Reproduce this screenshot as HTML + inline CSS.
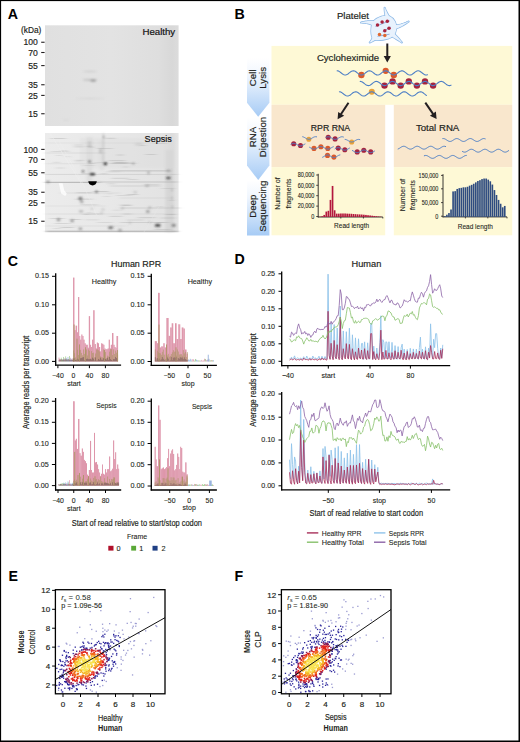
<!DOCTYPE html>
<html><head><meta charset="utf-8"><style>
html,body{margin:0;padding:0;background:#fff;}
body{width:520px;height:742px;overflow:hidden;}
svg{display:block;font-family:"Liberation Sans", sans-serif;}
</style></head><body>
<svg width="520" height="742" viewBox="0 0 520 742">
<rect x="0" y="0" width="520" height="742" fill="#fff"/>
<text x="7.70" y="19.00" font-size="14.2" text-anchor="start" font-weight="bold" fill="#000" >A</text>
<text x="41.30" y="33.00" font-size="8.6" text-anchor="end" font-weight="normal" fill="#231f20" stroke="#231f20" stroke-width="0.18" textLength="20.3" lengthAdjust="spacingAndGlyphs" >(kDa)</text>
<text x="37.80" y="45.35" font-size="8.6" text-anchor="end" font-weight="normal" fill="#231f20" stroke="#231f20" stroke-width="0.18" >100</text>
<line x1="41.20" y1="42.25" x2="44.60" y2="42.25" stroke="#231f20" stroke-width="1.1" />
<text x="37.80" y="55.60" font-size="8.6" text-anchor="end" font-weight="normal" fill="#231f20" stroke="#231f20" stroke-width="0.18" >70</text>
<line x1="41.20" y1="52.50" x2="44.60" y2="52.50" stroke="#231f20" stroke-width="1.1" />
<text x="37.80" y="68.70" font-size="8.6" text-anchor="end" font-weight="normal" fill="#231f20" stroke="#231f20" stroke-width="0.18" >55</text>
<line x1="41.20" y1="65.60" x2="44.60" y2="65.60" stroke="#231f20" stroke-width="1.1" />
<text x="37.80" y="87.85" font-size="8.6" text-anchor="end" font-weight="normal" fill="#231f20" stroke="#231f20" stroke-width="0.18" >35</text>
<line x1="41.20" y1="84.75" x2="44.60" y2="84.75" stroke="#231f20" stroke-width="1.1" />
<text x="37.80" y="98.50" font-size="8.6" text-anchor="end" font-weight="normal" fill="#231f20" stroke="#231f20" stroke-width="0.18" >25</text>
<line x1="41.20" y1="95.40" x2="44.60" y2="95.40" stroke="#231f20" stroke-width="1.1" />
<text x="37.80" y="116.85" font-size="8.6" text-anchor="end" font-weight="normal" fill="#231f20" stroke="#231f20" stroke-width="0.18" >15</text>
<line x1="41.20" y1="113.75" x2="44.60" y2="113.75" stroke="#231f20" stroke-width="1.1" />
<text x="37.80" y="152.50" font-size="8.6" text-anchor="end" font-weight="normal" fill="#231f20" stroke="#231f20" stroke-width="0.18" >100</text>
<line x1="41.20" y1="149.40" x2="44.60" y2="149.40" stroke="#231f20" stroke-width="1.1" />
<text x="37.80" y="162.50" font-size="8.6" text-anchor="end" font-weight="normal" fill="#231f20" stroke="#231f20" stroke-width="0.18" >70</text>
<line x1="41.20" y1="159.40" x2="44.60" y2="159.40" stroke="#231f20" stroke-width="1.1" />
<text x="37.80" y="175.85" font-size="8.6" text-anchor="end" font-weight="normal" fill="#231f20" stroke="#231f20" stroke-width="0.18" >55</text>
<line x1="41.20" y1="172.75" x2="44.60" y2="172.75" stroke="#231f20" stroke-width="1.1" />
<text x="37.80" y="195.35" font-size="8.6" text-anchor="end" font-weight="normal" fill="#231f20" stroke="#231f20" stroke-width="0.18" >35</text>
<line x1="41.20" y1="192.25" x2="44.60" y2="192.25" stroke="#231f20" stroke-width="1.1" />
<text x="37.80" y="205.85" font-size="8.6" text-anchor="end" font-weight="normal" fill="#231f20" stroke="#231f20" stroke-width="0.18" >25</text>
<line x1="41.20" y1="202.75" x2="44.60" y2="202.75" stroke="#231f20" stroke-width="1.1" />
<text x="37.80" y="224.35" font-size="8.6" text-anchor="end" font-weight="normal" fill="#231f20" stroke="#231f20" stroke-width="0.18" >15</text>
<line x1="41.20" y1="221.25" x2="44.60" y2="221.25" stroke="#231f20" stroke-width="1.1" />
<defs><filter id="blur1" x="-50%" y="-50%" width="200%" height="200%"><feGaussianBlur stdDeviation="0.8"/></filter><filter id="blur2" x="-50%" y="-50%" width="200%" height="200%"><feGaussianBlur stdDeviation="1.3"/></filter><filter id="blur05" x="-50%" y="-50%" width="200%" height="200%"><feGaussianBlur stdDeviation="0.5"/></filter><filter id="blurh" x="-20%" y="-50%" width="140%" height="200%"><feGaussianBlur stdDeviation="2.2 0.45"/></filter><linearGradient id="gel1g" x1="0" y1="0" x2="1" y2="0"><stop offset="0" stop-color="#e0e0e0"/><stop offset="0.5" stop-color="#e3e3e3"/><stop offset="0.85" stop-color="#dedede"/><stop offset="0.95" stop-color="#d8d8d8"/><stop offset="1" stop-color="#dcdcdc"/></linearGradient><linearGradient id="gel2g" x1="0" y1="0" x2="1" y2="0"><stop offset="0" stop-color="#ececec"/><stop offset="0.5" stop-color="#e8e8e8"/><stop offset="0.88" stop-color="#e3e3e3"/><stop offset="0.95" stop-color="#dcdcdc"/><stop offset="1" stop-color="#e6e6e6"/></linearGradient></defs>
<rect x="45.00" y="25.30" width="133.60" height="100.70" fill="url(#gel1g)" />
<g filter="url(#blur1)"><ellipse cx="90" cy="79.9" rx="7.5" ry="0.9" fill="#aaa" opacity="0.6"/><ellipse cx="93.2" cy="80.6" rx="3" ry="1.2" fill="#888" opacity="0.75"/><ellipse cx="90" cy="71.4" rx="7" ry="0.5" fill="#b0b0b0" opacity="0.6"/><ellipse cx="90" cy="98.5" rx="16" ry="0.45" fill="#c4c4c4" opacity="0.6"/><ellipse cx="66" cy="120" rx="3" ry="0.6" fill="#ccc" opacity="0.6"/></g>
<text x="142.40" y="34.80" font-size="9.6" text-anchor="start" font-weight="normal" fill="#111" stroke="#111" stroke-width="0.18" textLength="32.8" lengthAdjust="spacingAndGlyphs" >Healthy</text>
<rect x="45.00" y="133.00" width="133.60" height="99.30" fill="url(#gel2g)" />
<g filter="url(#blur2)">
<rect x="165.5" y="150" width="8" height="82" fill="#cfcfcf" opacity="0.55"/>
<rect x="86.5" y="137" width="6" height="45" fill="#d4d4d4" opacity="0.5"/>
<rect x="99.5" y="140" width="5" height="30" fill="#d4d4d4" opacity="0.4"/>
<rect x="80" y="138" width="95" height="30" fill="#dadada" opacity="0.35"/>
</g>
<g filter="url(#blurh)">
<rect x="45" y="181.85" width="55" height="0.9" fill="#777" opacity="0.55"/>
<rect x="100" y="181.60" width="78" height="0.8" fill="#888" opacity="0.4"/>
<rect x="45" y="173.95" width="133" height="0.7" fill="#999" opacity="0.35"/>
<rect x="45" y="152.70" width="60" height="0.6" fill="#aaa" opacity="0.4"/>
<rect x="110" y="163.15" width="16" height="0.7" fill="#999" opacity="0.5"/>
<rect x="110" y="170.00" width="60" height="1.6" fill="#bbb" opacity="0.55"/>
<rect x="46" y="163.50" width="40" height="0.6" fill="#bbb" opacity="0.4"/>
<rect x="120" y="207.60" width="60" height="0.8" fill="#aaa" opacity="0.5"/>
<rect x="46" y="205.70" width="60" height="0.6" fill="#c0c0c0" opacity="0.4"/>
<rect x="46" y="230.65" width="132" height="1.5" fill="#aaa" opacity="0.7"/>
<rect x="110" y="185.65" width="50" height="0.7" fill="#aaa" opacity="0.5"/>
<rect x="60" y="192.70" width="60" height="0.6" fill="#bbb" opacity="0.4"/>
<rect x="46" y="213.70" width="130" height="0.6" fill="#c4c4c4" opacity="0.5"/>
<rect x="120" y="222.15" width="45" height="0.7" fill="#aaa" opacity="0.5"/>
<rect x="46" y="225.70" width="80" height="0.6" fill="#c0c0c0" opacity="0.45"/>
<rect x="120" y="197.70" width="50" height="0.6" fill="#bbb" opacity="0.4"/>
<rect x="46" y="142.70" width="120" height="0.6" fill="#ccc" opacity="0.4"/>
<rect x="116.7" y="195.4" width="15.4" height="0.6" fill="#999" opacity="0.38"/>
<rect x="126.8" y="219.7" width="16.7" height="0.6" fill="#999" opacity="0.36"/>
<rect x="126.8" y="194.0" width="11.0" height="0.6" fill="#999" opacity="0.59"/>
<rect x="111.5" y="177.9" width="17.2" height="0.6" fill="#999" opacity="0.49"/>
<rect x="83.4" y="165.1" width="10.9" height="0.6" fill="#999" opacity="0.32"/>
<rect x="121.3" y="205.2" width="10.0" height="0.6" fill="#999" opacity="0.55"/>
<rect x="161.1" y="188.2" width="13.5" height="0.6" fill="#999" opacity="0.34"/>
<rect x="52.9" y="228.1" width="8.0" height="0.6" fill="#999" opacity="0.36"/>
<rect x="157.2" y="206.5" width="5.7" height="0.6" fill="#999" opacity="0.40"/>
<rect x="76.1" y="161.6" width="4.1" height="0.6" fill="#999" opacity="0.46"/>
<rect x="83.7" y="173.1" width="6.6" height="0.6" fill="#999" opacity="0.33"/>
<rect x="50.1" y="218.0" width="14.5" height="0.6" fill="#999" opacity="0.47"/>
<rect x="61.4" y="150.0" width="5.7" height="0.6" fill="#999" opacity="0.39"/>
<rect x="53.1" y="161.9" width="6.8" height="0.6" fill="#999" opacity="0.36"/>
<rect x="127.1" y="179.0" width="10.6" height="0.6" fill="#999" opacity="0.41"/>
<rect x="112.8" y="209.8" width="8.3" height="0.6" fill="#999" opacity="0.32"/>
<rect x="105.7" y="171.6" width="14.9" height="0.6" fill="#999" opacity="0.33"/>
<rect x="154.2" y="137.4" width="11.6" height="0.6" fill="#999" opacity="0.43"/>
<rect x="85.1" y="219.6" width="13.8" height="0.6" fill="#999" opacity="0.35"/>
<rect x="107.4" y="193.6" width="4.5" height="0.6" fill="#999" opacity="0.33"/>
<rect x="120.6" y="204.6" width="10.5" height="0.6" fill="#999" opacity="0.43"/>
<rect x="108.9" y="160.5" width="16.3" height="0.6" fill="#999" opacity="0.59"/>
<rect x="105.8" y="137.9" width="9.6" height="0.6" fill="#999" opacity="0.54"/>
<rect x="86.3" y="145.9" width="6.6" height="0.6" fill="#999" opacity="0.51"/>
<rect x="123.1" y="162.9" width="12.7" height="0.6" fill="#999" opacity="0.53"/>
<rect x="165.8" y="214.1" width="10.1" height="0.6" fill="#999" opacity="0.54"/>
<rect x="160.8" y="217.7" width="14.5" height="0.6" fill="#999" opacity="0.48"/>
<rect x="109.4" y="215.9" width="12.8" height="0.6" fill="#999" opacity="0.52"/>
<rect x="74.3" y="144.7" width="7.8" height="0.6" fill="#999" opacity="0.48"/>
<rect x="117.1" y="154.7" width="6.6" height="0.6" fill="#999" opacity="0.59"/>
<rect x="54.9" y="223.1" width="14.8" height="0.6" fill="#999" opacity="0.47"/>
<rect x="169.5" y="199.9" width="4.1" height="0.6" fill="#999" opacity="0.58"/>
<rect x="97.3" y="222.2" width="15.4" height="0.6" fill="#999" opacity="0.34"/>
<rect x="50.9" y="138.0" width="14.9" height="0.6" fill="#999" opacity="0.54"/>
<rect x="74.3" y="146.6" width="9.1" height="0.6" fill="#999" opacity="0.54"/>
<rect x="137.9" y="217.5" width="17.6" height="0.6" fill="#999" opacity="0.53"/>
<rect x="149.6" y="137.5" width="4.1" height="0.6" fill="#999" opacity="0.56"/>
<rect x="122.7" y="166.7" width="5.8" height="0.6" fill="#999" opacity="0.40"/>
<rect x="88.1" y="182.6" width="10.3" height="0.6" fill="#999" opacity="0.36"/>
<rect x="56.2" y="155.1" width="5.8" height="0.6" fill="#999" opacity="0.33"/>
<rect x="97.4" y="148.2" width="15.2" height="0.6" fill="#999" opacity="0.46"/>
<rect x="103.1" y="196.1" width="7.3" height="0.6" fill="#999" opacity="0.31"/>
<rect x="55.8" y="167.7" width="9.1" height="0.6" fill="#999" opacity="0.38"/>
<rect x="84.0" y="214.4" width="4.1" height="0.6" fill="#999" opacity="0.43"/>
<rect x="93.5" y="162.5" width="14.1" height="0.6" fill="#999" opacity="0.37"/>
<rect x="51.2" y="151.0" width="17.7" height="0.6" fill="#999" opacity="0.40"/>
<rect x="60.5" y="227.3" width="13.0" height="0.6" fill="#999" opacity="0.59"/>
<rect x="87.1" y="212.1" width="4.6" height="0.6" fill="#999" opacity="0.37"/>
<rect x="144.5" y="184.5" width="15.1" height="0.6" fill="#999" opacity="0.42"/>
<rect x="154.7" y="143.3" width="12.7" height="0.6" fill="#999" opacity="0.36"/>
<rect x="70.7" y="219.0" width="10.0" height="0.6" fill="#999" opacity="0.54"/>
<rect x="81.2" y="204.6" width="16.7" height="0.6" fill="#999" opacity="0.49"/>
<rect x="75.1" y="198.8" width="17.3" height="0.6" fill="#999" opacity="0.54"/>
<rect x="101.0" y="173.5" width="5.4" height="0.6" fill="#999" opacity="0.53"/>
<rect x="65.6" y="156.5" width="4.5" height="0.6" fill="#999" opacity="0.35"/>
<rect x="93.6" y="180.8" width="6.5" height="0.6" fill="#999" opacity="0.43"/>
<rect x="140.0" y="145.1" width="5.9" height="0.6" fill="#999" opacity="0.46"/>
<rect x="158.1" y="222.3" width="12.0" height="0.6" fill="#999" opacity="0.33"/>
<rect x="154.3" y="229.3" width="16.6" height="0.6" fill="#999" opacity="0.46"/>
<rect x="93.4" y="191.2" width="15.1" height="0.6" fill="#999" opacity="0.60"/>
<rect x="107.2" y="183.6" width="8.3" height="0.6" fill="#999" opacity="0.46"/>
<rect x="113.4" y="162.6" width="10.4" height="0.6" fill="#999" opacity="0.57"/>
<rect x="75.3" y="159.9" width="8.3" height="0.6" fill="#999" opacity="0.56"/>
<rect x="83.6" y="213.7" width="17.0" height="0.6" fill="#999" opacity="0.56"/>
<rect x="145.7" y="154.3" width="10.3" height="0.6" fill="#999" opacity="0.55"/>
<rect x="76.5" y="192.6" width="16.2" height="0.6" fill="#999" opacity="0.58"/>
<rect x="89.5" y="147.2" width="4.4" height="0.6" fill="#999" opacity="0.39"/>
<rect x="113.8" y="162.4" width="15.5" height="0.6" fill="#999" opacity="0.50"/>
<rect x="123.0" y="213.7" width="8.6" height="0.6" fill="#999" opacity="0.49"/>
<rect x="89.5" y="163.2" width="5.6" height="0.6" fill="#999" opacity="0.54"/>
</g><g filter="url(#blur1)">
<ellipse cx="92.5" cy="174.3" rx="3.0" ry="0.95" fill="#000" opacity="0.95"/>
<ellipse cx="105.3" cy="163.7" rx="1.8" ry="1.3" fill="#111" opacity="1"/>
<ellipse cx="83" cy="171.4" rx="1.3" ry="0.8" fill="#222" opacity="0.9"/>
<ellipse cx="89.5" cy="161.6" rx="1.7" ry="1.1" fill="#555" opacity="0.8"/>
<ellipse cx="96.5" cy="191.8" rx="1.6" ry="1.1" fill="#555" opacity="0.8"/>
<ellipse cx="80.4" cy="198.5" rx="2.2" ry="1.4" fill="#555" opacity="0.8"/>
<ellipse cx="81.7" cy="201.7" rx="1.8" ry="0.9" fill="#555" opacity="0.7"/>
<ellipse cx="58.5" cy="219.7" rx="2.0" ry="1.3" fill="#666" opacity="0.7"/>
<ellipse cx="72.1" cy="220.8" rx="2.0" ry="1.0" fill="#555" opacity="0.75"/>
<ellipse cx="110.1" cy="227.8" rx="2.2" ry="1.0" fill="#444" opacity="0.75"/>
<ellipse cx="80.4" cy="228.7" rx="2.0" ry="0.9" fill="#555" opacity="0.7"/>
<ellipse cx="81.1" cy="211.4" rx="2.4" ry="0.8" fill="#777" opacity="0.6"/>
<ellipse cx="157.7" cy="225.4" rx="3.0" ry="1.3" fill="#222" opacity="0.85"/>
<ellipse cx="173.7" cy="225.4" rx="2.2" ry="1.1" fill="#444" opacity="0.75"/>
<ellipse cx="147.8" cy="211.5" rx="2.0" ry="0.9" fill="#555" opacity="0.7"/>
<ellipse cx="149.8" cy="207.5" rx="1.8" ry="0.7" fill="#777" opacity="0.6"/>
<ellipse cx="120" cy="230.1" rx="2.0" ry="0.9" fill="#555" opacity="0.7"/>
<ellipse cx="111.3" cy="227.4" rx="2.4" ry="1.0" fill="#444" opacity="0.7"/>
<ellipse cx="168.4" cy="178.0" rx="2.6" ry="1.0" fill="#222" opacity="0.9"/>
<ellipse cx="148.5" cy="172.8" rx="1.5" ry="0.8" fill="#555" opacity="0.7"/>
<ellipse cx="133.2" cy="163.5" rx="1.4" ry="0.7" fill="#666" opacity="0.7"/>
<ellipse cx="89.5" cy="142.7" rx="2.2" ry="0.8" fill="#999" opacity="0.6"/>
<ellipse cx="89.5" cy="145.9" rx="2.2" ry="0.8" fill="#999" opacity="0.6"/>
<ellipse cx="103.6" cy="136.9" rx="0.9" ry="0.9" fill="#555" opacity="0.8"/>
<ellipse cx="100.4" cy="149.8" rx="1.5" ry="0.7" fill="#888" opacity="0.6"/>
<ellipse cx="100.4" cy="152.3" rx="1.5" ry="0.7" fill="#888" opacity="0.6"/>
<ellipse cx="147.1" cy="185.7" rx="2.5" ry="0.8" fill="#777" opacity="0.6"/>
<ellipse cx="135.2" cy="192.3" rx="2" ry="0.7" fill="#888" opacity="0.5"/>
<ellipse cx="122.6" cy="208.2" rx="1.8" ry="0.7" fill="#888" opacity="0.5"/>
<ellipse cx="92" cy="208.8" rx="1.6" ry="0.7" fill="#888" opacity="0.5"/>
<ellipse cx="103" cy="209.4" rx="1.8" ry="0.7" fill="#888" opacity="0.5"/>
<ellipse cx="101.7" cy="212.9" rx="1.8" ry="0.7" fill="#888" opacity="0.5"/>
<ellipse cx="129.9" cy="222.8" rx="1.8" ry="0.6" fill="#888" opacity="0.5"/>
<ellipse cx="149.8" cy="222.1" rx="1.8" ry="0.6" fill="#888" opacity="0.5"/>
<ellipse cx="172.3" cy="206.9" rx="1.6" ry="0.7" fill="#888" opacity="0.5"/>
<ellipse cx="168.5" cy="170.8" rx="2.5" ry="0.8" fill="#666" opacity="0.6"/>
<ellipse cx="48" cy="181.8" rx="2" ry="0.7" fill="#444" opacity="0.7"/>
<ellipse cx="139" cy="144.3" rx="5" ry="0.8" fill="#aaa" opacity="0.5"/>
<ellipse cx="172" cy="190" rx="1.5" ry="0.8" fill="#888" opacity="0.5"/>
<ellipse cx="172" cy="198" rx="1.5" ry="0.8" fill="#888" opacity="0.5"/>
<rect x="102.8" y="133" width="0.9" height="32" fill="#999" opacity="0.45"/>
</g>
<g filter="url(#blur05)"><path d="M88.3,181.3 L96.8,181.3 C96.8,183.6 94.9,185.4 92.55,185.4 C90.2,185.4 88.3,183.6 88.3,181.3 Z" fill="#000"/></g>
<g filter="url(#blur05)" opacity="0.8"><line x1="50.2" y1="133.5" x2="81.1" y2="183" stroke="#efefef" stroke-width="0.7"/><line x1="59" y1="141" x2="82.5" y2="183" stroke="#eeeeee" stroke-width="0.5"/><line x1="82.5" y1="183" x2="96.5" y2="215" stroke="#eeeeee" stroke-width="0.5"/><path d="M58.8,183.3 L62.6,183.3 L64.2,190.3 L66.8,193.8 L65.2,196.0 L61.2,193.4 Z" fill="#ffffff"/><line x1="144" y1="232" x2="160" y2="205" stroke="#ebebeb" stroke-width="0.4"/></g>
<text x="144.60" y="141.80" font-size="9.6" text-anchor="start" font-weight="normal" fill="#111" stroke="#111" stroke-width="0.18" textLength="27.2" lengthAdjust="spacingAndGlyphs" >Sepsis</text>
<text x="234.40" y="18.80" font-size="14.2" text-anchor="start" font-weight="bold" fill="#000" >B</text>
<rect x="271.50" y="45.90" width="240.70" height="58.90" fill="#fef9d6" />
<rect x="271.50" y="104.80" width="113.70" height="62.30" fill="#f9e7cd" />
<rect x="393.80" y="104.80" width="118.40" height="62.30" fill="#f9e7cd" />
<rect x="271.50" y="167.10" width="113.70" height="68.20" fill="#fef9d6" />
<rect x="393.80" y="167.10" width="118.40" height="68.20" fill="#fef9d6" />
<defs><linearGradient id="chev" x1="0" y1="0" x2="0" y2="1"><stop offset="0" stop-color="#ffffff"/><stop offset="0.3" stop-color="#f0f6fe"/><stop offset="1" stop-color="#a6cbf5"/></linearGradient></defs>
<path d="M247,58 L269.4,58 L269.4,102.8 L258.2,116.8 L247,102.8 Z" fill="url(#chev)"/>
<path d="M247,117.2 L269.4,117.2 L269.4,165.6 L258.2,180 L247,165.6 Z" fill="url(#chev)"/>
<path d="M247,180.3 L269.4,180.3 L269.4,235.5 L247,235.5 Z" fill="url(#chev)"/>
<text transform="translate(256.40,77.80) rotate(-90)" x="0" y="0" font-size="9.7" text-anchor="middle" font-weight="normal" fill="#231f20" stroke="#231f20" stroke-width="0.18">Cell</text>
<text transform="translate(266.20,77.80) rotate(-90)" x="0" y="0" font-size="9.7" text-anchor="middle" font-weight="normal" fill="#231f20" stroke="#231f20" stroke-width="0.18">Lysis</text>
<text transform="translate(256.40,137.00) rotate(-90)" x="0" y="0" font-size="9.7" text-anchor="middle" font-weight="normal" fill="#231f20" stroke="#231f20" stroke-width="0.18">RNA</text>
<text transform="translate(266.20,137.00) rotate(-90)" x="0" y="0" font-size="9.7" text-anchor="middle" font-weight="normal" fill="#231f20" stroke="#231f20" stroke-width="0.18">Digestion</text>
<text transform="translate(256.40,206.20) rotate(-90)" x="0" y="0" font-size="9.7" text-anchor="middle" font-weight="normal" fill="#231f20" stroke="#231f20" stroke-width="0.18">Deep</text>
<text transform="translate(266.20,206.20) rotate(-90)" x="0" y="0" font-size="9.7" text-anchor="middle" font-weight="normal" fill="#231f20" stroke="#231f20" stroke-width="0.18">Sequencing</text>
<text x="336.90" y="19.40" font-size="9.6" text-anchor="start" font-weight="normal" fill="#231f20" stroke="#231f20" stroke-width="0.18" textLength="32" lengthAdjust="spacingAndGlyphs" >Platelet</text>
<text x="316.90" y="60.80" font-size="9.6" text-anchor="start" font-weight="normal" fill="#231f20" stroke="#231f20" stroke-width="0.18" textLength="62.3" lengthAdjust="spacingAndGlyphs" >Cycloheximide</text>
<text x="310.80" y="130.80" font-size="9.4" text-anchor="start" font-weight="normal" fill="#231f20" stroke="#231f20" stroke-width="0.18" textLength="39.4" lengthAdjust="spacingAndGlyphs" >RPR RNA</text>
<text x="415.90" y="131.00" font-size="9.4" text-anchor="start" font-weight="normal" fill="#231f20" stroke="#231f20" stroke-width="0.18" textLength="43.4" lengthAdjust="spacingAndGlyphs" >Total RNA</text>
<path d="M390.55,18.58 L390.03,17.74 L389.52,16.91 L389.04,16.09 L388.57,15.28 L388.11,14.47 L387.68,13.68 L387.26,12.89 L386.86,12.10 L386.48,11.33 L386.12,10.56 L385.77,9.80 L385.45,9.05 L385.14,8.30 L384.85,7.55 L384.35,7.65 L384.37,8.46 L384.40,9.28 L384.46,10.13 L384.53,10.99 L384.63,11.87 L384.75,12.76 L384.89,13.66 L385.05,14.59 L385.23,15.52 L385.43,16.47 L385.65,17.44 L385.90,18.42 L386.16,19.41 L386.45,20.42 Z" fill="#e8f2fd" stroke="#8db9e6" stroke-width="1.5" stroke-linejoin="round"/>
<path d="M392.20,29.74 L393.42,29.47 L394.63,29.14 L395.84,28.77 L397.04,28.35 L398.24,27.88 L399.44,27.36 L400.63,26.80 L401.82,26.19 L403.00,25.54 L404.19,24.84 L405.37,24.10 L406.56,23.32 L407.74,22.49 L408.93,21.61 L408.67,21.19 L407.35,21.81 L406.05,22.38 L404.76,22.89 L403.49,23.36 L402.23,23.77 L400.99,24.14 L399.77,24.45 L398.57,24.71 L397.39,24.92 L396.23,25.09 L395.09,25.20 L393.97,25.27 L392.88,25.29 L391.80,25.26 Z" fill="#e8f2fd" stroke="#8db9e6" stroke-width="1.5" stroke-linejoin="round"/>
<path d="M389.65,35.30 L390.58,35.82 L391.49,36.34 L392.40,36.87 L393.30,37.40 L394.20,37.92 L395.08,38.46 L395.95,38.99 L396.82,39.52 L397.68,40.06 L398.52,40.60 L399.36,41.14 L400.19,41.69 L401.02,42.23 L401.83,42.78 L402.17,42.42 L401.54,41.65 L400.91,40.89 L400.26,40.12 L399.60,39.36 L398.93,38.59 L398.24,37.83 L397.55,37.06 L396.84,36.30 L396.12,35.53 L395.39,34.76 L394.65,34.00 L393.89,33.23 L393.13,32.47 L392.35,31.70 Z" fill="#e8f2fd" stroke="#8db9e6" stroke-width="1.5" stroke-linejoin="round"/>
<path d="M373.49,36.19 L373.23,36.68 L372.96,37.16 L372.69,37.63 L372.42,38.10 L372.14,38.56 L371.86,39.01 L371.58,39.46 L371.29,39.90 L370.99,40.33 L370.69,40.76 L370.39,41.18 L370.08,41.59 L369.77,42.00 L369.45,42.40 L369.75,42.80 L370.23,42.59 L370.71,42.37 L371.19,42.14 L371.67,41.90 L372.16,41.64 L372.64,41.37 L373.12,41.09 L373.61,40.80 L374.09,40.50 L374.58,40.18 L375.06,39.86 L375.54,39.52 L376.03,39.17 L376.51,38.81 Z" fill="#e8f2fd" stroke="#8db9e6" stroke-width="1.5" stroke-linejoin="round"/>
<path d="M374.68,21.35 L373.70,21.21 L372.72,21.11 L371.74,21.03 L370.75,21.00 L369.77,20.99 L368.78,21.02 L367.79,21.08 L366.79,21.17 L365.79,21.29 L364.80,21.44 L363.79,21.63 L362.79,21.84 L361.78,22.08 L360.77,22.35 L360.83,22.85 L361.87,22.86 L362.88,22.91 L363.87,22.98 L364.84,23.09 L365.78,23.22 L366.71,23.38 L367.61,23.57 L368.50,23.79 L369.36,24.03 L370.19,24.31 L371.01,24.60 L371.80,24.93 L372.57,25.27 L373.32,25.65 Z" fill="#e8f2fd" stroke="#8db9e6" stroke-width="1.5" stroke-linejoin="round"/>
<path d="M373,21.5 C378,16.5 385,14.8 389.5,16.3 C394.5,18.5 397,24 396.3,29 C395.7,34 393,37.3 388,38.8 C383,40.3 377,40.8 373.3,39.6 C370.6,36 370.3,27 373,21.5 Z" fill="#e8f2fd" stroke="#8db9e6" stroke-width="1.5" stroke-linejoin="round"/>
<path d="M390.55,18.58 L390.03,17.74 L389.52,16.91 L389.04,16.09 L388.57,15.28 L388.11,14.47 L387.68,13.68 L387.26,12.89 L386.86,12.10 L386.48,11.33 L386.12,10.56 L385.77,9.80 L385.45,9.05 L385.14,8.30 L384.85,7.55 L384.35,7.65 L384.37,8.46 L384.40,9.28 L384.46,10.13 L384.53,10.99 L384.63,11.87 L384.75,12.76 L384.89,13.66 L385.05,14.59 L385.23,15.52 L385.43,16.47 L385.65,17.44 L385.90,18.42 L386.16,19.41 L386.45,20.42 Z" fill="#e8f2fd"/>
<path d="M392.20,29.74 L393.42,29.47 L394.63,29.14 L395.84,28.77 L397.04,28.35 L398.24,27.88 L399.44,27.36 L400.63,26.80 L401.82,26.19 L403.00,25.54 L404.19,24.84 L405.37,24.10 L406.56,23.32 L407.74,22.49 L408.93,21.61 L408.67,21.19 L407.35,21.81 L406.05,22.38 L404.76,22.89 L403.49,23.36 L402.23,23.77 L400.99,24.14 L399.77,24.45 L398.57,24.71 L397.39,24.92 L396.23,25.09 L395.09,25.20 L393.97,25.27 L392.88,25.29 L391.80,25.26 Z" fill="#e8f2fd"/>
<path d="M389.65,35.30 L390.58,35.82 L391.49,36.34 L392.40,36.87 L393.30,37.40 L394.20,37.92 L395.08,38.46 L395.95,38.99 L396.82,39.52 L397.68,40.06 L398.52,40.60 L399.36,41.14 L400.19,41.69 L401.02,42.23 L401.83,42.78 L402.17,42.42 L401.54,41.65 L400.91,40.89 L400.26,40.12 L399.60,39.36 L398.93,38.59 L398.24,37.83 L397.55,37.06 L396.84,36.30 L396.12,35.53 L395.39,34.76 L394.65,34.00 L393.89,33.23 L393.13,32.47 L392.35,31.70 Z" fill="#e8f2fd"/>
<path d="M373.49,36.19 L373.23,36.68 L372.96,37.16 L372.69,37.63 L372.42,38.10 L372.14,38.56 L371.86,39.01 L371.58,39.46 L371.29,39.90 L370.99,40.33 L370.69,40.76 L370.39,41.18 L370.08,41.59 L369.77,42.00 L369.45,42.40 L369.75,42.80 L370.23,42.59 L370.71,42.37 L371.19,42.14 L371.67,41.90 L372.16,41.64 L372.64,41.37 L373.12,41.09 L373.61,40.80 L374.09,40.50 L374.58,40.18 L375.06,39.86 L375.54,39.52 L376.03,39.17 L376.51,38.81 Z" fill="#e8f2fd"/>
<path d="M374.68,21.35 L373.70,21.21 L372.72,21.11 L371.74,21.03 L370.75,21.00 L369.77,20.99 L368.78,21.02 L367.79,21.08 L366.79,21.17 L365.79,21.29 L364.80,21.44 L363.79,21.63 L362.79,21.84 L361.78,22.08 L360.77,22.35 L360.83,22.85 L361.87,22.86 L362.88,22.91 L363.87,22.98 L364.84,23.09 L365.78,23.22 L366.71,23.38 L367.61,23.57 L368.50,23.79 L369.36,24.03 L370.19,24.31 L371.01,24.60 L371.80,24.93 L372.57,25.27 L373.32,25.65 Z" fill="#e8f2fd"/>
<path d="M373,21.5 C378,16.5 385,14.8 389.5,16.3 C394.5,18.5 397,24 396.3,29 C395.7,34 393,37.3 388,38.8 C383,40.3 377,40.8 373.3,39.6 C370.6,36 370.3,27 373,21.5 Z" fill="#e8f2fd"/>
<path d="M375.5,26.5 L389.6,20.7 M382.7,31.7 L390.8,27.1 M377.5,36.3 L389.6,34.2" stroke="#5a86c8" stroke-width="0.6" fill="none"/>
<circle cx="377.5" cy="25.1" r="1.75" fill="#a8243f"/>
<circle cx="382.1" cy="22.1" r="1.75" fill="#a8243f"/>
<circle cx="387.3" cy="21.3" r="1.75" fill="#a8243f"/>
<circle cx="384.8" cy="30.8" r="1.75" fill="#a8243f"/>
<circle cx="389.0" cy="28.2" r="1.75" fill="#a8243f"/>
<circle cx="379.5" cy="34.6" r="1.75" fill="#e0682f"/>
<circle cx="384.8" cy="35.4" r="1.75" fill="#e0682f"/>
<line x1="387.30" y1="43.50" x2="387.30" y2="56.60" stroke="#231f20" stroke-width="2.0" />
<path d="M387.30,62.60 L383.70,56.10 L390.90,56.10 Z" fill="#231f20"/>
<line x1="348.50" y1="102.80" x2="340.91" y2="114.29" stroke="#231f20" stroke-width="2.0" />
<path d="M337.60,119.30 L338.18,111.89 L344.19,115.86 Z" fill="#231f20"/>
<line x1="425.30" y1="102.60" x2="433.20" y2="114.06" stroke="#231f20" stroke-width="2.0" />
<path d="M436.60,119.00 L429.95,115.69 L435.88,111.60 Z" fill="#231f20"/>
<circle cx="361.40" cy="75.00" r="3.2" fill="#da5a2c"/>
<circle cx="385.70" cy="70.80" r="3.1" fill="#da5a2c"/>
<circle cx="393.80" cy="75.00" r="3.2" fill="#da5a2c"/>
<circle cx="384.50" cy="85.60" r="3.2" fill="#a5243f"/>
<circle cx="392.60" cy="81.40" r="3.2" fill="#a5243f"/>
<circle cx="400.70" cy="85.60" r="3.2" fill="#a5243f"/>
<circle cx="408.80" cy="81.40" r="3.2" fill="#a5243f"/>
<circle cx="416.90" cy="85.60" r="3.2" fill="#a5243f"/>
<circle cx="425.00" cy="81.40" r="3.2" fill="#a5243f"/>
<circle cx="433.10" cy="85.60" r="3.2" fill="#a5243f"/>
<circle cx="371.80" cy="91.80" r="3.0" fill="#e9a23a"/>
<polyline points="337.10,70.80 337.80,70.88 338.49,71.10 339.19,71.45 339.88,71.91 340.58,72.44 341.27,73.00 341.97,73.55 342.66,74.06 343.36,74.49 344.05,74.80 344.75,74.97 345.44,74.99 346.14,74.86 346.84,74.59 347.53,74.20 348.23,73.71 348.92,73.17 349.62,72.60 350.31,72.06 351.01,71.58 351.70,71.19 352.40,70.93 353.09,70.81 353.79,70.84 354.48,71.02 355.18,71.33 355.88,71.76 356.57,72.27 357.27,72.83 357.96,73.39 358.66,73.92 359.35,74.37 360.05,74.72 360.74,74.93 361.44,75.00 362.13,74.92 362.83,74.69 363.52,74.33 364.22,73.86 364.92,73.33 365.61,72.77 366.31,72.22 367.00,71.71 367.70,71.29 368.39,70.99 369.09,70.83 369.78,70.81 370.48,70.95 371.17,71.23 371.87,71.63 372.56,72.12 373.26,72.66 373.96,73.23 374.65,73.77 375.35,74.25 376.04,74.63 376.74,74.88 377.43,75.00 378.13,74.96 378.82,74.77 379.52,74.44 380.21,74.01 380.91,73.50 381.60,72.94 382.30,72.38 383.00,71.85 383.69,71.41 384.39,71.07 385.08,70.86 385.78,70.80 386.47,70.89 387.17,71.13 387.86,71.50 388.56,71.96 389.25,72.50 389.95,73.06 390.64,73.61 391.34,74.11 392.04,74.53 392.73,74.82 393.43,74.98 394.12,74.98 394.82,74.84 395.51,74.55 396.21,74.15 396.90,73.65 397.60,73.10 398.29,72.54 398.99,72.00 399.68,71.53 400.38,71.15 401.08,70.91 401.77,70.80 402.47,70.85 403.16,71.05 403.86,71.38 404.55,71.82 405.25,72.34 405.94,72.89 406.64,73.45 407.33,73.97 408.03,74.42 408.72,74.75 409.42,74.95 410.12,75.00 410.81,74.90 411.51,74.65 412.20,74.28 412.90,73.81 413.59,73.27 414.29,72.71 414.98,72.16 415.68,71.66 416.37,71.25 417.07,70.97 417.76,70.82 418.46,70.82 419.16,70.97 419.85,71.27 420.55,71.68 421.24,72.18 421.94,72.73 422.63,73.29 423.33,73.83 424.02,74.29 424.72,74.66 425.41,74.90 426.11,75.00 426.80,74.94 427.50,74.74" fill="none" stroke="#4f80c6" stroke-width="1.1" stroke-linecap="round" stroke-linejoin="round"/>
<polyline points="360.20,81.40 360.90,81.48 361.60,81.70 362.30,82.06 362.99,82.52 363.69,83.05 364.39,83.61 365.09,84.17 365.79,84.68 366.49,85.10 367.18,85.41 367.88,85.57 368.58,85.59 369.28,85.45 369.98,85.17 370.68,84.77 371.38,84.28 372.07,83.72 372.77,83.16 373.47,82.62 374.17,82.14 374.87,81.76 375.57,81.51 376.26,81.40 376.96,81.45 377.66,81.65 378.36,81.98 379.06,82.42 379.76,82.94 380.46,83.50 381.15,84.07 381.85,84.59 382.55,85.03 383.25,85.36 383.95,85.55 384.65,85.60 385.34,85.49 386.04,85.24 386.74,84.86 387.44,84.38 388.14,83.83 388.84,83.27 389.54,82.72 390.23,82.22 390.93,81.82 391.63,81.55 392.33,81.41 393.03,81.43 393.73,81.60 394.42,81.90 395.12,82.33 395.82,82.84 396.52,83.39 397.22,83.96 397.92,84.49 398.62,84.95 399.31,85.30 400.01,85.53 400.71,85.60 401.41,85.52 402.11,85.29 402.81,84.94 403.50,84.48 404.20,83.94 404.90,83.38 405.60,82.82 406.30,82.31 407.00,81.89 407.70,81.59 408.39,81.43 409.09,81.41 409.79,81.55 410.49,81.83 411.19,82.24 411.89,82.73 412.58,83.28 413.28,83.85 413.98,84.39 414.68,84.87 415.38,85.24 416.08,85.49 416.78,85.60 417.47,85.55 418.17,85.35 418.87,85.02 419.57,84.57 420.27,84.05 420.97,83.49 421.66,82.93 422.36,82.41 423.06,81.97 423.76,81.64 424.46,81.45 425.16,81.40 425.86,81.51 426.55,81.77 427.25,82.15 427.95,82.63 428.65,83.17 429.35,83.74 430.05,84.29 430.74,84.78 431.44,85.18 432.14,85.46 432.84,85.59 433.54,85.57 434.24,85.40 434.94,85.09 435.63,84.66 436.33,84.15 437.03,83.60 437.73,83.03 438.43,82.50 439.13,82.04 439.82,81.69 440.52,81.47 441.22,81.40 441.92,81.48 442.62,81.71 443.32,82.07 444.02,82.53 444.71,83.07 445.41,83.63 446.11,84.19 446.81,84.69 447.51,85.11 448.21,85.41 448.90,85.58 449.60,85.59 450.30,85.44 451.00,85.16" fill="none" stroke="#4f80c6" stroke-width="1.1" stroke-linecap="round" stroke-linejoin="round"/>
<polyline points="339.40,91.80 340.10,91.88 340.79,92.10 341.49,92.45 342.19,92.91 342.88,93.44 343.58,94.01 344.28,94.56 344.97,95.07 345.67,95.49 346.37,95.80 347.06,95.97 347.76,95.99 348.46,95.86 349.16,95.58 349.85,95.19 350.55,94.70 351.25,94.15 351.94,93.58 352.64,93.04 353.34,92.56 354.03,92.18 354.73,91.92 355.43,91.80 356.12,91.84 356.82,92.03 357.52,92.35 358.21,92.79 358.91,93.31 359.61,93.87 360.30,94.43 361.00,94.95 361.70,95.40 362.39,95.74 363.09,95.94 363.79,96.00 364.48,95.90 365.18,95.66 365.88,95.29 366.58,94.82 367.27,94.29 367.97,93.72 368.67,93.17 369.36,92.67 370.06,92.26 370.76,91.97 371.45,91.82 372.15,91.82 372.85,91.97 373.54,92.26 374.24,92.67 374.94,93.17 375.63,93.72 376.33,94.29 377.03,94.83 377.72,95.30 378.42,95.66 379.12,95.90 379.81,96.00 380.51,95.94 381.21,95.74 381.90,95.40 382.60,94.95 383.30,94.43 384.00,93.86 384.69,93.30 385.39,92.79 386.09,92.35 386.78,92.03 387.48,91.84 388.18,91.80 388.87,91.92 389.57,92.18 390.27,92.56 390.96,93.04 391.66,93.58 392.36,94.15 393.05,94.70 393.75,95.19 394.45,95.58 395.14,95.86 395.84,95.99 396.54,95.97 397.23,95.80 397.93,95.49 398.63,95.07 399.32,94.56 400.02,94.00 400.72,93.44 401.42,92.91 402.11,92.45 402.81,92.10 403.51,91.88 404.20,91.80 404.90,91.88 405.60,92.10 406.29,92.45 406.99,92.91 407.69,93.44 408.38,94.01 409.08,94.56 409.78,95.07 410.47,95.49 411.17,95.80 411.87,95.97 412.56,95.99 413.26,95.86 413.96,95.58 414.65,95.18 415.35,94.69 416.05,94.15 416.74,93.58 417.44,93.04 418.14,92.56 418.84,92.18 419.53,91.92 420.23,91.80 420.93,91.84 421.62,92.03 422.32,92.36 423.02,92.79 423.71,93.31 424.41,93.87 425.11,94.43 425.80,94.95 426.50,95.40" fill="none" stroke="#4f80c6" stroke-width="1.1" stroke-linecap="round" stroke-linejoin="round"/>
<circle cx="293.70" cy="143.80" r="2.55" fill="#a5243f"/>
<circle cx="300.50" cy="145.50" r="2.55" fill="#a5243f"/>
<polyline points="291.00,144.24 291.67,143.88 292.33,143.60 293.00,143.42 293.67,143.35 294.33,143.41 295.00,143.58 295.67,143.85 296.33,144.20 297.00,144.59 297.67,144.99 298.33,145.35 299.00,145.65 299.67,145.85 300.33,145.95 301.00,145.92 301.67,145.77 302.33,145.51 303.00,145.18 303.67,144.79 304.33,144.39 305.00,144.02" fill="none" stroke="#4f80c6" stroke-width="0.95" stroke-linecap="round" stroke-linejoin="round"/>
<circle cx="308.80" cy="139.30" r="2.55" fill="#e9a23a"/>
<polyline points="302.70,136.77 303.39,136.96 304.09,137.26 304.78,137.64 305.48,138.05 306.18,138.46 306.87,138.82 307.56,139.09 308.26,139.26 308.95,139.30 309.65,139.20 310.35,138.98 311.04,138.66 311.74,138.28 312.43,137.86 313.12,137.46 313.82,137.12 314.52,136.86 315.21,136.72 315.91,136.71 316.60,136.84" fill="none" stroke="#4f80c6" stroke-width="0.95" stroke-linecap="round" stroke-linejoin="round"/>
<circle cx="328.20" cy="137.20" r="2.55" fill="#a5243f"/>
<circle cx="335.10" cy="138.90" r="2.55" fill="#a5243f"/>
<polyline points="326.00,137.35 326.70,137.04 327.39,136.84 328.09,136.75 328.78,136.80 329.48,136.96 330.18,137.24 330.87,137.60 331.57,138.00 332.26,138.41 332.96,138.78 333.66,139.08 334.35,139.28 335.05,139.35 335.74,139.29 336.44,139.12 337.14,138.83 337.83,138.47 338.53,138.06 339.22,137.66 339.92,137.29 340.62,137.00 341.31,136.81 342.01,136.75 342.70,136.82 343.40,137.01" fill="none" stroke="#4f80c6" stroke-width="0.95" stroke-linecap="round" stroke-linejoin="round"/>
<circle cx="351.70" cy="142.00" r="2.55" fill="#e9a23a"/>
<polyline points="345.10,139.41 345.80,139.51 346.50,139.74 347.20,140.07 347.90,140.46 348.60,140.88 349.30,141.28 350.00,141.62 350.70,141.86 351.40,141.99 352.10,141.98 352.80,141.84 353.50,141.58 354.20,141.23 354.90,140.82 355.60,140.40 356.30,140.02 357.00,139.70 357.70,139.49 358.40,139.40 359.10,139.45 359.80,139.63" fill="none" stroke="#4f80c6" stroke-width="0.95" stroke-linecap="round" stroke-linejoin="round"/>
<circle cx="314.00" cy="148.40" r="2.55" fill="#da5a2c"/>
<circle cx="320.90" cy="146.70" r="2.55" fill="#da5a2c"/>
<circle cx="327.80" cy="148.40" r="2.55" fill="#da5a2c"/>
<polyline points="309.60,147.29 310.30,147.68 310.99,148.09 311.69,148.48 312.39,148.80 313.09,149.02 313.78,149.13 314.48,149.10 315.18,148.95 315.87,148.69 316.57,148.34 317.27,147.94 317.96,147.53 318.66,147.15 319.36,146.84 320.06,146.63 320.75,146.54 321.45,146.57 322.15,146.74 322.84,147.01 323.54,147.37 324.24,147.77 324.94,148.18 325.63,148.55 326.33,148.85 327.03,149.05 327.72,149.13 328.42,149.08 329.12,148.91 329.81,148.62 330.51,148.26 331.21,147.86 331.91,147.45 332.60,147.08 333.30,146.79" fill="none" stroke="#4f80c6" stroke-width="0.95" stroke-linecap="round" stroke-linejoin="round"/>
<circle cx="338.20" cy="148.10" r="2.55" fill="#a5243f"/>
<circle cx="344.80" cy="149.70" r="2.55" fill="#a5243f"/>
<polyline points="335.10,148.78 335.78,148.37 336.46,148.02 337.14,147.76 337.82,147.62 338.50,147.61 339.19,147.74 339.87,147.99 340.55,148.33 341.23,148.73 341.91,149.15 342.59,149.54 343.27,149.87 343.95,150.10 344.63,150.20 345.31,150.16 346.00,150.00 346.68,149.72 347.36,149.35 348.04,148.94 348.72,148.52 349.40,148.15" fill="none" stroke="#4f80c6" stroke-width="0.95" stroke-linecap="round" stroke-linejoin="round"/>
<circle cx="357.20" cy="151.90" r="2.55" fill="#a5243f"/>
<circle cx="363.80" cy="150.20" r="2.55" fill="#a5243f"/>
<circle cx="370.70" cy="151.90" r="2.55" fill="#a5243f"/>
<polyline points="352.40,150.53 353.09,150.90 353.78,151.31 354.47,151.72 355.16,152.09 355.85,152.39 356.54,152.57 357.23,152.63 357.92,152.56 358.62,152.36 359.31,152.06 360.00,151.68 360.69,151.27 361.38,150.86 362.07,150.50 362.76,150.23 363.45,150.07 364.14,150.04 364.83,150.14 365.52,150.37 366.21,150.69 366.90,151.08 367.59,151.50 368.28,151.89 368.98,152.24 369.67,152.49 370.36,152.62 371.05,152.62 371.74,152.48 372.43,152.24 373.12,151.89 373.81,151.49 374.50,151.08" fill="none" stroke="#4f80c6" stroke-width="0.95" stroke-linecap="round" stroke-linejoin="round"/>
<circle cx="327.50" cy="155.40" r="2.55" fill="#da5a2c"/>
<circle cx="333.90" cy="157.10" r="2.55" fill="#da5a2c"/>
<polyline points="322.60,157.21 323.29,156.87 323.98,156.45 324.68,156.01 325.37,155.60 326.06,155.26 326.75,155.04 327.44,154.95 328.14,155.01 328.83,155.22 329.52,155.54 330.21,155.94 330.90,156.38 331.60,156.80 332.29,157.16 332.98,157.42 333.67,157.54 334.36,157.52 335.06,157.35 335.75,157.05 336.44,156.66 337.13,156.23 337.82,155.80 338.52,155.42 339.21,155.13 339.90,154.97" fill="none" stroke="#4f80c6" stroke-width="0.95" stroke-linecap="round" stroke-linejoin="round"/>
<polyline points="442.80,138.59 443.50,138.56 444.19,138.67 444.89,138.93 445.58,139.29 446.28,139.73 446.97,140.20 447.67,140.65 448.36,141.02 449.06,141.30 449.75,141.44 450.45,141.43 451.14,141.27 451.84,140.98 452.53,140.59 453.23,140.13 453.92,139.67 454.62,139.24 455.31,138.88 456.01,138.65 456.70,138.55 457.40,138.61 458.09,138.80 458.79,139.13 459.48,139.54 460.18,140.00 460.87,140.46 461.57,140.88 462.26,141.20 462.96,141.40 463.65,141.45 464.35,141.35 465.04,141.11 465.74,140.76 466.43,140.33 467.13,139.86 467.82,139.41 468.52,139.02 469.21,138.73 469.91,138.57 470.60,138.56 471.30,138.70 471.99,138.98 472.69,139.36 473.38,139.80 474.08,140.27 474.77,140.71 475.47,141.07 476.16,141.33 476.86,141.44 477.55,141.41 478.25,141.23 478.94,140.92 479.64,140.52 480.33,140.06 481.03,139.60 481.72,139.18 482.42,138.84 483.11,138.62 483.81,138.55 484.50,138.63 485.20,138.85" fill="none" stroke="#4f80c6" stroke-width="1.0" stroke-linecap="round" stroke-linejoin="round"/>
<polyline points="398.10,148.95 398.80,148.65 399.50,148.25 400.20,147.79 400.89,147.32 401.59,146.89 402.29,146.55 402.99,146.33 403.69,146.25 404.39,146.32 405.09,146.54 405.78,146.88 406.48,147.31 407.18,147.77 407.88,148.23 408.58,148.63 409.28,148.94 409.98,149.11 410.67,149.14 411.37,149.02 412.07,148.76 412.77,148.38 413.47,147.94 414.17,147.47 414.86,147.03 415.56,146.65 416.26,146.39 416.96,146.26 417.66,146.28 418.36,146.46 419.06,146.76 419.75,147.16 420.45,147.62 421.15,148.08 421.85,148.51 422.55,148.85 423.25,149.07 423.95,149.15 424.64,149.07 425.34,148.86 426.04,148.52 426.74,148.09 427.44,147.62 428.14,147.17 428.84,146.76 429.53,146.46 430.23,146.28 430.93,146.26 431.63,146.38 432.33,146.65 433.03,147.02 433.73,147.46 434.42,147.93 435.12,148.38 435.82,148.75 436.52,149.02 437.22,149.14 437.92,149.12 438.61,148.94 439.31,148.64 440.01,148.24 440.71,147.78 441.41,147.31 442.11,146.89 442.81,146.54 443.50,146.33 444.20,146.25 444.90,146.33 445.60,146.55" fill="none" stroke="#4f80c6" stroke-width="1.0" stroke-linecap="round" stroke-linejoin="round"/>
<polyline points="462.50,151.48 463.20,151.83 463.90,152.06 464.60,152.15 465.29,152.09 465.99,151.88 466.69,151.54 467.39,151.12 468.09,150.66 468.79,150.20 469.48,149.79 470.18,149.48 470.88,149.29 471.58,149.26 472.28,149.37 472.98,149.62 473.68,149.99 474.37,150.43 475.07,150.90 475.77,151.35 476.47,151.73 477.17,152.00 477.87,152.14 478.57,152.12 479.26,151.96 479.96,151.66 480.66,151.27 481.36,150.81 482.06,150.34 482.76,149.91 483.45,149.57 484.15,149.34 484.85,149.25 485.55,149.32 486.25,149.53 486.95,149.86 487.65,150.28 488.34,150.75 489.04,151.21 489.74,151.61 490.44,151.93 491.14,152.11 491.84,152.14 492.53,152.03 493.23,151.77 493.93,151.41 494.63,150.96 495.33,150.50 496.03,150.05 496.73,149.67 497.42,149.40 498.12,149.26 498.82,149.28 499.52,149.44 500.22,149.74 500.92,150.14 501.62,150.59 502.31,151.06 503.01,151.49 503.71,151.84 504.41,152.06 505.11,152.15 505.81,152.08 506.50,151.87 507.20,151.54 507.90,151.11 508.60,150.65" fill="none" stroke="#4f80c6" stroke-width="1.0" stroke-linecap="round" stroke-linejoin="round"/>
<polyline points="424.30,155.79 424.99,155.55 425.68,155.45 426.37,155.50 427.05,155.69 427.74,156.00 428.43,156.41 429.12,156.86 429.81,157.32 430.50,157.74 431.19,158.07 431.87,158.28 432.56,158.35 433.25,158.27 433.94,158.06 434.63,157.72 435.32,157.31 436.00,156.85 436.69,156.39 437.38,155.99 438.07,155.68 438.76,155.50 439.45,155.45 440.14,155.56 440.82,155.80 441.51,156.15 442.20,156.58 442.89,157.04 443.58,157.49 444.27,157.88 444.96,158.17 445.64,158.32 446.33,158.34 447.02,158.20 447.71,157.94 448.40,157.57 449.09,157.13 449.78,156.66 450.46,156.23 451.15,155.86 451.84,155.59 452.53,155.46 453.22,155.48 453.91,155.64 454.60,155.93 455.28,156.32 455.97,156.76 456.66,157.22 457.35,157.65 458.04,158.01 458.73,158.24 459.41,158.35 460.10,158.30 460.79,158.11 461.48,157.80 462.17,157.40 462.86,156.95 463.55,156.49 464.23,156.07 464.92,155.74 465.61,155.52 466.30,155.45" fill="none" stroke="#4f80c6" stroke-width="1.0" stroke-linecap="round" stroke-linejoin="round"/>
<line x1="318.20" y1="173.80" x2="318.20" y2="217.40" stroke="#231f20" stroke-width="0.9" />
<line x1="317.80" y1="217.00" x2="382.80" y2="217.00" stroke="#231f20" stroke-width="0.9" />
<line x1="316.20" y1="175.00" x2="318.20" y2="175.00" stroke="#231f20" stroke-width="0.8" />
<text x="314.40" y="177.30" font-size="6.6" text-anchor="end" font-weight="normal" fill="#231f20" stroke="#231f20" stroke-width="0.1" textLength="16.75" lengthAdjust="spacingAndGlyphs" >80,000</text>
<line x1="316.20" y1="185.30" x2="318.20" y2="185.30" stroke="#231f20" stroke-width="0.8" />
<text x="314.40" y="187.60" font-size="6.6" text-anchor="end" font-weight="normal" fill="#231f20" stroke="#231f20" stroke-width="0.1" textLength="16.75" lengthAdjust="spacingAndGlyphs" >60,000</text>
<line x1="316.20" y1="195.70" x2="318.20" y2="195.70" stroke="#231f20" stroke-width="0.8" />
<text x="314.40" y="198.00" font-size="6.6" text-anchor="end" font-weight="normal" fill="#231f20" stroke="#231f20" stroke-width="0.1" textLength="16.75" lengthAdjust="spacingAndGlyphs" >40,000</text>
<line x1="316.20" y1="206.10" x2="318.20" y2="206.10" stroke="#231f20" stroke-width="0.8" />
<text x="314.40" y="208.40" font-size="6.6" text-anchor="end" font-weight="normal" fill="#231f20" stroke="#231f20" stroke-width="0.1" textLength="16.75" lengthAdjust="spacingAndGlyphs" >20,000</text>
<line x1="316.20" y1="216.50" x2="318.20" y2="216.50" stroke="#231f20" stroke-width="0.8" />
<text x="314.40" y="218.80" font-size="6.6" text-anchor="end" font-weight="normal" fill="#231f20" stroke="#231f20" stroke-width="0.1" textLength="3.05" lengthAdjust="spacingAndGlyphs" >0</text>
<rect x="319.20" y="216.69" width="1.67" height="0.31" fill="#b3183e" />
<rect x="321.29" y="216.22" width="1.67" height="0.78" fill="#b3183e" />
<rect x="323.37" y="214.93" width="1.67" height="2.07" fill="#b3183e" />
<rect x="325.46" y="211.57" width="1.67" height="5.43" fill="#b3183e" />
<rect x="327.55" y="210.79" width="1.67" height="6.21" fill="#b3183e" />
<rect x="329.63" y="199.92" width="1.67" height="17.08" fill="#b3183e" />
<rect x="331.72" y="185.95" width="1.67" height="31.05" fill="#b3183e" />
<rect x="333.81" y="210.27" width="1.67" height="6.73" fill="#b3183e" />
<rect x="335.89" y="213.64" width="1.67" height="3.36" fill="#b3183e" />
<rect x="337.98" y="213.64" width="1.67" height="3.36" fill="#b3183e" />
<rect x="340.07" y="213.48" width="1.67" height="3.52" fill="#b3183e" />
<rect x="342.15" y="213.48" width="1.67" height="3.52" fill="#b3183e" />
<rect x="344.24" y="213.48" width="1.67" height="3.52" fill="#b3183e" />
<rect x="346.33" y="213.64" width="1.67" height="3.36" fill="#b3183e" />
<rect x="348.41" y="213.74" width="1.67" height="3.26" fill="#b3183e" />
<rect x="350.50" y="213.79" width="1.67" height="3.21" fill="#b3183e" />
<rect x="352.59" y="214.00" width="1.67" height="3.00" fill="#b3183e" />
<rect x="354.67" y="214.15" width="1.67" height="2.85" fill="#b3183e" />
<rect x="356.76" y="214.31" width="1.67" height="2.69" fill="#b3183e" />
<rect x="358.85" y="214.41" width="1.67" height="2.59" fill="#b3183e" />
<rect x="360.93" y="214.52" width="1.67" height="2.48" fill="#b3183e" />
<rect x="363.02" y="214.72" width="1.67" height="2.28" fill="#b3183e" />
<rect x="365.11" y="214.93" width="1.67" height="2.07" fill="#b3183e" />
<rect x="367.19" y="215.19" width="1.67" height="1.81" fill="#b3183e" />
<rect x="369.28" y="215.45" width="1.67" height="1.55" fill="#b3183e" />
<rect x="371.37" y="215.71" width="1.67" height="1.29" fill="#b3183e" />
<rect x="373.45" y="215.97" width="1.67" height="1.03" fill="#b3183e" />
<rect x="375.54" y="216.22" width="1.67" height="0.78" fill="#b3183e" />
<rect x="377.63" y="216.48" width="1.67" height="0.52" fill="#b3183e" />
<rect x="379.71" y="216.69" width="1.67" height="0.31" fill="#b3183e" />
<line x1="340.81" y1="217.00" x2="340.81" y2="218.50" stroke="#231f20" stroke-width="0.8" />
<line x1="363.42" y1="217.00" x2="363.42" y2="218.50" stroke="#231f20" stroke-width="0.8" />
<line x1="382.80" y1="217.00" x2="382.80" y2="218.50" stroke="#231f20" stroke-width="0.8" />
<text transform="translate(280.40,193.60) rotate(-90)" x="0" y="0" font-size="7.2" text-anchor="middle" font-weight="normal" fill="#231f20" stroke="#231f20" stroke-width="0.1" textLength="32.5" lengthAdjust="spacingAndGlyphs">Number of</text>
<text transform="translate(290.60,193.60) rotate(-90)" x="0" y="0" font-size="7.2" text-anchor="middle" font-weight="normal" fill="#231f20" stroke="#231f20" stroke-width="0.1" textLength="30" lengthAdjust="spacingAndGlyphs">fragments</text>
<text x="334.10" y="228.00" font-size="7.8" text-anchor="start" font-weight="normal" fill="#231f20" stroke="#231f20" stroke-width="0.1" textLength="35" lengthAdjust="spacingAndGlyphs" >Read length</text>
<line x1="443.00" y1="174.20" x2="443.00" y2="217.30" stroke="#231f20" stroke-width="0.9" />
<line x1="442.60" y1="216.90" x2="507.00" y2="216.90" stroke="#231f20" stroke-width="0.9" />
<line x1="441.00" y1="175.40" x2="443.00" y2="175.40" stroke="#231f20" stroke-width="0.8" />
<text x="438.40" y="177.70" font-size="6.6" text-anchor="end" font-weight="normal" fill="#231f20" stroke="#231f20" stroke-width="0.1" textLength="19.80" lengthAdjust="spacingAndGlyphs" >150,000</text>
<line x1="441.00" y1="188.80" x2="443.00" y2="188.80" stroke="#231f20" stroke-width="0.8" />
<text x="438.40" y="191.10" font-size="6.6" text-anchor="end" font-weight="normal" fill="#231f20" stroke="#231f20" stroke-width="0.1" textLength="19.80" lengthAdjust="spacingAndGlyphs" >100,000</text>
<line x1="441.00" y1="202.60" x2="443.00" y2="202.60" stroke="#231f20" stroke-width="0.8" />
<text x="438.40" y="204.90" font-size="6.6" text-anchor="end" font-weight="normal" fill="#231f20" stroke="#231f20" stroke-width="0.1" textLength="16.75" lengthAdjust="spacingAndGlyphs" >50,000</text>
<line x1="441.00" y1="216.20" x2="443.00" y2="216.20" stroke="#231f20" stroke-width="0.8" />
<text x="438.40" y="218.50" font-size="6.6" text-anchor="end" font-weight="normal" fill="#231f20" stroke="#231f20" stroke-width="0.1" textLength="3.05" lengthAdjust="spacingAndGlyphs" >0</text>
<rect x="444.00" y="216.08" width="1.65" height="0.82" fill="#2f4c80" />
<rect x="446.07" y="214.71" width="1.65" height="2.19" fill="#2f4c80" />
<rect x="448.13" y="213.06" width="1.65" height="3.84" fill="#2f4c80" />
<rect x="450.20" y="209.50" width="1.65" height="7.40" fill="#2f4c80" />
<rect x="452.27" y="191.42" width="1.65" height="25.48" fill="#2f4c80" />
<rect x="454.33" y="191.14" width="1.65" height="25.76" fill="#2f4c80" />
<rect x="456.40" y="188.95" width="1.65" height="27.95" fill="#2f4c80" />
<rect x="458.47" y="188.13" width="1.65" height="28.77" fill="#2f4c80" />
<rect x="460.53" y="187.86" width="1.65" height="29.04" fill="#2f4c80" />
<rect x="462.60" y="187.31" width="1.65" height="29.59" fill="#2f4c80" />
<rect x="464.67" y="187.31" width="1.65" height="29.59" fill="#2f4c80" />
<rect x="466.73" y="186.76" width="1.65" height="30.14" fill="#2f4c80" />
<rect x="468.80" y="185.66" width="1.65" height="31.24" fill="#2f4c80" />
<rect x="470.87" y="184.84" width="1.65" height="32.06" fill="#2f4c80" />
<rect x="472.93" y="183.75" width="1.65" height="33.15" fill="#2f4c80" />
<rect x="475.00" y="182.38" width="1.65" height="34.52" fill="#2f4c80" />
<rect x="477.07" y="181.01" width="1.65" height="35.89" fill="#2f4c80" />
<rect x="479.13" y="180.18" width="1.65" height="36.72" fill="#2f4c80" />
<rect x="481.20" y="179.09" width="1.65" height="37.81" fill="#2f4c80" />
<rect x="483.27" y="178.54" width="1.65" height="38.36" fill="#2f4c80" />
<rect x="485.33" y="178.54" width="1.65" height="38.36" fill="#2f4c80" />
<rect x="487.40" y="179.64" width="1.65" height="37.26" fill="#2f4c80" />
<rect x="489.47" y="181.28" width="1.65" height="35.62" fill="#2f4c80" />
<rect x="491.53" y="184.57" width="1.65" height="32.33" fill="#2f4c80" />
<rect x="493.60" y="190.05" width="1.65" height="26.85" fill="#2f4c80" />
<rect x="495.67" y="194.98" width="1.65" height="21.92" fill="#2f4c80" />
<rect x="497.73" y="199.91" width="1.65" height="16.99" fill="#2f4c80" />
<rect x="499.80" y="203.75" width="1.65" height="13.15" fill="#2f4c80" />
<rect x="501.87" y="207.31" width="1.65" height="9.59" fill="#2f4c80" />
<rect x="503.93" y="205.94" width="1.65" height="10.96" fill="#2f4c80" />
<line x1="465.40" y1="216.90" x2="465.40" y2="218.40" stroke="#231f20" stroke-width="0.8" />
<line x1="487.80" y1="216.90" x2="487.80" y2="218.40" stroke="#231f20" stroke-width="0.8" />
<line x1="507.00" y1="216.90" x2="507.00" y2="218.40" stroke="#231f20" stroke-width="0.8" />
<text transform="translate(404.60,195.00) rotate(-90)" x="0" y="0" font-size="7.2" text-anchor="middle" font-weight="normal" fill="#231f20" stroke="#231f20" stroke-width="0.1" textLength="32.5" lengthAdjust="spacingAndGlyphs">Number of</text>
<text transform="translate(415.20,195.00) rotate(-90)" x="0" y="0" font-size="7.2" text-anchor="middle" font-weight="normal" fill="#231f20" stroke="#231f20" stroke-width="0.1" textLength="30" lengthAdjust="spacingAndGlyphs">fragments</text>
<text x="457.80" y="228.50" font-size="7.8" text-anchor="start" font-weight="normal" fill="#231f20" stroke="#231f20" stroke-width="0.1" textLength="35" lengthAdjust="spacingAndGlyphs" >Read length</text>
<text x="7.70" y="265.80" font-size="14.2" text-anchor="start" font-weight="bold" fill="#000" >C</text>
<text x="111.00" y="266.60" font-size="8.9" text-anchor="start" font-weight="normal" fill="#231f20" stroke="#231f20" stroke-width="0.18" textLength="50.2" lengthAdjust="spacingAndGlyphs" >Human RPR</text>
<rect x="73.10" y="277.60" width="1.40" height="83.80" fill="#e2a0b3"/>
<rect x="74.50" y="330.08" width="1.20" height="31.32" fill="#e2a0b3"/>
<rect x="75.70" y="325.66" width="1.40" height="35.74" fill="#e2a0b3"/>
<rect x="77.10" y="332.30" width="1.00" height="29.10" fill="#e2a0b3"/>
<rect x="78.10" y="297.01" width="1.20" height="64.39" fill="#e2a0b3"/>
<rect x="79.30" y="335.98" width="1.00" height="25.42" fill="#e2a0b3"/>
<rect x="80.30" y="339.67" width="1.10" height="21.73" fill="#e2a0b3"/>
<rect x="81.40" y="334.51" width="1.10" height="26.89" fill="#e2a0b3"/>
<rect x="82.50" y="335.98" width="1.00" height="25.42" fill="#e2a0b3"/>
<rect x="83.50" y="339.67" width="1.10" height="21.73" fill="#e2a0b3"/>
<rect x="84.60" y="343.30" width="1.20" height="18.10" fill="#e2a0b3"/>
<rect x="85.80" y="344.78" width="1.00" height="16.62" fill="#e2a0b3"/>
<rect x="86.80" y="344.78" width="1.00" height="16.62" fill="#e2a0b3"/>
<rect x="87.80" y="347.73" width="1.10" height="13.67" fill="#e2a0b3"/>
<rect x="88.90" y="316.13" width="1.20" height="45.27" fill="#e2a0b3"/>
<rect x="90.10" y="344.78" width="1.00" height="16.62" fill="#e2a0b3"/>
<rect x="91.10" y="346.99" width="1.00" height="14.41" fill="#e2a0b3"/>
<rect x="92.10" y="339.67" width="1.20" height="21.73" fill="#e2a0b3"/>
<rect x="93.30" y="310.23" width="1.40" height="51.17" fill="#e2a0b3"/>
<rect x="94.70" y="344.04" width="1.20" height="17.36" fill="#e2a0b3"/>
<rect x="95.90" y="348.46" width="1.00" height="12.94" fill="#e2a0b3"/>
<rect x="96.90" y="342.56" width="1.10" height="18.84" fill="#e2a0b3"/>
<rect x="98.00" y="343.30" width="1.00" height="18.10" fill="#e2a0b3"/>
<rect x="99.00" y="346.99" width="1.20" height="14.41" fill="#e2a0b3"/>
<rect x="100.20" y="351.41" width="1.00" height="9.99" fill="#e2a0b3"/>
<rect x="101.20" y="343.30" width="1.00" height="18.10" fill="#e2a0b3"/>
<rect x="102.20" y="343.81" width="1.20" height="17.59" fill="#e2a0b3"/>
<rect x="103.40" y="344.78" width="1.10" height="16.62" fill="#e2a0b3"/>
<rect x="104.50" y="348.46" width="1.00" height="12.94" fill="#e2a0b3"/>
<rect x="105.50" y="349.20" width="1.20" height="12.20" fill="#e2a0b3"/>
<rect x="106.70" y="349.20" width="1.00" height="12.20" fill="#e2a0b3"/>
<rect x="107.70" y="348.46" width="1.10" height="12.94" fill="#e2a0b3"/>
<rect x="108.80" y="339.67" width="1.10" height="21.73" fill="#e2a0b3"/>
<rect x="109.90" y="348.46" width="1.00" height="12.94" fill="#e2a0b3"/>
<rect x="110.90" y="344.78" width="1.10" height="16.62" fill="#e2a0b3"/>
<rect x="112.00" y="333.03" width="1.50" height="28.37" fill="#e2a0b3"/>
<rect x="113.50" y="344.78" width="1.10" height="16.62" fill="#e2a0b3"/>
<rect x="114.60" y="346.99" width="1.00" height="14.41" fill="#e2a0b3"/>
<rect x="115.60" y="347.73" width="1.00" height="13.67" fill="#e2a0b3"/>
<rect x="116.60" y="335.98" width="1.50" height="25.42" fill="#e2a0b3"/>
<line x1="73.40" y1="277.60" x2="73.40" y2="361.40" stroke="#d27893" stroke-width="0.45" opacity="0.7"/>
<line x1="74.80" y1="330.08" x2="74.80" y2="361.40" stroke="#d27893" stroke-width="0.45" opacity="0.7"/>
<line x1="76.00" y1="325.66" x2="76.00" y2="361.40" stroke="#d27893" stroke-width="0.45" opacity="0.7"/>
<line x1="77.40" y1="332.30" x2="77.40" y2="361.40" stroke="#d27893" stroke-width="0.45" opacity="0.7"/>
<line x1="78.40" y1="297.01" x2="78.40" y2="361.40" stroke="#d27893" stroke-width="0.45" opacity="0.7"/>
<line x1="79.60" y1="335.98" x2="79.60" y2="361.40" stroke="#d27893" stroke-width="0.45" opacity="0.7"/>
<line x1="80.60" y1="339.67" x2="80.60" y2="361.40" stroke="#d27893" stroke-width="0.45" opacity="0.7"/>
<line x1="81.70" y1="334.51" x2="81.70" y2="361.40" stroke="#d27893" stroke-width="0.45" opacity="0.7"/>
<line x1="82.80" y1="335.98" x2="82.80" y2="361.40" stroke="#d27893" stroke-width="0.45" opacity="0.7"/>
<line x1="83.80" y1="339.67" x2="83.80" y2="361.40" stroke="#d27893" stroke-width="0.45" opacity="0.7"/>
<line x1="84.90" y1="343.30" x2="84.90" y2="361.40" stroke="#d27893" stroke-width="0.45" opacity="0.7"/>
<line x1="86.10" y1="344.78" x2="86.10" y2="361.40" stroke="#d27893" stroke-width="0.45" opacity="0.7"/>
<line x1="87.10" y1="344.78" x2="87.10" y2="361.40" stroke="#d27893" stroke-width="0.45" opacity="0.7"/>
<line x1="88.10" y1="347.73" x2="88.10" y2="361.40" stroke="#d27893" stroke-width="0.45" opacity="0.7"/>
<line x1="89.20" y1="316.13" x2="89.20" y2="361.40" stroke="#d27893" stroke-width="0.45" opacity="0.7"/>
<line x1="90.40" y1="344.78" x2="90.40" y2="361.40" stroke="#d27893" stroke-width="0.45" opacity="0.7"/>
<line x1="91.40" y1="346.99" x2="91.40" y2="361.40" stroke="#d27893" stroke-width="0.45" opacity="0.7"/>
<line x1="92.40" y1="339.67" x2="92.40" y2="361.40" stroke="#d27893" stroke-width="0.45" opacity="0.7"/>
<line x1="93.60" y1="310.23" x2="93.60" y2="361.40" stroke="#d27893" stroke-width="0.45" opacity="0.7"/>
<line x1="95.00" y1="344.04" x2="95.00" y2="361.40" stroke="#d27893" stroke-width="0.45" opacity="0.7"/>
<line x1="96.20" y1="348.46" x2="96.20" y2="361.40" stroke="#d27893" stroke-width="0.45" opacity="0.7"/>
<line x1="97.20" y1="342.56" x2="97.20" y2="361.40" stroke="#d27893" stroke-width="0.45" opacity="0.7"/>
<line x1="98.30" y1="343.30" x2="98.30" y2="361.40" stroke="#d27893" stroke-width="0.45" opacity="0.7"/>
<line x1="99.30" y1="346.99" x2="99.30" y2="361.40" stroke="#d27893" stroke-width="0.45" opacity="0.7"/>
<line x1="100.50" y1="351.41" x2="100.50" y2="361.40" stroke="#d27893" stroke-width="0.45" opacity="0.7"/>
<line x1="101.50" y1="343.30" x2="101.50" y2="361.40" stroke="#d27893" stroke-width="0.45" opacity="0.7"/>
<line x1="102.50" y1="343.81" x2="102.50" y2="361.40" stroke="#d27893" stroke-width="0.45" opacity="0.7"/>
<line x1="103.70" y1="344.78" x2="103.70" y2="361.40" stroke="#d27893" stroke-width="0.45" opacity="0.7"/>
<line x1="104.80" y1="348.46" x2="104.80" y2="361.40" stroke="#d27893" stroke-width="0.45" opacity="0.7"/>
<line x1="105.80" y1="349.20" x2="105.80" y2="361.40" stroke="#d27893" stroke-width="0.45" opacity="0.7"/>
<line x1="107.00" y1="349.20" x2="107.00" y2="361.40" stroke="#d27893" stroke-width="0.45" opacity="0.7"/>
<line x1="108.00" y1="348.46" x2="108.00" y2="361.40" stroke="#d27893" stroke-width="0.45" opacity="0.7"/>
<line x1="109.10" y1="339.67" x2="109.10" y2="361.40" stroke="#d27893" stroke-width="0.45" opacity="0.7"/>
<line x1="110.20" y1="348.46" x2="110.20" y2="361.40" stroke="#d27893" stroke-width="0.45" opacity="0.7"/>
<line x1="111.20" y1="344.78" x2="111.20" y2="361.40" stroke="#d27893" stroke-width="0.45" opacity="0.7"/>
<line x1="112.30" y1="333.03" x2="112.30" y2="361.40" stroke="#d27893" stroke-width="0.45" opacity="0.7"/>
<line x1="113.80" y1="344.78" x2="113.80" y2="361.40" stroke="#d27893" stroke-width="0.45" opacity="0.7"/>
<line x1="114.90" y1="346.99" x2="114.90" y2="361.40" stroke="#d27893" stroke-width="0.45" opacity="0.7"/>
<line x1="115.90" y1="347.73" x2="115.90" y2="361.40" stroke="#d27893" stroke-width="0.45" opacity="0.7"/>
<line x1="116.90" y1="335.98" x2="116.90" y2="361.40" stroke="#d27893" stroke-width="0.45" opacity="0.7"/>
<rect x="58.60" y="357.53" width="0.75" height="3.87" fill="#d88aa0" opacity="0.8"/>
<rect x="58.60" y="360.46" width="0.75" height="0.94" fill="#7a5560" opacity="0.8"/>
<rect x="59.35" y="358.74" width="0.75" height="2.66" fill="#d88aa0" opacity="0.8"/>
<rect x="59.35" y="359.62" width="0.75" height="1.78" fill="#7a5560" opacity="0.8"/>
<rect x="60.10" y="360.17" width="0.75" height="1.23" fill="#d88aa0" opacity="0.8"/>
<rect x="60.10" y="359.36" width="0.75" height="2.04" fill="#7a5560" opacity="0.8"/>
<rect x="60.85" y="357.65" width="0.75" height="3.75" fill="#8cc47a" opacity="0.8"/>
<rect x="60.85" y="359.56" width="0.75" height="1.84" fill="#7a5560" opacity="0.8"/>
<rect x="61.60" y="359.49" width="0.75" height="1.91" fill="#8cc47a" opacity="0.8"/>
<rect x="61.60" y="359.21" width="0.75" height="2.19" fill="#7a5560" opacity="0.8"/>
<rect x="62.35" y="360.18" width="0.75" height="1.22" fill="#8cc47a" opacity="0.8"/>
<rect x="62.35" y="359.78" width="0.75" height="1.62" fill="#7a5560" opacity="0.8"/>
<rect x="63.10" y="356.97" width="0.75" height="4.43" fill="#8cc47a" opacity="0.8"/>
<rect x="63.10" y="359.52" width="0.75" height="1.88" fill="#7a5560" opacity="0.8"/>
<rect x="63.85" y="358.77" width="0.75" height="2.63" fill="#8aa8d8" opacity="0.8"/>
<rect x="63.85" y="359.85" width="0.75" height="1.55" fill="#7a5560" opacity="0.8"/>
<rect x="64.60" y="357.96" width="0.75" height="3.44" fill="#d88aa0" opacity="0.8"/>
<rect x="64.60" y="359.47" width="0.75" height="1.93" fill="#7a5560" opacity="0.8"/>
<rect x="65.35" y="356.34" width="0.75" height="5.06" fill="#8cc47a" opacity="0.8"/>
<rect x="65.35" y="359.25" width="0.75" height="2.15" fill="#7a5560" opacity="0.8"/>
<rect x="66.10" y="358.12" width="0.75" height="3.28" fill="#8aa8d8" opacity="0.8"/>
<rect x="66.10" y="359.52" width="0.75" height="1.88" fill="#7a5560" opacity="0.8"/>
<rect x="66.85" y="359.13" width="0.75" height="2.27" fill="#8cc47a" opacity="0.8"/>
<rect x="66.85" y="359.53" width="0.75" height="1.87" fill="#7a5560" opacity="0.8"/>
<rect x="67.60" y="356.97" width="0.75" height="4.43" fill="#8aa8d8" opacity="0.8"/>
<rect x="67.60" y="359.83" width="0.75" height="1.57" fill="#7a5560" opacity="0.8"/>
<rect x="68.35" y="359.30" width="0.75" height="2.10" fill="#8aa8d8" opacity="0.8"/>
<rect x="68.35" y="359.17" width="0.75" height="2.23" fill="#7a5560" opacity="0.8"/>
<rect x="69.10" y="355.99" width="0.75" height="5.41" fill="#8cc47a" opacity="0.8"/>
<rect x="69.10" y="359.71" width="0.75" height="1.69" fill="#7a5560" opacity="0.8"/>
<rect x="69.85" y="357.73" width="0.75" height="3.67" fill="#d88aa0" opacity="0.8"/>
<rect x="69.85" y="359.98" width="0.75" height="1.42" fill="#7a5560" opacity="0.8"/>
<rect x="70.60" y="358.40" width="0.75" height="3.00" fill="#8aa8d8" opacity="0.8"/>
<rect x="70.60" y="359.55" width="0.75" height="1.85" fill="#7a5560" opacity="0.8"/>
<rect x="71.35" y="359.97" width="0.75" height="1.43" fill="#8aa8d8" opacity="0.8"/>
<rect x="71.35" y="359.61" width="0.75" height="1.79" fill="#7a5560" opacity="0.8"/>
<rect x="72.10" y="358.49" width="0.75" height="2.91" fill="#d88aa0" opacity="0.8"/>
<rect x="72.10" y="359.99" width="0.75" height="1.41" fill="#7a5560" opacity="0.8"/>
<rect x="72.85" y="358.67" width="0.75" height="2.73" fill="#8cc47a" opacity="0.8"/>
<rect x="72.85" y="360.11" width="0.75" height="1.29" fill="#7a5560" opacity="0.8"/>
<rect x="73.30" y="350.47" width="0.75" height="10.93" fill="#ad9466" opacity="0.85"/>
<rect x="73.30" y="358.39" width="0.6" height="3.01" fill="#5a3a4c" opacity="0.7"/>
<rect x="74.30" y="353.23" width="0.75" height="8.17" fill="#ad9466" opacity="0.85"/>
<rect x="74.30" y="358.26" width="0.6" height="3.14" fill="#5a3a4c" opacity="0.7"/>
<rect x="75.30" y="357.41" width="0.75" height="3.99" fill="#ad9466" opacity="0.85"/>
<rect x="75.30" y="359.93" width="0.6" height="1.47" fill="#5a3a4c" opacity="0.7"/>
<rect x="76.30" y="359.01" width="0.75" height="2.39" fill="#ad9466" opacity="0.85"/>
<rect x="76.30" y="360.04" width="0.6" height="1.36" fill="#5a3a4c" opacity="0.7"/>
<rect x="77.30" y="349.73" width="0.75" height="11.67" fill="#ad9466" opacity="0.85"/>
<rect x="77.30" y="358.66" width="0.6" height="2.74" fill="#5a3a4c" opacity="0.7"/>
<rect x="78.30" y="355.00" width="0.75" height="6.40" fill="#ad9466" opacity="0.85"/>
<rect x="78.30" y="359.47" width="0.6" height="1.93" fill="#5a3a4c" opacity="0.7"/>
<rect x="79.30" y="350.48" width="0.75" height="10.92" fill="#ad9466" opacity="0.85"/>
<rect x="79.30" y="359.43" width="0.6" height="1.97" fill="#5a3a4c" opacity="0.7"/>
<rect x="80.30" y="349.84" width="0.75" height="11.56" fill="#ad9466" opacity="0.85"/>
<rect x="80.30" y="358.21" width="0.6" height="3.19" fill="#5a3a4c" opacity="0.7"/>
<rect x="81.30" y="352.91" width="0.75" height="8.49" fill="#ad9466" opacity="0.85"/>
<rect x="81.30" y="357.94" width="0.6" height="3.46" fill="#5a3a4c" opacity="0.7"/>
<rect x="82.30" y="355.21" width="0.75" height="6.19" fill="#ad9466" opacity="0.85"/>
<rect x="82.30" y="357.43" width="0.6" height="3.97" fill="#5a3a4c" opacity="0.7"/>
<rect x="83.30" y="349.38" width="0.75" height="12.02" fill="#ad9466" opacity="0.85"/>
<rect x="83.30" y="357.11" width="0.6" height="4.29" fill="#5a3a4c" opacity="0.7"/>
<rect x="84.30" y="353.90" width="0.75" height="7.50" fill="#ad9466" opacity="0.85"/>
<rect x="84.30" y="360.32" width="0.6" height="1.08" fill="#5a3a4c" opacity="0.7"/>
<rect x="85.30" y="351.19" width="0.75" height="10.21" fill="#ad9466" opacity="0.85"/>
<rect x="85.30" y="360.02" width="0.6" height="1.38" fill="#5a3a4c" opacity="0.7"/>
<rect x="86.30" y="349.43" width="0.75" height="11.97" fill="#ad9466" opacity="0.85"/>
<rect x="86.30" y="358.92" width="0.6" height="2.48" fill="#5a3a4c" opacity="0.7"/>
<rect x="87.30" y="355.41" width="0.75" height="5.99" fill="#ad9466" opacity="0.85"/>
<rect x="87.30" y="358.63" width="0.6" height="2.77" fill="#5a3a4c" opacity="0.7"/>
<rect x="88.30" y="349.52" width="0.75" height="11.88" fill="#ad9466" opacity="0.85"/>
<rect x="88.30" y="359.19" width="0.6" height="2.21" fill="#5a3a4c" opacity="0.7"/>
<rect x="89.30" y="350.82" width="0.75" height="10.58" fill="#ad9466" opacity="0.85"/>
<rect x="89.30" y="359.19" width="0.6" height="2.21" fill="#5a3a4c" opacity="0.7"/>
<rect x="90.30" y="359.11" width="0.75" height="2.29" fill="#ad9466" opacity="0.85"/>
<rect x="90.30" y="358.69" width="0.6" height="2.71" fill="#5a3a4c" opacity="0.7"/>
<rect x="91.30" y="351.10" width="0.75" height="10.30" fill="#ad9466" opacity="0.85"/>
<rect x="91.30" y="359.52" width="0.6" height="1.88" fill="#5a3a4c" opacity="0.7"/>
<rect x="92.30" y="353.00" width="0.75" height="8.40" fill="#ad9466" opacity="0.85"/>
<rect x="92.30" y="357.64" width="0.6" height="3.76" fill="#5a3a4c" opacity="0.7"/>
<rect x="93.30" y="352.64" width="0.75" height="8.76" fill="#ad9466" opacity="0.85"/>
<rect x="93.30" y="358.65" width="0.6" height="2.75" fill="#5a3a4c" opacity="0.7"/>
<rect x="94.30" y="357.28" width="0.75" height="4.12" fill="#ad9466" opacity="0.85"/>
<rect x="94.30" y="360.47" width="0.6" height="0.93" fill="#5a3a4c" opacity="0.7"/>
<rect x="95.30" y="353.50" width="0.75" height="7.90" fill="#ad9466" opacity="0.85"/>
<rect x="95.30" y="357.45" width="0.6" height="3.95" fill="#5a3a4c" opacity="0.7"/>
<rect x="96.30" y="349.62" width="0.75" height="11.78" fill="#ad9466" opacity="0.85"/>
<rect x="96.30" y="360.70" width="0.6" height="0.70" fill="#5a3a4c" opacity="0.7"/>
<rect x="97.30" y="349.49" width="0.75" height="11.91" fill="#ad9466" opacity="0.85"/>
<rect x="97.30" y="360.55" width="0.6" height="0.85" fill="#5a3a4c" opacity="0.7"/>
<rect x="98.30" y="350.27" width="0.75" height="11.13" fill="#ad9466" opacity="0.85"/>
<rect x="98.30" y="359.03" width="0.6" height="2.37" fill="#5a3a4c" opacity="0.7"/>
<rect x="99.30" y="351.43" width="0.75" height="9.97" fill="#ad9466" opacity="0.85"/>
<rect x="99.30" y="359.72" width="0.6" height="1.68" fill="#5a3a4c" opacity="0.7"/>
<rect x="100.30" y="356.39" width="0.75" height="5.01" fill="#ad9466" opacity="0.85"/>
<rect x="100.30" y="357.67" width="0.6" height="3.73" fill="#5a3a4c" opacity="0.7"/>
<rect x="101.30" y="357.25" width="0.75" height="4.15" fill="#ad9466" opacity="0.85"/>
<rect x="101.30" y="359.68" width="0.6" height="1.72" fill="#5a3a4c" opacity="0.7"/>
<rect x="102.30" y="357.42" width="0.75" height="3.98" fill="#ad9466" opacity="0.85"/>
<rect x="102.30" y="359.82" width="0.6" height="1.58" fill="#5a3a4c" opacity="0.7"/>
<rect x="103.30" y="349.41" width="0.75" height="11.99" fill="#ad9466" opacity="0.85"/>
<rect x="103.30" y="358.22" width="0.6" height="3.18" fill="#5a3a4c" opacity="0.7"/>
<rect x="104.30" y="352.51" width="0.75" height="8.89" fill="#ad9466" opacity="0.85"/>
<rect x="104.30" y="359.66" width="0.6" height="1.74" fill="#5a3a4c" opacity="0.7"/>
<rect x="105.30" y="351.96" width="0.75" height="9.44" fill="#ad9466" opacity="0.85"/>
<rect x="105.30" y="358.86" width="0.6" height="2.54" fill="#5a3a4c" opacity="0.7"/>
<rect x="106.30" y="357.96" width="0.75" height="3.44" fill="#ad9466" opacity="0.85"/>
<rect x="106.30" y="359.59" width="0.6" height="1.81" fill="#5a3a4c" opacity="0.7"/>
<rect x="107.30" y="355.62" width="0.75" height="5.78" fill="#ad9466" opacity="0.85"/>
<rect x="107.30" y="357.67" width="0.6" height="3.73" fill="#5a3a4c" opacity="0.7"/>
<rect x="108.30" y="356.49" width="0.75" height="4.91" fill="#ad9466" opacity="0.85"/>
<rect x="108.30" y="359.83" width="0.6" height="1.57" fill="#5a3a4c" opacity="0.7"/>
<rect x="109.30" y="351.67" width="0.75" height="9.73" fill="#ad9466" opacity="0.85"/>
<rect x="109.30" y="356.95" width="0.6" height="4.45" fill="#5a3a4c" opacity="0.7"/>
<rect x="110.30" y="349.27" width="0.75" height="12.13" fill="#ad9466" opacity="0.85"/>
<rect x="110.30" y="359.12" width="0.6" height="2.28" fill="#5a3a4c" opacity="0.7"/>
<rect x="111.30" y="349.17" width="0.75" height="12.23" fill="#ad9466" opacity="0.85"/>
<rect x="111.30" y="359.94" width="0.6" height="1.46" fill="#5a3a4c" opacity="0.7"/>
<rect x="112.30" y="355.07" width="0.75" height="6.33" fill="#ad9466" opacity="0.85"/>
<rect x="112.30" y="360.69" width="0.6" height="0.71" fill="#5a3a4c" opacity="0.7"/>
<rect x="113.30" y="349.33" width="0.75" height="12.07" fill="#ad9466" opacity="0.85"/>
<rect x="113.30" y="359.06" width="0.6" height="2.34" fill="#5a3a4c" opacity="0.7"/>
<rect x="114.30" y="353.96" width="0.75" height="7.44" fill="#ad9466" opacity="0.85"/>
<rect x="114.30" y="359.14" width="0.6" height="2.26" fill="#5a3a4c" opacity="0.7"/>
<rect x="115.30" y="350.63" width="0.75" height="10.77" fill="#ad9466" opacity="0.85"/>
<rect x="115.30" y="356.95" width="0.6" height="4.45" fill="#5a3a4c" opacity="0.7"/>
<rect x="116.30" y="352.69" width="0.75" height="8.71" fill="#ad9466" opacity="0.85"/>
<rect x="116.30" y="358.07" width="0.6" height="3.33" fill="#5a3a4c" opacity="0.7"/>
<rect x="117.30" y="354.53" width="0.75" height="6.87" fill="#ad9466" opacity="0.85"/>
<rect x="117.30" y="358.75" width="0.6" height="2.65" fill="#5a3a4c" opacity="0.7"/>
<rect x="73.60" y="324.52" width="1.0" height="36.88" fill="#ad9466" opacity="0.9"/>
<rect x="76.50" y="338.71" width="1.0" height="22.69" fill="#ad9466" opacity="0.9"/>
<rect x="79.00" y="344.38" width="1.0" height="17.02" fill="#ad9466" opacity="0.9"/>
<rect x="85.00" y="347.22" width="1.0" height="14.18" fill="#ad9466" opacity="0.9"/>
<rect x="104.00" y="350.05" width="1.0" height="11.35" fill="#ad9466" opacity="0.9"/>
<rect x="117.00" y="350.05" width="1.0" height="11.35" fill="#ad9466" opacity="0.9"/>
<line x1="55.70" y1="273.30" x2="55.70" y2="365.80" stroke="#000" stroke-width="1.3" />
<line x1="55.10" y1="365.20" x2="121.10" y2="365.20" stroke="#000" stroke-width="1.3" />
<line x1="52.00" y1="276.30" x2="55.70" y2="276.30" stroke="#000" stroke-width="1.0" />
<text x="48.90" y="278.40" font-size="7.0" text-anchor="end" font-weight="normal" fill="#231f20" stroke="#231f20" stroke-width="0.1" textLength="14.0" lengthAdjust="spacingAndGlyphs" >0.15</text>
<line x1="52.00" y1="304.80" x2="55.70" y2="304.80" stroke="#000" stroke-width="1.0" />
<text x="48.90" y="306.90" font-size="7.0" text-anchor="end" font-weight="normal" fill="#231f20" stroke="#231f20" stroke-width="0.1" textLength="14.0" lengthAdjust="spacingAndGlyphs" >0.10</text>
<line x1="52.00" y1="333.20" x2="55.70" y2="333.20" stroke="#000" stroke-width="1.0" />
<text x="48.90" y="335.30" font-size="7.0" text-anchor="end" font-weight="normal" fill="#231f20" stroke="#231f20" stroke-width="0.1" textLength="14.0" lengthAdjust="spacingAndGlyphs" >0.05</text>
<line x1="52.00" y1="361.40" x2="55.70" y2="361.40" stroke="#000" stroke-width="1.0" />
<text x="48.90" y="363.50" font-size="7.0" text-anchor="end" font-weight="normal" fill="#231f20" stroke="#231f20" stroke-width="0.1" textLength="14.0" lengthAdjust="spacingAndGlyphs" >0.00</text>
<line x1="57.90" y1="365.20" x2="57.90" y2="368.20" stroke="#000" stroke-width="1.0" />
<text x="57.90" y="378.30" font-size="6.9" text-anchor="middle" font-weight="normal" fill="#231f20" stroke="#231f20" stroke-width="0.1" >−40</text>
<line x1="73.50" y1="365.20" x2="73.50" y2="368.20" stroke="#000" stroke-width="1.0" />
<text x="73.50" y="378.30" font-size="6.9" text-anchor="middle" font-weight="normal" fill="#231f20" stroke="#231f20" stroke-width="0.1" >0</text>
<line x1="89.40" y1="365.20" x2="89.40" y2="368.20" stroke="#000" stroke-width="1.0" />
<text x="89.40" y="378.30" font-size="6.9" text-anchor="middle" font-weight="normal" fill="#231f20" stroke="#231f20" stroke-width="0.1" >40</text>
<line x1="105.40" y1="365.20" x2="105.40" y2="368.20" stroke="#000" stroke-width="1.0" />
<text x="105.40" y="378.30" font-size="6.9" text-anchor="middle" font-weight="normal" fill="#231f20" stroke="#231f20" stroke-width="0.1" >80</text>
<text x="74.00" y="386.00" font-size="7.0" text-anchor="middle" font-weight="normal" fill="#231f20" stroke="#231f20" stroke-width="0.1" >start</text>
<text x="91.80" y="283.80" font-size="7.4" text-anchor="start" font-weight="normal" fill="#231f20" stroke="#231f20" stroke-width="0.1" textLength="24.5" lengthAdjust="spacingAndGlyphs" >Healthy</text>
<rect x="154.90" y="341.13" width="2.10" height="20.37" fill="#e2a0b3"/>
<rect x="157.00" y="343.23" width="1.10" height="18.27" fill="#e2a0b3"/>
<rect x="158.10" y="292.85" width="1.70" height="68.65" fill="#e2a0b3"/>
<rect x="159.80" y="347.43" width="1.50" height="14.07" fill="#e2a0b3"/>
<rect x="161.30" y="346.35" width="2.10" height="15.15" fill="#e2a0b3"/>
<rect x="163.40" y="343.23" width="1.40" height="18.27" fill="#e2a0b3"/>
<rect x="164.80" y="347.43" width="1.70" height="14.07" fill="#e2a0b3"/>
<rect x="166.50" y="317.99" width="2.20" height="43.51" fill="#e2a0b3"/>
<rect x="168.70" y="335.86" width="1.60" height="25.64" fill="#e2a0b3"/>
<rect x="170.30" y="327.46" width="1.50" height="34.04" fill="#e2a0b3"/>
<rect x="171.80" y="323.26" width="1.50" height="38.24" fill="#e2a0b3"/>
<rect x="173.30" y="343.23" width="1.70" height="18.27" fill="#e2a0b3"/>
<rect x="175.00" y="323.26" width="1.70" height="38.24" fill="#e2a0b3"/>
<rect x="176.70" y="339.03" width="1.70" height="22.47" fill="#e2a0b3"/>
<rect x="178.40" y="324.28" width="1.90" height="37.22" fill="#e2a0b3"/>
<rect x="180.30" y="339.03" width="1.50" height="22.47" fill="#e2a0b3"/>
<rect x="181.80" y="327.46" width="1.70" height="34.04" fill="#e2a0b3"/>
<rect x="183.50" y="328.54" width="1.40" height="32.96" fill="#e2a0b3"/>
<rect x="184.90" y="349.53" width="1.70" height="11.97" fill="#e2a0b3"/>
<rect x="186.60" y="353.73" width="1.10" height="7.77" fill="#e2a0b3"/>
<line x1="155.20" y1="341.13" x2="155.20" y2="361.50" stroke="#d27893" stroke-width="0.45" opacity="0.7"/>
<line x1="157.30" y1="343.23" x2="157.30" y2="361.50" stroke="#d27893" stroke-width="0.45" opacity="0.7"/>
<line x1="158.40" y1="292.85" x2="158.40" y2="361.50" stroke="#d27893" stroke-width="0.45" opacity="0.7"/>
<line x1="160.10" y1="347.43" x2="160.10" y2="361.50" stroke="#d27893" stroke-width="0.45" opacity="0.7"/>
<line x1="161.60" y1="346.35" x2="161.60" y2="361.50" stroke="#d27893" stroke-width="0.45" opacity="0.7"/>
<line x1="163.70" y1="343.23" x2="163.70" y2="361.50" stroke="#d27893" stroke-width="0.45" opacity="0.7"/>
<line x1="165.10" y1="347.43" x2="165.10" y2="361.50" stroke="#d27893" stroke-width="0.45" opacity="0.7"/>
<line x1="166.80" y1="317.99" x2="166.80" y2="361.50" stroke="#d27893" stroke-width="0.45" opacity="0.7"/>
<line x1="169.00" y1="335.86" x2="169.00" y2="361.50" stroke="#d27893" stroke-width="0.45" opacity="0.7"/>
<line x1="170.60" y1="327.46" x2="170.60" y2="361.50" stroke="#d27893" stroke-width="0.45" opacity="0.7"/>
<line x1="172.10" y1="323.26" x2="172.10" y2="361.50" stroke="#d27893" stroke-width="0.45" opacity="0.7"/>
<line x1="173.60" y1="343.23" x2="173.60" y2="361.50" stroke="#d27893" stroke-width="0.45" opacity="0.7"/>
<line x1="175.30" y1="323.26" x2="175.30" y2="361.50" stroke="#d27893" stroke-width="0.45" opacity="0.7"/>
<line x1="177.00" y1="339.03" x2="177.00" y2="361.50" stroke="#d27893" stroke-width="0.45" opacity="0.7"/>
<line x1="178.70" y1="324.28" x2="178.70" y2="361.50" stroke="#d27893" stroke-width="0.45" opacity="0.7"/>
<line x1="180.60" y1="339.03" x2="180.60" y2="361.50" stroke="#d27893" stroke-width="0.45" opacity="0.7"/>
<line x1="182.10" y1="327.46" x2="182.10" y2="361.50" stroke="#d27893" stroke-width="0.45" opacity="0.7"/>
<line x1="183.80" y1="328.54" x2="183.80" y2="361.50" stroke="#d27893" stroke-width="0.45" opacity="0.7"/>
<line x1="185.20" y1="349.53" x2="185.20" y2="361.50" stroke="#d27893" stroke-width="0.45" opacity="0.7"/>
<line x1="186.90" y1="353.73" x2="186.90" y2="361.50" stroke="#d27893" stroke-width="0.45" opacity="0.7"/>
<rect x="154.90" y="349.47" width="0.75" height="12.03" fill="#ad9466" opacity="0.85"/>
<rect x="154.90" y="357.17" width="0.6" height="4.33" fill="#5a3a4c" opacity="0.7"/>
<rect x="155.90" y="358.65" width="0.75" height="2.85" fill="#ad9466" opacity="0.85"/>
<rect x="155.90" y="360.60" width="0.6" height="0.90" fill="#5a3a4c" opacity="0.7"/>
<rect x="156.90" y="350.70" width="0.75" height="10.80" fill="#ad9466" opacity="0.85"/>
<rect x="156.90" y="358.01" width="0.6" height="3.49" fill="#5a3a4c" opacity="0.7"/>
<rect x="157.90" y="352.39" width="0.75" height="9.11" fill="#ad9466" opacity="0.85"/>
<rect x="157.90" y="359.71" width="0.6" height="1.79" fill="#5a3a4c" opacity="0.7"/>
<rect x="158.90" y="353.04" width="0.75" height="8.46" fill="#ad9466" opacity="0.85"/>
<rect x="158.90" y="358.52" width="0.6" height="2.98" fill="#5a3a4c" opacity="0.7"/>
<rect x="159.90" y="353.30" width="0.75" height="8.20" fill="#ad9466" opacity="0.85"/>
<rect x="159.90" y="360.30" width="0.6" height="1.20" fill="#5a3a4c" opacity="0.7"/>
<rect x="160.90" y="354.83" width="0.75" height="6.67" fill="#ad9466" opacity="0.85"/>
<rect x="160.90" y="359.37" width="0.6" height="2.13" fill="#5a3a4c" opacity="0.7"/>
<rect x="161.90" y="351.85" width="0.75" height="9.65" fill="#ad9466" opacity="0.85"/>
<rect x="161.90" y="356.98" width="0.6" height="4.52" fill="#5a3a4c" opacity="0.7"/>
<rect x="162.90" y="349.54" width="0.75" height="11.96" fill="#ad9466" opacity="0.85"/>
<rect x="162.90" y="358.77" width="0.6" height="2.73" fill="#5a3a4c" opacity="0.7"/>
<rect x="163.90" y="354.69" width="0.75" height="6.81" fill="#ad9466" opacity="0.85"/>
<rect x="163.90" y="359.87" width="0.6" height="1.63" fill="#5a3a4c" opacity="0.7"/>
<rect x="164.90" y="358.86" width="0.75" height="2.64" fill="#ad9466" opacity="0.85"/>
<rect x="164.90" y="360.82" width="0.6" height="0.68" fill="#5a3a4c" opacity="0.7"/>
<rect x="165.90" y="354.48" width="0.75" height="7.02" fill="#ad9466" opacity="0.85"/>
<rect x="165.90" y="359.67" width="0.6" height="1.83" fill="#5a3a4c" opacity="0.7"/>
<rect x="166.90" y="355.35" width="0.75" height="6.15" fill="#ad9466" opacity="0.85"/>
<rect x="166.90" y="357.39" width="0.6" height="4.11" fill="#5a3a4c" opacity="0.7"/>
<rect x="167.90" y="353.86" width="0.75" height="7.64" fill="#ad9466" opacity="0.85"/>
<rect x="167.90" y="358.71" width="0.6" height="2.79" fill="#5a3a4c" opacity="0.7"/>
<rect x="168.90" y="356.82" width="0.75" height="4.68" fill="#ad9466" opacity="0.85"/>
<rect x="168.90" y="360.84" width="0.6" height="0.66" fill="#5a3a4c" opacity="0.7"/>
<rect x="169.90" y="355.91" width="0.75" height="5.59" fill="#ad9466" opacity="0.85"/>
<rect x="169.90" y="360.39" width="0.6" height="1.11" fill="#5a3a4c" opacity="0.7"/>
<rect x="170.90" y="354.02" width="0.75" height="7.48" fill="#ad9466" opacity="0.85"/>
<rect x="170.90" y="356.97" width="0.6" height="4.53" fill="#5a3a4c" opacity="0.7"/>
<rect x="171.90" y="352.34" width="0.75" height="9.16" fill="#ad9466" opacity="0.85"/>
<rect x="171.90" y="360.21" width="0.6" height="1.29" fill="#5a3a4c" opacity="0.7"/>
<rect x="172.90" y="350.11" width="0.75" height="11.39" fill="#ad9466" opacity="0.85"/>
<rect x="172.90" y="357.77" width="0.6" height="3.73" fill="#5a3a4c" opacity="0.7"/>
<rect x="173.90" y="351.73" width="0.75" height="9.77" fill="#ad9466" opacity="0.85"/>
<rect x="173.90" y="357.33" width="0.6" height="4.17" fill="#5a3a4c" opacity="0.7"/>
<rect x="174.90" y="351.44" width="0.75" height="10.06" fill="#ad9466" opacity="0.85"/>
<rect x="174.90" y="357.80" width="0.6" height="3.70" fill="#5a3a4c" opacity="0.7"/>
<rect x="175.90" y="355.62" width="0.75" height="5.88" fill="#ad9466" opacity="0.85"/>
<rect x="175.90" y="357.04" width="0.6" height="4.46" fill="#5a3a4c" opacity="0.7"/>
<rect x="176.90" y="349.41" width="0.75" height="12.09" fill="#ad9466" opacity="0.85"/>
<rect x="176.90" y="360.29" width="0.6" height="1.21" fill="#5a3a4c" opacity="0.7"/>
<rect x="177.90" y="351.53" width="0.75" height="9.97" fill="#ad9466" opacity="0.85"/>
<rect x="177.90" y="358.09" width="0.6" height="3.41" fill="#5a3a4c" opacity="0.7"/>
<rect x="178.90" y="354.52" width="0.75" height="6.98" fill="#ad9466" opacity="0.85"/>
<rect x="178.90" y="358.83" width="0.6" height="2.67" fill="#5a3a4c" opacity="0.7"/>
<rect x="179.90" y="354.23" width="0.75" height="7.27" fill="#ad9466" opacity="0.85"/>
<rect x="179.90" y="357.26" width="0.6" height="4.24" fill="#5a3a4c" opacity="0.7"/>
<rect x="180.90" y="354.12" width="0.75" height="7.38" fill="#ad9466" opacity="0.85"/>
<rect x="180.90" y="357.63" width="0.6" height="3.87" fill="#5a3a4c" opacity="0.7"/>
<rect x="181.90" y="355.62" width="0.75" height="5.88" fill="#ad9466" opacity="0.85"/>
<rect x="181.90" y="357.43" width="0.6" height="4.07" fill="#5a3a4c" opacity="0.7"/>
<rect x="182.90" y="350.04" width="0.75" height="11.46" fill="#ad9466" opacity="0.85"/>
<rect x="182.90" y="359.10" width="0.6" height="2.40" fill="#5a3a4c" opacity="0.7"/>
<rect x="183.90" y="353.43" width="0.75" height="8.07" fill="#ad9466" opacity="0.85"/>
<rect x="183.90" y="357.28" width="0.6" height="4.22" fill="#5a3a4c" opacity="0.7"/>
<rect x="184.90" y="351.84" width="0.75" height="9.66" fill="#ad9466" opacity="0.85"/>
<rect x="184.90" y="359.00" width="0.6" height="2.50" fill="#5a3a4c" opacity="0.7"/>
<rect x="185.90" y="356.97" width="0.75" height="4.53" fill="#ad9466" opacity="0.85"/>
<rect x="185.90" y="359.64" width="0.6" height="1.86" fill="#5a3a4c" opacity="0.7"/>
<rect x="186.90" y="352.09" width="0.75" height="9.41" fill="#ad9466" opacity="0.85"/>
<rect x="186.90" y="360.27" width="0.6" height="1.23" fill="#5a3a4c" opacity="0.7"/>
<rect x="158.50" y="324.62" width="1.0" height="36.88" fill="#ad9466" opacity="0.9"/>
<rect x="166.00" y="344.48" width="1.0" height="17.02" fill="#ad9466" opacity="0.9"/>
<rect x="175.50" y="347.32" width="1.0" height="14.18" fill="#ad9466" opacity="0.9"/>
<rect x="188.00" y="359.52" width="0.70" height="1.98" fill="#8aa8d8" />
<rect x="188.90" y="360.12" width="0.70" height="1.38" fill="#8aa8d8" />
<rect x="189.80" y="358.79" width="0.70" height="2.71" fill="#8aa8d8" />
<rect x="190.70" y="359.45" width="0.70" height="2.05" fill="#8aa8d8" />
<rect x="191.60" y="360.87" width="0.70" height="0.63" fill="#8cc47a" />
<rect x="192.50" y="359.17" width="0.70" height="2.33" fill="#d88aa0" />
<rect x="193.40" y="359.46" width="0.70" height="2.04" fill="#d88aa0" />
<rect x="194.30" y="360.68" width="0.70" height="0.82" fill="#8cc47a" />
<rect x="195.20" y="358.96" width="0.70" height="2.54" fill="#8cc47a" />
<rect x="196.10" y="359.70" width="0.70" height="1.80" fill="#8aa8d8" />
<rect x="197.00" y="360.37" width="0.70" height="1.13" fill="#8aa8d8" />
<rect x="197.90" y="360.44" width="0.70" height="1.06" fill="#8cc47a" />
<rect x="198.80" y="360.52" width="0.70" height="0.98" fill="#8cc47a" />
<rect x="199.70" y="360.57" width="0.70" height="0.93" fill="#d88aa0" />
<rect x="200.60" y="360.62" width="0.70" height="0.88" fill="#8aa8d8" />
<rect x="201.50" y="359.92" width="0.70" height="1.58" fill="#d88aa0" />
<rect x="202.40" y="360.93" width="0.70" height="0.57" fill="#d88aa0" />
<rect x="203.30" y="360.46" width="0.70" height="1.04" fill="#d88aa0" />
<rect x="204.20" y="358.75" width="0.70" height="2.75" fill="#d88aa0" />
<rect x="205.10" y="358.95" width="0.70" height="2.55" fill="#8cc47a" />
<rect x="206.00" y="360.22" width="0.70" height="1.28" fill="#d88aa0" />
<rect x="206.90" y="359.71" width="0.70" height="1.79" fill="#8aa8d8" />
<rect x="207.80" y="359.51" width="0.70" height="1.99" fill="#d88aa0" />
<rect x="208.70" y="358.80" width="0.70" height="2.70" fill="#8aa8d8" />
<rect x="209.60" y="360.49" width="0.70" height="1.01" fill="#8cc47a" />
<rect x="210.50" y="360.25" width="0.70" height="1.25" fill="#8cc47a" />
<rect x="211.40" y="359.99" width="0.70" height="1.51" fill="#d88aa0" />
<rect x="212.30" y="360.33" width="0.70" height="1.17" fill="#8cc47a" />
<rect x="213.20" y="360.25" width="0.70" height="1.25" fill="#8aa8d8" />
<rect x="207.80" y="354.69" width="0.80" height="6.81" fill="#8aa8d8" />
<line x1="151.30" y1="273.70" x2="151.30" y2="365.90" stroke="#000" stroke-width="1.3" />
<line x1="150.70" y1="365.30" x2="216.90" y2="365.30" stroke="#000" stroke-width="1.3" />
<line x1="147.60" y1="276.30" x2="151.30" y2="276.30" stroke="#000" stroke-width="1.0" />
<text x="144.50" y="278.40" font-size="7.0" text-anchor="end" font-weight="normal" fill="#231f20" stroke="#231f20" stroke-width="0.1" textLength="14.0" lengthAdjust="spacingAndGlyphs" >0.15</text>
<line x1="147.60" y1="304.80" x2="151.30" y2="304.80" stroke="#000" stroke-width="1.0" />
<text x="144.50" y="306.90" font-size="7.0" text-anchor="end" font-weight="normal" fill="#231f20" stroke="#231f20" stroke-width="0.1" textLength="14.0" lengthAdjust="spacingAndGlyphs" >0.10</text>
<line x1="147.60" y1="333.20" x2="151.30" y2="333.20" stroke="#000" stroke-width="1.0" />
<text x="144.50" y="335.30" font-size="7.0" text-anchor="end" font-weight="normal" fill="#231f20" stroke="#231f20" stroke-width="0.1" textLength="14.0" lengthAdjust="spacingAndGlyphs" >0.05</text>
<line x1="147.60" y1="361.50" x2="151.30" y2="361.50" stroke="#000" stroke-width="1.0" />
<text x="144.50" y="363.60" font-size="7.0" text-anchor="end" font-weight="normal" fill="#231f20" stroke="#231f20" stroke-width="0.1" textLength="14.0" lengthAdjust="spacingAndGlyphs" >0.00</text>
<line x1="169.30" y1="365.30" x2="169.30" y2="368.30" stroke="#000" stroke-width="1.0" />
<text x="169.30" y="378.30" font-size="6.9" text-anchor="middle" font-weight="normal" fill="#231f20" stroke="#231f20" stroke-width="0.1" >−50</text>
<line x1="188.00" y1="365.30" x2="188.00" y2="368.30" stroke="#000" stroke-width="1.0" />
<text x="188.00" y="378.30" font-size="6.9" text-anchor="middle" font-weight="normal" fill="#231f20" stroke="#231f20" stroke-width="0.1" >0</text>
<line x1="207.40" y1="365.30" x2="207.40" y2="368.30" stroke="#000" stroke-width="1.0" />
<text x="207.40" y="378.30" font-size="6.9" text-anchor="middle" font-weight="normal" fill="#231f20" stroke="#231f20" stroke-width="0.1" >50</text>
<text x="188.00" y="386.40" font-size="7.0" text-anchor="middle" font-weight="normal" fill="#231f20" stroke="#231f20" stroke-width="0.1" >stop</text>
<text x="187.70" y="283.80" font-size="7.4" text-anchor="start" font-weight="normal" fill="#231f20" stroke="#231f20" stroke-width="0.1" textLength="24.3" lengthAdjust="spacingAndGlyphs" >Healthy</text>
<rect x="73.20" y="401.25" width="1.60" height="84.35" fill="#e2a0b3"/>
<rect x="74.80" y="440.47" width="1.10" height="45.13" fill="#e2a0b3"/>
<rect x="75.90" y="438.79" width="1.00" height="46.81" fill="#e2a0b3"/>
<rect x="76.90" y="448.91" width="1.20" height="36.69" fill="#e2a0b3"/>
<rect x="78.10" y="418.96" width="1.40" height="66.64" fill="#e2a0b3"/>
<rect x="79.50" y="453.13" width="1.10" height="32.47" fill="#e2a0b3"/>
<rect x="80.60" y="455.66" width="1.30" height="29.94" fill="#e2a0b3"/>
<rect x="81.90" y="448.49" width="1.00" height="37.11" fill="#e2a0b3"/>
<rect x="82.90" y="451.86" width="1.00" height="33.74" fill="#e2a0b3"/>
<rect x="83.90" y="459.87" width="1.00" height="25.73" fill="#e2a0b3"/>
<rect x="84.90" y="461.14" width="1.10" height="24.46" fill="#e2a0b3"/>
<rect x="86.00" y="463.25" width="1.00" height="22.35" fill="#e2a0b3"/>
<rect x="87.00" y="474.63" width="1.00" height="10.97" fill="#e2a0b3"/>
<rect x="88.00" y="475.90" width="0.90" height="9.70" fill="#e2a0b3"/>
<rect x="88.90" y="470.00" width="1.10" height="15.60" fill="#e2a0b3"/>
<rect x="90.00" y="440.89" width="1.10" height="44.71" fill="#e2a0b3"/>
<rect x="91.10" y="470.00" width="0.90" height="15.60" fill="#e2a0b3"/>
<rect x="92.00" y="472.53" width="1.10" height="13.07" fill="#e2a0b3"/>
<rect x="93.10" y="472.53" width="0.90" height="13.07" fill="#e2a0b3"/>
<rect x="94.00" y="432.88" width="1.00" height="52.72" fill="#e2a0b3"/>
<rect x="95.00" y="462.40" width="1.00" height="23.20" fill="#e2a0b3"/>
<rect x="96.00" y="461.98" width="1.00" height="23.62" fill="#e2a0b3"/>
<rect x="97.00" y="464.51" width="1.10" height="21.09" fill="#e2a0b3"/>
<rect x="98.10" y="469.15" width="1.00" height="16.45" fill="#e2a0b3"/>
<rect x="99.10" y="472.53" width="1.00" height="13.07" fill="#e2a0b3"/>
<rect x="100.10" y="475.90" width="0.90" height="9.70" fill="#e2a0b3"/>
<rect x="101.00" y="473.79" width="1.10" height="11.81" fill="#e2a0b3"/>
<rect x="102.10" y="464.51" width="0.90" height="21.09" fill="#e2a0b3"/>
<rect x="103.00" y="473.79" width="1.10" height="11.81" fill="#e2a0b3"/>
<rect x="104.10" y="474.63" width="1.00" height="10.97" fill="#e2a0b3"/>
<rect x="105.10" y="469.15" width="1.00" height="16.45" fill="#e2a0b3"/>
<rect x="106.10" y="472.53" width="1.10" height="13.07" fill="#e2a0b3"/>
<rect x="107.20" y="469.15" width="1.00" height="16.45" fill="#e2a0b3"/>
<rect x="108.20" y="469.15" width="0.90" height="16.45" fill="#e2a0b3"/>
<rect x="109.10" y="456.50" width="1.10" height="29.10" fill="#e2a0b3"/>
<rect x="110.20" y="471.26" width="1.10" height="14.34" fill="#e2a0b3"/>
<rect x="111.30" y="470.42" width="0.90" height="15.18" fill="#e2a0b3"/>
<rect x="112.20" y="468.73" width="0.90" height="16.87" fill="#e2a0b3"/>
<rect x="113.10" y="440.47" width="1.10" height="45.13" fill="#e2a0b3"/>
<rect x="114.20" y="459.03" width="1.00" height="26.57" fill="#e2a0b3"/>
<rect x="115.20" y="452.28" width="1.00" height="33.32" fill="#e2a0b3"/>
<rect x="116.20" y="469.15" width="1.00" height="16.45" fill="#e2a0b3"/>
<rect x="117.20" y="464.51" width="1.10" height="21.09" fill="#e2a0b3"/>
<rect x="118.30" y="468.73" width="0.80" height="16.87" fill="#e2a0b3"/>
<line x1="73.50" y1="401.25" x2="73.50" y2="485.60" stroke="#d27893" stroke-width="0.45" opacity="0.7"/>
<line x1="75.10" y1="440.47" x2="75.10" y2="485.60" stroke="#d27893" stroke-width="0.45" opacity="0.7"/>
<line x1="76.20" y1="438.79" x2="76.20" y2="485.60" stroke="#d27893" stroke-width="0.45" opacity="0.7"/>
<line x1="77.20" y1="448.91" x2="77.20" y2="485.60" stroke="#d27893" stroke-width="0.45" opacity="0.7"/>
<line x1="78.40" y1="418.96" x2="78.40" y2="485.60" stroke="#d27893" stroke-width="0.45" opacity="0.7"/>
<line x1="79.80" y1="453.13" x2="79.80" y2="485.60" stroke="#d27893" stroke-width="0.45" opacity="0.7"/>
<line x1="80.90" y1="455.66" x2="80.90" y2="485.60" stroke="#d27893" stroke-width="0.45" opacity="0.7"/>
<line x1="82.20" y1="448.49" x2="82.20" y2="485.60" stroke="#d27893" stroke-width="0.45" opacity="0.7"/>
<line x1="83.20" y1="451.86" x2="83.20" y2="485.60" stroke="#d27893" stroke-width="0.45" opacity="0.7"/>
<line x1="84.20" y1="459.87" x2="84.20" y2="485.60" stroke="#d27893" stroke-width="0.45" opacity="0.7"/>
<line x1="85.20" y1="461.14" x2="85.20" y2="485.60" stroke="#d27893" stroke-width="0.45" opacity="0.7"/>
<line x1="86.30" y1="463.25" x2="86.30" y2="485.60" stroke="#d27893" stroke-width="0.45" opacity="0.7"/>
<line x1="87.30" y1="474.63" x2="87.30" y2="485.60" stroke="#d27893" stroke-width="0.45" opacity="0.7"/>
<line x1="88.30" y1="475.90" x2="88.30" y2="485.60" stroke="#d27893" stroke-width="0.45" opacity="0.7"/>
<line x1="89.20" y1="470.00" x2="89.20" y2="485.60" stroke="#d27893" stroke-width="0.45" opacity="0.7"/>
<line x1="90.30" y1="440.89" x2="90.30" y2="485.60" stroke="#d27893" stroke-width="0.45" opacity="0.7"/>
<line x1="91.40" y1="470.00" x2="91.40" y2="485.60" stroke="#d27893" stroke-width="0.45" opacity="0.7"/>
<line x1="92.30" y1="472.53" x2="92.30" y2="485.60" stroke="#d27893" stroke-width="0.45" opacity="0.7"/>
<line x1="93.40" y1="472.53" x2="93.40" y2="485.60" stroke="#d27893" stroke-width="0.45" opacity="0.7"/>
<line x1="94.30" y1="432.88" x2="94.30" y2="485.60" stroke="#d27893" stroke-width="0.45" opacity="0.7"/>
<line x1="95.30" y1="462.40" x2="95.30" y2="485.60" stroke="#d27893" stroke-width="0.45" opacity="0.7"/>
<line x1="96.30" y1="461.98" x2="96.30" y2="485.60" stroke="#d27893" stroke-width="0.45" opacity="0.7"/>
<line x1="97.30" y1="464.51" x2="97.30" y2="485.60" stroke="#d27893" stroke-width="0.45" opacity="0.7"/>
<line x1="98.40" y1="469.15" x2="98.40" y2="485.60" stroke="#d27893" stroke-width="0.45" opacity="0.7"/>
<line x1="99.40" y1="472.53" x2="99.40" y2="485.60" stroke="#d27893" stroke-width="0.45" opacity="0.7"/>
<line x1="100.40" y1="475.90" x2="100.40" y2="485.60" stroke="#d27893" stroke-width="0.45" opacity="0.7"/>
<line x1="101.30" y1="473.79" x2="101.30" y2="485.60" stroke="#d27893" stroke-width="0.45" opacity="0.7"/>
<line x1="102.40" y1="464.51" x2="102.40" y2="485.60" stroke="#d27893" stroke-width="0.45" opacity="0.7"/>
<line x1="103.30" y1="473.79" x2="103.30" y2="485.60" stroke="#d27893" stroke-width="0.45" opacity="0.7"/>
<line x1="104.40" y1="474.63" x2="104.40" y2="485.60" stroke="#d27893" stroke-width="0.45" opacity="0.7"/>
<line x1="105.40" y1="469.15" x2="105.40" y2="485.60" stroke="#d27893" stroke-width="0.45" opacity="0.7"/>
<line x1="106.40" y1="472.53" x2="106.40" y2="485.60" stroke="#d27893" stroke-width="0.45" opacity="0.7"/>
<line x1="107.50" y1="469.15" x2="107.50" y2="485.60" stroke="#d27893" stroke-width="0.45" opacity="0.7"/>
<line x1="108.50" y1="469.15" x2="108.50" y2="485.60" stroke="#d27893" stroke-width="0.45" opacity="0.7"/>
<line x1="109.40" y1="456.50" x2="109.40" y2="485.60" stroke="#d27893" stroke-width="0.45" opacity="0.7"/>
<line x1="110.50" y1="471.26" x2="110.50" y2="485.60" stroke="#d27893" stroke-width="0.45" opacity="0.7"/>
<line x1="111.60" y1="470.42" x2="111.60" y2="485.60" stroke="#d27893" stroke-width="0.45" opacity="0.7"/>
<line x1="112.50" y1="468.73" x2="112.50" y2="485.60" stroke="#d27893" stroke-width="0.45" opacity="0.7"/>
<line x1="113.40" y1="440.47" x2="113.40" y2="485.60" stroke="#d27893" stroke-width="0.45" opacity="0.7"/>
<line x1="114.50" y1="459.03" x2="114.50" y2="485.60" stroke="#d27893" stroke-width="0.45" opacity="0.7"/>
<line x1="115.50" y1="452.28" x2="115.50" y2="485.60" stroke="#d27893" stroke-width="0.45" opacity="0.7"/>
<line x1="116.50" y1="469.15" x2="116.50" y2="485.60" stroke="#d27893" stroke-width="0.45" opacity="0.7"/>
<line x1="117.50" y1="464.51" x2="117.50" y2="485.60" stroke="#d27893" stroke-width="0.45" opacity="0.7"/>
<line x1="118.60" y1="468.73" x2="118.60" y2="485.60" stroke="#d27893" stroke-width="0.45" opacity="0.7"/>
<rect x="58.60" y="484.43" width="0.75" height="1.17" fill="#d88aa0" opacity="0.8"/>
<rect x="58.60" y="484.00" width="0.75" height="1.60" fill="#7a5560" opacity="0.8"/>
<rect x="59.35" y="484.59" width="0.75" height="1.01" fill="#8cc47a" opacity="0.8"/>
<rect x="59.35" y="484.95" width="0.75" height="0.65" fill="#7a5560" opacity="0.8"/>
<rect x="60.10" y="484.16" width="0.75" height="1.44" fill="#8cc47a" opacity="0.8"/>
<rect x="60.10" y="483.92" width="0.75" height="1.68" fill="#7a5560" opacity="0.8"/>
<rect x="60.85" y="483.37" width="0.75" height="2.23" fill="#8cc47a" opacity="0.8"/>
<rect x="60.85" y="484.55" width="0.75" height="1.05" fill="#7a5560" opacity="0.8"/>
<rect x="61.60" y="484.37" width="0.75" height="1.23" fill="#d88aa0" opacity="0.8"/>
<rect x="61.60" y="483.99" width="0.75" height="1.61" fill="#7a5560" opacity="0.8"/>
<rect x="62.35" y="483.06" width="0.75" height="2.54" fill="#8cc47a" opacity="0.8"/>
<rect x="62.35" y="484.90" width="0.75" height="0.70" fill="#7a5560" opacity="0.8"/>
<rect x="63.10" y="482.78" width="0.75" height="2.82" fill="#8aa8d8" opacity="0.8"/>
<rect x="63.10" y="484.10" width="0.75" height="1.50" fill="#7a5560" opacity="0.8"/>
<rect x="63.85" y="482.94" width="0.75" height="2.66" fill="#8cc47a" opacity="0.8"/>
<rect x="63.85" y="484.04" width="0.75" height="1.56" fill="#7a5560" opacity="0.8"/>
<rect x="64.60" y="483.68" width="0.75" height="1.92" fill="#8aa8d8" opacity="0.8"/>
<rect x="64.60" y="484.20" width="0.75" height="1.40" fill="#7a5560" opacity="0.8"/>
<rect x="65.35" y="482.39" width="0.75" height="3.21" fill="#8aa8d8" opacity="0.8"/>
<rect x="65.35" y="484.04" width="0.75" height="1.56" fill="#7a5560" opacity="0.8"/>
<rect x="66.10" y="483.50" width="0.75" height="2.10" fill="#d88aa0" opacity="0.8"/>
<rect x="66.10" y="484.70" width="0.75" height="0.90" fill="#7a5560" opacity="0.8"/>
<rect x="66.85" y="483.17" width="0.75" height="2.43" fill="#8aa8d8" opacity="0.8"/>
<rect x="66.85" y="484.65" width="0.75" height="0.95" fill="#7a5560" opacity="0.8"/>
<rect x="67.60" y="481.37" width="0.75" height="4.23" fill="#8aa8d8" opacity="0.8"/>
<rect x="67.60" y="484.40" width="0.75" height="1.20" fill="#7a5560" opacity="0.8"/>
<rect x="68.35" y="482.47" width="0.75" height="3.13" fill="#8cc47a" opacity="0.8"/>
<rect x="68.35" y="484.25" width="0.75" height="1.35" fill="#7a5560" opacity="0.8"/>
<rect x="69.10" y="480.14" width="0.75" height="5.46" fill="#d88aa0" opacity="0.8"/>
<rect x="69.10" y="484.26" width="0.75" height="1.34" fill="#7a5560" opacity="0.8"/>
<rect x="69.85" y="483.93" width="0.75" height="1.67" fill="#d88aa0" opacity="0.8"/>
<rect x="69.85" y="484.40" width="0.75" height="1.20" fill="#7a5560" opacity="0.8"/>
<rect x="70.60" y="482.95" width="0.75" height="2.65" fill="#8aa8d8" opacity="0.8"/>
<rect x="70.60" y="484.74" width="0.75" height="0.86" fill="#7a5560" opacity="0.8"/>
<rect x="71.35" y="484.44" width="0.75" height="1.16" fill="#8aa8d8" opacity="0.8"/>
<rect x="71.35" y="484.46" width="0.75" height="1.14" fill="#7a5560" opacity="0.8"/>
<rect x="72.10" y="482.81" width="0.75" height="2.79" fill="#8aa8d8" opacity="0.8"/>
<rect x="72.10" y="484.12" width="0.75" height="1.48" fill="#7a5560" opacity="0.8"/>
<rect x="72.85" y="483.01" width="0.75" height="2.59" fill="#8cc47a" opacity="0.8"/>
<rect x="72.85" y="484.52" width="0.75" height="1.08" fill="#7a5560" opacity="0.8"/>
<rect x="73.30" y="480.76" width="0.75" height="4.84" fill="#ad9466" opacity="0.85"/>
<rect x="73.30" y="484.83" width="0.6" height="0.77" fill="#5a3a4c" opacity="0.7"/>
<rect x="74.30" y="479.32" width="0.75" height="6.28" fill="#ad9466" opacity="0.85"/>
<rect x="74.30" y="482.93" width="0.6" height="2.67" fill="#5a3a4c" opacity="0.7"/>
<rect x="75.30" y="481.04" width="0.75" height="4.56" fill="#ad9466" opacity="0.85"/>
<rect x="75.30" y="483.45" width="0.6" height="2.15" fill="#5a3a4c" opacity="0.7"/>
<rect x="76.30" y="479.73" width="0.75" height="5.87" fill="#ad9466" opacity="0.85"/>
<rect x="76.30" y="482.46" width="0.6" height="3.14" fill="#5a3a4c" opacity="0.7"/>
<rect x="77.30" y="481.79" width="0.75" height="3.81" fill="#ad9466" opacity="0.85"/>
<rect x="77.30" y="484.48" width="0.6" height="1.12" fill="#5a3a4c" opacity="0.7"/>
<rect x="78.30" y="483.64" width="0.75" height="1.96" fill="#ad9466" opacity="0.85"/>
<rect x="78.30" y="485.16" width="0.6" height="0.44" fill="#5a3a4c" opacity="0.7"/>
<rect x="79.30" y="483.09" width="0.75" height="2.51" fill="#ad9466" opacity="0.85"/>
<rect x="79.30" y="483.60" width="0.6" height="2.00" fill="#5a3a4c" opacity="0.7"/>
<rect x="80.30" y="476.71" width="0.75" height="8.89" fill="#ad9466" opacity="0.85"/>
<rect x="80.30" y="482.31" width="0.6" height="3.29" fill="#5a3a4c" opacity="0.7"/>
<rect x="81.30" y="481.70" width="0.75" height="3.90" fill="#ad9466" opacity="0.85"/>
<rect x="81.30" y="484.40" width="0.6" height="1.20" fill="#5a3a4c" opacity="0.7"/>
<rect x="82.30" y="478.68" width="0.75" height="6.92" fill="#ad9466" opacity="0.85"/>
<rect x="82.30" y="482.29" width="0.6" height="3.31" fill="#5a3a4c" opacity="0.7"/>
<rect x="83.30" y="481.33" width="0.75" height="4.27" fill="#ad9466" opacity="0.85"/>
<rect x="83.30" y="484.11" width="0.6" height="1.49" fill="#5a3a4c" opacity="0.7"/>
<rect x="84.30" y="482.86" width="0.75" height="2.74" fill="#ad9466" opacity="0.85"/>
<rect x="84.30" y="482.63" width="0.6" height="2.97" fill="#5a3a4c" opacity="0.7"/>
<rect x="85.30" y="481.05" width="0.75" height="4.55" fill="#ad9466" opacity="0.85"/>
<rect x="85.30" y="482.61" width="0.6" height="2.99" fill="#5a3a4c" opacity="0.7"/>
<rect x="86.30" y="480.98" width="0.75" height="4.62" fill="#ad9466" opacity="0.85"/>
<rect x="86.30" y="482.62" width="0.6" height="2.98" fill="#5a3a4c" opacity="0.7"/>
<rect x="87.30" y="478.74" width="0.75" height="6.86" fill="#ad9466" opacity="0.85"/>
<rect x="87.30" y="484.88" width="0.6" height="0.72" fill="#5a3a4c" opacity="0.7"/>
<rect x="88.30" y="476.53" width="0.75" height="9.07" fill="#ad9466" opacity="0.85"/>
<rect x="88.30" y="482.78" width="0.6" height="2.82" fill="#5a3a4c" opacity="0.7"/>
<rect x="89.30" y="481.85" width="0.75" height="3.75" fill="#ad9466" opacity="0.85"/>
<rect x="89.30" y="483.31" width="0.6" height="2.29" fill="#5a3a4c" opacity="0.7"/>
<rect x="90.30" y="478.48" width="0.75" height="7.12" fill="#ad9466" opacity="0.85"/>
<rect x="90.30" y="482.41" width="0.6" height="3.19" fill="#5a3a4c" opacity="0.7"/>
<rect x="91.30" y="480.59" width="0.75" height="5.01" fill="#ad9466" opacity="0.85"/>
<rect x="91.30" y="484.42" width="0.6" height="1.18" fill="#5a3a4c" opacity="0.7"/>
<rect x="92.30" y="481.61" width="0.75" height="3.99" fill="#ad9466" opacity="0.85"/>
<rect x="92.30" y="484.18" width="0.6" height="1.42" fill="#5a3a4c" opacity="0.7"/>
<rect x="93.30" y="477.93" width="0.75" height="7.67" fill="#ad9466" opacity="0.85"/>
<rect x="93.30" y="482.26" width="0.6" height="3.34" fill="#5a3a4c" opacity="0.7"/>
<rect x="94.30" y="481.52" width="0.75" height="4.08" fill="#ad9466" opacity="0.85"/>
<rect x="94.30" y="484.07" width="0.6" height="1.53" fill="#5a3a4c" opacity="0.7"/>
<rect x="95.30" y="479.44" width="0.75" height="6.16" fill="#ad9466" opacity="0.85"/>
<rect x="95.30" y="484.78" width="0.6" height="0.82" fill="#5a3a4c" opacity="0.7"/>
<rect x="96.30" y="479.10" width="0.75" height="6.50" fill="#ad9466" opacity="0.85"/>
<rect x="96.30" y="484.20" width="0.6" height="1.40" fill="#5a3a4c" opacity="0.7"/>
<rect x="97.30" y="481.23" width="0.75" height="4.37" fill="#ad9466" opacity="0.85"/>
<rect x="97.30" y="482.47" width="0.6" height="3.13" fill="#5a3a4c" opacity="0.7"/>
<rect x="98.30" y="479.29" width="0.75" height="6.31" fill="#ad9466" opacity="0.85"/>
<rect x="98.30" y="484.35" width="0.6" height="1.25" fill="#5a3a4c" opacity="0.7"/>
<rect x="99.30" y="480.20" width="0.75" height="5.40" fill="#ad9466" opacity="0.85"/>
<rect x="99.30" y="483.44" width="0.6" height="2.16" fill="#5a3a4c" opacity="0.7"/>
<rect x="100.30" y="476.66" width="0.75" height="8.94" fill="#ad9466" opacity="0.85"/>
<rect x="100.30" y="485.12" width="0.6" height="0.48" fill="#5a3a4c" opacity="0.7"/>
<rect x="101.30" y="481.11" width="0.75" height="4.49" fill="#ad9466" opacity="0.85"/>
<rect x="101.30" y="483.32" width="0.6" height="2.28" fill="#5a3a4c" opacity="0.7"/>
<rect x="102.30" y="481.65" width="0.75" height="3.95" fill="#ad9466" opacity="0.85"/>
<rect x="102.30" y="483.40" width="0.6" height="2.20" fill="#5a3a4c" opacity="0.7"/>
<rect x="103.30" y="482.57" width="0.75" height="3.03" fill="#ad9466" opacity="0.85"/>
<rect x="103.30" y="484.63" width="0.6" height="0.97" fill="#5a3a4c" opacity="0.7"/>
<rect x="104.30" y="478.16" width="0.75" height="7.44" fill="#ad9466" opacity="0.85"/>
<rect x="104.30" y="482.69" width="0.6" height="2.91" fill="#5a3a4c" opacity="0.7"/>
<rect x="105.30" y="481.91" width="0.75" height="3.69" fill="#ad9466" opacity="0.85"/>
<rect x="105.30" y="482.85" width="0.6" height="2.75" fill="#5a3a4c" opacity="0.7"/>
<rect x="106.30" y="483.12" width="0.75" height="2.48" fill="#ad9466" opacity="0.85"/>
<rect x="106.30" y="482.78" width="0.6" height="2.82" fill="#5a3a4c" opacity="0.7"/>
<rect x="107.30" y="476.54" width="0.75" height="9.06" fill="#ad9466" opacity="0.85"/>
<rect x="107.30" y="483.16" width="0.6" height="2.44" fill="#5a3a4c" opacity="0.7"/>
<rect x="108.30" y="482.92" width="0.75" height="2.68" fill="#ad9466" opacity="0.85"/>
<rect x="108.30" y="483.70" width="0.6" height="1.90" fill="#5a3a4c" opacity="0.7"/>
<rect x="109.30" y="478.95" width="0.75" height="6.65" fill="#ad9466" opacity="0.85"/>
<rect x="109.30" y="484.38" width="0.6" height="1.22" fill="#5a3a4c" opacity="0.7"/>
<rect x="110.30" y="481.42" width="0.75" height="4.18" fill="#ad9466" opacity="0.85"/>
<rect x="110.30" y="483.18" width="0.6" height="2.42" fill="#5a3a4c" opacity="0.7"/>
<rect x="111.30" y="478.98" width="0.75" height="6.62" fill="#ad9466" opacity="0.85"/>
<rect x="111.30" y="484.89" width="0.6" height="0.71" fill="#5a3a4c" opacity="0.7"/>
<rect x="112.30" y="479.35" width="0.75" height="6.25" fill="#ad9466" opacity="0.85"/>
<rect x="112.30" y="482.38" width="0.6" height="3.22" fill="#5a3a4c" opacity="0.7"/>
<rect x="113.30" y="478.79" width="0.75" height="6.81" fill="#ad9466" opacity="0.85"/>
<rect x="113.30" y="484.52" width="0.6" height="1.08" fill="#5a3a4c" opacity="0.7"/>
<rect x="114.30" y="477.77" width="0.75" height="7.83" fill="#ad9466" opacity="0.85"/>
<rect x="114.30" y="482.34" width="0.6" height="3.26" fill="#5a3a4c" opacity="0.7"/>
<rect x="115.30" y="483.31" width="0.75" height="2.29" fill="#ad9466" opacity="0.85"/>
<rect x="115.30" y="482.99" width="0.6" height="2.61" fill="#5a3a4c" opacity="0.7"/>
<rect x="116.30" y="482.26" width="0.75" height="3.34" fill="#ad9466" opacity="0.85"/>
<rect x="116.30" y="483.50" width="0.6" height="2.10" fill="#5a3a4c" opacity="0.7"/>
<rect x="117.30" y="481.86" width="0.75" height="3.74" fill="#ad9466" opacity="0.85"/>
<rect x="117.30" y="482.85" width="0.6" height="2.75" fill="#5a3a4c" opacity="0.7"/>
<rect x="118.30" y="483.66" width="0.75" height="1.94" fill="#ad9466" opacity="0.85"/>
<rect x="118.30" y="482.35" width="0.6" height="3.25" fill="#5a3a4c" opacity="0.7"/>
<rect x="74.20" y="451.86" width="1.0" height="33.74" fill="#ad9466" opacity="0.9"/>
<rect x="77.50" y="475.06" width="1.0" height="10.54" fill="#ad9466" opacity="0.9"/>
<rect x="79.00" y="472.95" width="1.0" height="12.65" fill="#ad9466" opacity="0.9"/>
<rect x="83.00" y="475.06" width="1.0" height="10.54" fill="#ad9466" opacity="0.9"/>
<rect x="88.00" y="476.32" width="1.0" height="9.28" fill="#ad9466" opacity="0.9"/>
<rect x="94.50" y="476.32" width="1.0" height="9.28" fill="#ad9466" opacity="0.9"/>
<rect x="113.50" y="477.17" width="1.0" height="8.44" fill="#ad9466" opacity="0.9"/>
<line x1="55.60" y1="398.00" x2="55.60" y2="490.60" stroke="#000" stroke-width="1.3" />
<line x1="55.00" y1="490.00" x2="121.20" y2="490.00" stroke="#000" stroke-width="1.3" />
<line x1="51.90" y1="401.25" x2="55.60" y2="401.25" stroke="#000" stroke-width="1.0" />
<text x="48.80" y="403.35" font-size="7.0" text-anchor="end" font-weight="normal" fill="#231f20" stroke="#231f20" stroke-width="0.1" textLength="14.0" lengthAdjust="spacingAndGlyphs" >0.20</text>
<line x1="51.90" y1="422.30" x2="55.60" y2="422.30" stroke="#000" stroke-width="1.0" />
<text x="48.80" y="424.40" font-size="7.0" text-anchor="end" font-weight="normal" fill="#231f20" stroke="#231f20" stroke-width="0.1" textLength="14.0" lengthAdjust="spacingAndGlyphs" >0.15</text>
<line x1="51.90" y1="443.40" x2="55.60" y2="443.40" stroke="#000" stroke-width="1.0" />
<text x="48.80" y="445.50" font-size="7.0" text-anchor="end" font-weight="normal" fill="#231f20" stroke="#231f20" stroke-width="0.1" textLength="14.0" lengthAdjust="spacingAndGlyphs" >0.10</text>
<line x1="51.90" y1="464.50" x2="55.60" y2="464.50" stroke="#000" stroke-width="1.0" />
<text x="48.80" y="466.60" font-size="7.0" text-anchor="end" font-weight="normal" fill="#231f20" stroke="#231f20" stroke-width="0.1" textLength="14.0" lengthAdjust="spacingAndGlyphs" >0.05</text>
<line x1="51.90" y1="485.60" x2="55.60" y2="485.60" stroke="#000" stroke-width="1.0" />
<text x="48.80" y="487.70" font-size="7.0" text-anchor="end" font-weight="normal" fill="#231f20" stroke="#231f20" stroke-width="0.1" textLength="14.0" lengthAdjust="spacingAndGlyphs" >0.00</text>
<line x1="58.00" y1="490.00" x2="58.00" y2="493.00" stroke="#000" stroke-width="1.0" />
<text x="58.00" y="503.30" font-size="6.9" text-anchor="middle" font-weight="normal" fill="#231f20" stroke="#231f20" stroke-width="0.1" >−40</text>
<line x1="73.75" y1="490.00" x2="73.75" y2="493.00" stroke="#000" stroke-width="1.0" />
<text x="73.75" y="503.30" font-size="6.9" text-anchor="middle" font-weight="normal" fill="#231f20" stroke="#231f20" stroke-width="0.1" >0</text>
<line x1="89.50" y1="490.00" x2="89.50" y2="493.00" stroke="#000" stroke-width="1.0" />
<text x="89.50" y="503.30" font-size="6.9" text-anchor="middle" font-weight="normal" fill="#231f20" stroke="#231f20" stroke-width="0.1" >40</text>
<line x1="105.50" y1="490.00" x2="105.50" y2="493.00" stroke="#000" stroke-width="1.0" />
<text x="105.50" y="503.30" font-size="6.9" text-anchor="middle" font-weight="normal" fill="#231f20" stroke="#231f20" stroke-width="0.1" >80</text>
<text x="73.80" y="511.30" font-size="7.0" text-anchor="middle" font-weight="normal" fill="#231f20" stroke="#231f20" stroke-width="0.1" >start</text>
<text x="96.30" y="408.00" font-size="7.4" text-anchor="start" font-weight="normal" fill="#231f20" stroke="#231f20" stroke-width="0.1" textLength="20.3" lengthAdjust="spacingAndGlyphs" >Sepsis</text>
<rect x="154.70" y="446.78" width="1.00" height="39.22" fill="#e2a0b3"/>
<rect x="155.70" y="459.43" width="1.00" height="26.57" fill="#e2a0b3"/>
<rect x="156.70" y="466.18" width="1.40" height="19.82" fill="#e2a0b3"/>
<rect x="158.10" y="405.45" width="1.30" height="80.55" fill="#e2a0b3"/>
<rect x="159.40" y="419.79" width="1.40" height="66.21" fill="#e2a0b3"/>
<rect x="160.80" y="469.13" width="1.00" height="16.87" fill="#e2a0b3"/>
<rect x="161.80" y="468.29" width="1.10" height="17.71" fill="#e2a0b3"/>
<rect x="162.90" y="467.44" width="1.10" height="18.56" fill="#e2a0b3"/>
<rect x="164.00" y="469.13" width="1.10" height="16.87" fill="#e2a0b3"/>
<rect x="165.10" y="468.29" width="1.10" height="17.71" fill="#e2a0b3"/>
<rect x="166.20" y="467.02" width="1.00" height="18.98" fill="#e2a0b3"/>
<rect x="167.20" y="458.16" width="1.00" height="27.84" fill="#e2a0b3"/>
<rect x="168.20" y="448.89" width="0.90" height="37.11" fill="#e2a0b3"/>
<rect x="169.10" y="466.18" width="1.10" height="19.82" fill="#e2a0b3"/>
<rect x="170.20" y="453.53" width="1.10" height="32.47" fill="#e2a0b3"/>
<rect x="171.30" y="450.57" width="0.90" height="35.43" fill="#e2a0b3"/>
<rect x="172.20" y="449.31" width="0.90" height="36.69" fill="#e2a0b3"/>
<rect x="173.10" y="453.95" width="1.10" height="32.05" fill="#e2a0b3"/>
<rect x="174.20" y="470.40" width="1.10" height="15.60" fill="#e2a0b3"/>
<rect x="175.30" y="469.13" width="0.90" height="16.87" fill="#e2a0b3"/>
<rect x="176.20" y="464.91" width="1.00" height="21.09" fill="#e2a0b3"/>
<rect x="177.20" y="453.53" width="1.10" height="32.47" fill="#e2a0b3"/>
<rect x="178.30" y="456.90" width="1.00" height="29.10" fill="#e2a0b3"/>
<rect x="179.30" y="469.13" width="1.00" height="16.87" fill="#e2a0b3"/>
<rect x="180.30" y="446.78" width="0.90" height="39.22" fill="#e2a0b3"/>
<rect x="181.20" y="448.04" width="1.10" height="37.96" fill="#e2a0b3"/>
<rect x="182.30" y="471.66" width="1.10" height="14.34" fill="#e2a0b3"/>
<rect x="183.40" y="472.50" width="0.90" height="13.50" fill="#e2a0b3"/>
<rect x="184.30" y="472.50" width="1.00" height="13.50" fill="#e2a0b3"/>
<rect x="185.30" y="462.38" width="1.30" height="23.62" fill="#e2a0b3"/>
<rect x="186.60" y="474.19" width="1.10" height="11.81" fill="#e2a0b3"/>
<line x1="155.00" y1="446.78" x2="155.00" y2="486.00" stroke="#d27893" stroke-width="0.45" opacity="0.7"/>
<line x1="156.00" y1="459.43" x2="156.00" y2="486.00" stroke="#d27893" stroke-width="0.45" opacity="0.7"/>
<line x1="157.00" y1="466.18" x2="157.00" y2="486.00" stroke="#d27893" stroke-width="0.45" opacity="0.7"/>
<line x1="158.40" y1="405.45" x2="158.40" y2="486.00" stroke="#d27893" stroke-width="0.45" opacity="0.7"/>
<line x1="159.70" y1="419.79" x2="159.70" y2="486.00" stroke="#d27893" stroke-width="0.45" opacity="0.7"/>
<line x1="161.10" y1="469.13" x2="161.10" y2="486.00" stroke="#d27893" stroke-width="0.45" opacity="0.7"/>
<line x1="162.10" y1="468.29" x2="162.10" y2="486.00" stroke="#d27893" stroke-width="0.45" opacity="0.7"/>
<line x1="163.20" y1="467.44" x2="163.20" y2="486.00" stroke="#d27893" stroke-width="0.45" opacity="0.7"/>
<line x1="164.30" y1="469.13" x2="164.30" y2="486.00" stroke="#d27893" stroke-width="0.45" opacity="0.7"/>
<line x1="165.40" y1="468.29" x2="165.40" y2="486.00" stroke="#d27893" stroke-width="0.45" opacity="0.7"/>
<line x1="166.50" y1="467.02" x2="166.50" y2="486.00" stroke="#d27893" stroke-width="0.45" opacity="0.7"/>
<line x1="167.50" y1="458.16" x2="167.50" y2="486.00" stroke="#d27893" stroke-width="0.45" opacity="0.7"/>
<line x1="168.50" y1="448.89" x2="168.50" y2="486.00" stroke="#d27893" stroke-width="0.45" opacity="0.7"/>
<line x1="169.40" y1="466.18" x2="169.40" y2="486.00" stroke="#d27893" stroke-width="0.45" opacity="0.7"/>
<line x1="170.50" y1="453.53" x2="170.50" y2="486.00" stroke="#d27893" stroke-width="0.45" opacity="0.7"/>
<line x1="171.60" y1="450.57" x2="171.60" y2="486.00" stroke="#d27893" stroke-width="0.45" opacity="0.7"/>
<line x1="172.50" y1="449.31" x2="172.50" y2="486.00" stroke="#d27893" stroke-width="0.45" opacity="0.7"/>
<line x1="173.40" y1="453.95" x2="173.40" y2="486.00" stroke="#d27893" stroke-width="0.45" opacity="0.7"/>
<line x1="174.50" y1="470.40" x2="174.50" y2="486.00" stroke="#d27893" stroke-width="0.45" opacity="0.7"/>
<line x1="175.60" y1="469.13" x2="175.60" y2="486.00" stroke="#d27893" stroke-width="0.45" opacity="0.7"/>
<line x1="176.50" y1="464.91" x2="176.50" y2="486.00" stroke="#d27893" stroke-width="0.45" opacity="0.7"/>
<line x1="177.50" y1="453.53" x2="177.50" y2="486.00" stroke="#d27893" stroke-width="0.45" opacity="0.7"/>
<line x1="178.60" y1="456.90" x2="178.60" y2="486.00" stroke="#d27893" stroke-width="0.45" opacity="0.7"/>
<line x1="179.60" y1="469.13" x2="179.60" y2="486.00" stroke="#d27893" stroke-width="0.45" opacity="0.7"/>
<line x1="180.60" y1="446.78" x2="180.60" y2="486.00" stroke="#d27893" stroke-width="0.45" opacity="0.7"/>
<line x1="181.50" y1="448.04" x2="181.50" y2="486.00" stroke="#d27893" stroke-width="0.45" opacity="0.7"/>
<line x1="182.60" y1="471.66" x2="182.60" y2="486.00" stroke="#d27893" stroke-width="0.45" opacity="0.7"/>
<line x1="183.70" y1="472.50" x2="183.70" y2="486.00" stroke="#d27893" stroke-width="0.45" opacity="0.7"/>
<line x1="184.60" y1="472.50" x2="184.60" y2="486.00" stroke="#d27893" stroke-width="0.45" opacity="0.7"/>
<line x1="185.60" y1="462.38" x2="185.60" y2="486.00" stroke="#d27893" stroke-width="0.45" opacity="0.7"/>
<line x1="186.90" y1="474.19" x2="186.90" y2="486.00" stroke="#d27893" stroke-width="0.45" opacity="0.7"/>
<rect x="154.70" y="482.52" width="0.75" height="3.48" fill="#ad9466" opacity="0.85"/>
<rect x="154.70" y="485.27" width="0.6" height="0.73" fill="#5a3a4c" opacity="0.7"/>
<rect x="155.70" y="481.31" width="0.75" height="4.69" fill="#ad9466" opacity="0.85"/>
<rect x="155.70" y="485.12" width="0.6" height="0.88" fill="#5a3a4c" opacity="0.7"/>
<rect x="156.70" y="483.81" width="0.75" height="2.19" fill="#ad9466" opacity="0.85"/>
<rect x="156.70" y="484.39" width="0.6" height="1.61" fill="#5a3a4c" opacity="0.7"/>
<rect x="157.70" y="477.34" width="0.75" height="8.66" fill="#ad9466" opacity="0.85"/>
<rect x="157.70" y="483.22" width="0.6" height="2.78" fill="#5a3a4c" opacity="0.7"/>
<rect x="158.70" y="478.50" width="0.75" height="7.50" fill="#ad9466" opacity="0.85"/>
<rect x="158.70" y="484.92" width="0.6" height="1.08" fill="#5a3a4c" opacity="0.7"/>
<rect x="159.70" y="480.24" width="0.75" height="5.76" fill="#ad9466" opacity="0.85"/>
<rect x="159.70" y="484.76" width="0.6" height="1.24" fill="#5a3a4c" opacity="0.7"/>
<rect x="160.70" y="483.00" width="0.75" height="3.00" fill="#ad9466" opacity="0.85"/>
<rect x="160.70" y="485.26" width="0.6" height="0.74" fill="#5a3a4c" opacity="0.7"/>
<rect x="161.70" y="482.69" width="0.75" height="3.31" fill="#ad9466" opacity="0.85"/>
<rect x="161.70" y="482.84" width="0.6" height="3.16" fill="#5a3a4c" opacity="0.7"/>
<rect x="162.70" y="478.02" width="0.75" height="7.98" fill="#ad9466" opacity="0.85"/>
<rect x="162.70" y="483.20" width="0.6" height="2.80" fill="#5a3a4c" opacity="0.7"/>
<rect x="163.70" y="478.24" width="0.75" height="7.76" fill="#ad9466" opacity="0.85"/>
<rect x="163.70" y="485.01" width="0.6" height="0.99" fill="#5a3a4c" opacity="0.7"/>
<rect x="164.70" y="481.96" width="0.75" height="4.04" fill="#ad9466" opacity="0.85"/>
<rect x="164.70" y="483.73" width="0.6" height="2.27" fill="#5a3a4c" opacity="0.7"/>
<rect x="165.70" y="478.76" width="0.75" height="7.24" fill="#ad9466" opacity="0.85"/>
<rect x="165.70" y="483.06" width="0.6" height="2.94" fill="#5a3a4c" opacity="0.7"/>
<rect x="166.70" y="477.63" width="0.75" height="8.37" fill="#ad9466" opacity="0.85"/>
<rect x="166.70" y="485.32" width="0.6" height="0.68" fill="#5a3a4c" opacity="0.7"/>
<rect x="167.70" y="479.71" width="0.75" height="6.29" fill="#ad9466" opacity="0.85"/>
<rect x="167.70" y="483.60" width="0.6" height="2.40" fill="#5a3a4c" opacity="0.7"/>
<rect x="168.70" y="480.47" width="0.75" height="5.53" fill="#ad9466" opacity="0.85"/>
<rect x="168.70" y="485.05" width="0.6" height="0.95" fill="#5a3a4c" opacity="0.7"/>
<rect x="169.70" y="480.72" width="0.75" height="5.28" fill="#ad9466" opacity="0.85"/>
<rect x="169.70" y="485.31" width="0.6" height="0.69" fill="#5a3a4c" opacity="0.7"/>
<rect x="170.70" y="477.22" width="0.75" height="8.78" fill="#ad9466" opacity="0.85"/>
<rect x="170.70" y="483.02" width="0.6" height="2.98" fill="#5a3a4c" opacity="0.7"/>
<rect x="171.70" y="480.16" width="0.75" height="5.84" fill="#ad9466" opacity="0.85"/>
<rect x="171.70" y="484.69" width="0.6" height="1.31" fill="#5a3a4c" opacity="0.7"/>
<rect x="172.70" y="477.41" width="0.75" height="8.59" fill="#ad9466" opacity="0.85"/>
<rect x="172.70" y="483.89" width="0.6" height="2.11" fill="#5a3a4c" opacity="0.7"/>
<rect x="173.70" y="477.61" width="0.75" height="8.39" fill="#ad9466" opacity="0.85"/>
<rect x="173.70" y="483.07" width="0.6" height="2.93" fill="#5a3a4c" opacity="0.7"/>
<rect x="174.70" y="480.45" width="0.75" height="5.55" fill="#ad9466" opacity="0.85"/>
<rect x="174.70" y="484.36" width="0.6" height="1.64" fill="#5a3a4c" opacity="0.7"/>
<rect x="175.70" y="479.77" width="0.75" height="6.23" fill="#ad9466" opacity="0.85"/>
<rect x="175.70" y="484.31" width="0.6" height="1.69" fill="#5a3a4c" opacity="0.7"/>
<rect x="176.70" y="483.09" width="0.75" height="2.91" fill="#ad9466" opacity="0.85"/>
<rect x="176.70" y="484.68" width="0.6" height="1.32" fill="#5a3a4c" opacity="0.7"/>
<rect x="177.70" y="478.14" width="0.75" height="7.86" fill="#ad9466" opacity="0.85"/>
<rect x="177.70" y="485.45" width="0.6" height="0.55" fill="#5a3a4c" opacity="0.7"/>
<rect x="178.70" y="483.96" width="0.75" height="2.04" fill="#ad9466" opacity="0.85"/>
<rect x="178.70" y="483.73" width="0.6" height="2.27" fill="#5a3a4c" opacity="0.7"/>
<rect x="179.70" y="482.18" width="0.75" height="3.82" fill="#ad9466" opacity="0.85"/>
<rect x="179.70" y="484.00" width="0.6" height="2.00" fill="#5a3a4c" opacity="0.7"/>
<rect x="180.70" y="480.74" width="0.75" height="5.26" fill="#ad9466" opacity="0.85"/>
<rect x="180.70" y="484.57" width="0.6" height="1.43" fill="#5a3a4c" opacity="0.7"/>
<rect x="181.70" y="476.74" width="0.75" height="9.26" fill="#ad9466" opacity="0.85"/>
<rect x="181.70" y="485.00" width="0.6" height="1.00" fill="#5a3a4c" opacity="0.7"/>
<rect x="182.70" y="481.18" width="0.75" height="4.82" fill="#ad9466" opacity="0.85"/>
<rect x="182.70" y="484.98" width="0.6" height="1.02" fill="#5a3a4c" opacity="0.7"/>
<rect x="183.70" y="479.51" width="0.75" height="6.49" fill="#ad9466" opacity="0.85"/>
<rect x="183.70" y="484.76" width="0.6" height="1.24" fill="#5a3a4c" opacity="0.7"/>
<rect x="184.70" y="481.61" width="0.75" height="4.39" fill="#ad9466" opacity="0.85"/>
<rect x="184.70" y="483.37" width="0.6" height="2.63" fill="#5a3a4c" opacity="0.7"/>
<rect x="185.70" y="481.88" width="0.75" height="4.12" fill="#ad9466" opacity="0.85"/>
<rect x="185.70" y="483.93" width="0.6" height="2.07" fill="#5a3a4c" opacity="0.7"/>
<rect x="186.70" y="477.45" width="0.75" height="8.55" fill="#ad9466" opacity="0.85"/>
<rect x="186.70" y="485.28" width="0.6" height="0.72" fill="#5a3a4c" opacity="0.7"/>
<rect x="159.00" y="459.43" width="1.0" height="26.57" fill="#ad9466" opacity="0.9"/>
<rect x="167.50" y="468.29" width="1.0" height="17.71" fill="#ad9466" opacity="0.9"/>
<rect x="182.00" y="476.72" width="1.0" height="9.28" fill="#ad9466" opacity="0.9"/>
<rect x="186.50" y="475.46" width="1.0" height="10.54" fill="#ad9466" opacity="0.9"/>
<rect x="188.00" y="484.59" width="0.70" height="1.41" fill="#8aa8d8" />
<rect x="188.90" y="484.43" width="0.70" height="1.57" fill="#8cc47a" />
<rect x="189.80" y="485.47" width="0.70" height="0.53" fill="#8cc47a" />
<rect x="190.70" y="484.20" width="0.70" height="1.80" fill="#8cc47a" />
<rect x="191.60" y="484.40" width="0.70" height="1.60" fill="#d88aa0" />
<rect x="192.50" y="484.77" width="0.70" height="1.23" fill="#8aa8d8" />
<rect x="193.40" y="485.28" width="0.70" height="0.72" fill="#8cc47a" />
<rect x="194.30" y="483.93" width="0.70" height="2.07" fill="#d88aa0" />
<rect x="195.20" y="483.98" width="0.70" height="2.02" fill="#8cc47a" />
<rect x="196.10" y="484.15" width="0.70" height="1.85" fill="#d88aa0" />
<rect x="197.00" y="484.65" width="0.70" height="1.35" fill="#8cc47a" />
<rect x="197.90" y="484.96" width="0.70" height="1.04" fill="#8aa8d8" />
<rect x="198.80" y="484.16" width="0.70" height="1.84" fill="#8cc47a" />
<rect x="199.70" y="485.50" width="0.70" height="0.50" fill="#d88aa0" />
<rect x="200.60" y="484.53" width="0.70" height="1.47" fill="#d88aa0" />
<rect x="201.50" y="485.38" width="0.70" height="0.62" fill="#d88aa0" />
<rect x="202.40" y="484.01" width="0.70" height="1.99" fill="#8cc47a" />
<rect x="203.30" y="485.00" width="0.70" height="1.00" fill="#8cc47a" />
<rect x="204.20" y="484.07" width="0.70" height="1.93" fill="#8cc47a" />
<rect x="205.10" y="484.27" width="0.70" height="1.73" fill="#d88aa0" />
<rect x="206.00" y="484.58" width="0.70" height="1.42" fill="#8cc47a" />
<rect x="206.90" y="484.13" width="0.70" height="1.87" fill="#d88aa0" />
<rect x="207.80" y="484.85" width="0.70" height="1.15" fill="#d88aa0" />
<rect x="208.70" y="485.23" width="0.70" height="0.77" fill="#8aa8d8" />
<rect x="209.60" y="484.55" width="0.70" height="1.45" fill="#d88aa0" />
<rect x="210.50" y="485.00" width="0.70" height="1.00" fill="#8aa8d8" />
<rect x="211.40" y="484.66" width="0.70" height="1.34" fill="#8cc47a" />
<rect x="212.30" y="484.42" width="0.70" height="1.58" fill="#8cc47a" />
<rect x="213.20" y="485.28" width="0.70" height="0.72" fill="#d88aa0" />
<rect x="209.20" y="480.52" width="2.50" height="5.48" fill="#9ab4de" />
<line x1="151.30" y1="398.60" x2="151.30" y2="490.60" stroke="#000" stroke-width="1.3" />
<line x1="150.70" y1="490.00" x2="216.90" y2="490.00" stroke="#000" stroke-width="1.3" />
<line x1="147.60" y1="401.20" x2="151.30" y2="401.20" stroke="#000" stroke-width="1.0" />
<text x="144.50" y="403.30" font-size="7.0" text-anchor="end" font-weight="normal" fill="#231f20" stroke="#231f20" stroke-width="0.1" textLength="14.0" lengthAdjust="spacingAndGlyphs" >0.20</text>
<line x1="147.60" y1="422.30" x2="151.30" y2="422.30" stroke="#000" stroke-width="1.0" />
<text x="144.50" y="424.40" font-size="7.0" text-anchor="end" font-weight="normal" fill="#231f20" stroke="#231f20" stroke-width="0.1" textLength="14.0" lengthAdjust="spacingAndGlyphs" >0.15</text>
<line x1="147.60" y1="443.50" x2="151.30" y2="443.50" stroke="#000" stroke-width="1.0" />
<text x="144.50" y="445.60" font-size="7.0" text-anchor="end" font-weight="normal" fill="#231f20" stroke="#231f20" stroke-width="0.1" textLength="14.0" lengthAdjust="spacingAndGlyphs" >0.10</text>
<line x1="147.60" y1="464.70" x2="151.30" y2="464.70" stroke="#000" stroke-width="1.0" />
<text x="144.50" y="466.80" font-size="7.0" text-anchor="end" font-weight="normal" fill="#231f20" stroke="#231f20" stroke-width="0.1" textLength="14.0" lengthAdjust="spacingAndGlyphs" >0.05</text>
<line x1="147.60" y1="486.00" x2="151.30" y2="486.00" stroke="#000" stroke-width="1.0" />
<text x="144.50" y="488.10" font-size="7.0" text-anchor="end" font-weight="normal" fill="#231f20" stroke="#231f20" stroke-width="0.1" textLength="14.0" lengthAdjust="spacingAndGlyphs" >0.00</text>
<line x1="169.70" y1="490.00" x2="169.70" y2="493.00" stroke="#000" stroke-width="1.0" />
<text x="169.70" y="502.80" font-size="6.9" text-anchor="middle" font-weight="normal" fill="#231f20" stroke="#231f20" stroke-width="0.1" >−50</text>
<line x1="189.20" y1="490.00" x2="189.20" y2="493.00" stroke="#000" stroke-width="1.0" />
<text x="189.20" y="502.80" font-size="6.9" text-anchor="middle" font-weight="normal" fill="#231f20" stroke="#231f20" stroke-width="0.1" >0</text>
<line x1="209.40" y1="490.00" x2="209.40" y2="493.00" stroke="#000" stroke-width="1.0" />
<text x="209.40" y="502.80" font-size="6.9" text-anchor="middle" font-weight="normal" fill="#231f20" stroke="#231f20" stroke-width="0.1" >50</text>
<text x="189.20" y="510.20" font-size="7.0" text-anchor="middle" font-weight="normal" fill="#231f20" stroke="#231f20" stroke-width="0.1" >stop</text>
<text x="191.90" y="408.60" font-size="7.4" text-anchor="start" font-weight="normal" fill="#231f20" stroke="#231f20" stroke-width="0.1" textLength="20.1" lengthAdjust="spacingAndGlyphs" >Sepsis</text>
<text transform="translate(29.40,382.30) rotate(-90)" x="0" y="0" font-size="9.2" text-anchor="middle" font-weight="normal" fill="#231f20" stroke="#231f20" stroke-width="0.18" textLength="93.3" lengthAdjust="spacingAndGlyphs">Average reads per transcript</text>
<text x="71.80" y="525.60" font-size="9.4" text-anchor="start" font-weight="normal" fill="#231f20" stroke="#231f20" stroke-width="0.18" textLength="130.2" lengthAdjust="spacingAndGlyphs" >Start of read relative to start/stop codon</text>
<text x="126.90" y="539.00" font-size="7.4" text-anchor="start" font-weight="normal" fill="#231f20" stroke="#231f20" stroke-width="0.1" textLength="20.2" lengthAdjust="spacingAndGlyphs" >Frame</text>
<rect x="108.30" y="545.80" width="5.20" height="4.80" fill="#b0102a" />
<text x="116.60" y="550.80" font-size="7.3" text-anchor="start" font-weight="normal" fill="#231f20" stroke="#231f20" stroke-width="0.1" >0</text>
<rect x="131.20" y="545.80" width="4.90" height="4.80" fill="#5aa837" />
<text x="139.30" y="550.80" font-size="7.3" text-anchor="start" font-weight="normal" fill="#231f20" stroke="#231f20" stroke-width="0.1" >1</text>
<rect x="152.50" y="545.80" width="5.10" height="4.80" fill="#1f3f84" />
<text x="161.50" y="550.80" font-size="7.3" text-anchor="start" font-weight="normal" fill="#231f20" stroke="#231f20" stroke-width="0.1" >2</text>
<text x="234.40" y="263.90" font-size="14.2" text-anchor="start" font-weight="bold" fill="#000" >D</text>
<text x="351.60" y="267.00" font-size="8.9" text-anchor="start" font-weight="normal" fill="#231f20" stroke="#231f20" stroke-width="0.18" textLength="29.7" lengthAdjust="spacingAndGlyphs" >Human</text>
<polyline points="289.50,358.80 290.51,358.91 291.53,357.17 292.54,359.16 293.56,358.35 294.57,355.87 295.59,359.18 296.60,358.67 297.62,357.85 298.63,358.46 299.65,358.95 300.66,357.98 301.68,359.10 302.69,358.88 303.71,356.68 304.72,358.81 305.74,359.06 306.75,356.04 307.77,358.64 308.78,359.15 309.80,357.75 310.81,358.62 311.83,358.96 312.84,356.00 313.86,358.23 314.87,358.27 315.89,357.92 316.90,359.12 317.92,358.26 318.93,356.20 319.95,359.00 320.96,359.14 321.98,356.22 322.99,358.55 324.01,358.71 325.02,356.53 326.04,358.92 327.05,358.83 328.07,274.15 329.08,352.85 330.10,358.83 331.11,323.50 332.13,354.57 333.14,358.86 334.16,324.55 335.17,354.81 336.19,358.80 337.20,327.99 338.22,352.66 339.23,358.39 340.25,306.00 341.26,354.87 342.28,359.31 343.29,330.96 344.31,354.85 345.32,358.28 346.34,331.69 347.35,353.39 348.37,358.28 349.38,328.19 350.40,352.98 351.41,359.53 352.43,334.80 353.44,353.98 354.46,359.32 355.47,337.86 356.49,355.99 357.50,358.77 358.52,338.81 359.53,355.77 360.55,358.98 361.56,343.45 362.58,343.45 363.59,359.51 364.61,341.85 365.62,357.40 366.64,359.40 367.65,342.82 368.67,356.51 369.68,359.21 370.70,323.50 371.71,323.50 372.73,359.20 373.74,346.16 374.76,357.37 375.77,358.91 376.79,348.02 377.80,356.50 378.82,358.53 379.83,342.61 380.85,315.80 381.86,358.74 382.88,339.68 383.89,342.40 384.91,358.41 385.92,341.76 386.94,342.40 387.95,358.90 388.97,341.72 389.98,355.69 391.00,358.50 392.01,342.37 393.03,355.25 394.04,359.27 395.06,345.60 396.07,358.24 397.09,359.35 398.10,346.57 399.12,357.61 400.13,359.26 401.15,347.71 402.16,344.15 403.18,358.64 404.19,349.13 405.21,358.52 406.22,358.97 407.24,349.47 408.25,358.03 409.27,358.72 410.28,348.30 411.30,357.20 412.31,358.66 413.33,348.93 414.34,357.06 415.36,358.83 416.37,349.07 417.39,357.83 418.40,359.24 419.42,347.42 420.43,337.15 421.45,358.43 422.46,349.16 423.48,358.46 424.49,359.34 425.51,346.85 426.52,358.36 427.54,359.39 428.55,348.14 429.57,357.56 430.58,323.85 431.60,349.23 432.61,358.36 433.63,339.25 434.64,347.66 435.66,333.65 436.67,333.65 437.69,348.36 438.70,358.02 439.72,358.47 440.73,348.02 441.75,357.65 442.76,344.85" fill="none" stroke="#8fc3ea" stroke-width="0.85" stroke-linejoin="round"/>
<polyline points="289.50,360.08 290.51,359.53 291.53,358.77 292.54,360.02 293.56,359.42 294.57,358.55 295.59,359.72 296.60,360.00 297.62,359.54 298.63,359.64 299.65,360.18 300.66,358.86 301.68,360.01 302.69,360.21 303.71,358.11 304.72,359.33 305.74,359.60 306.75,359.55 307.77,359.73 308.78,360.13 309.80,358.55 310.81,360.09 311.83,359.39 312.84,358.83 313.86,359.77 314.87,359.67 315.89,359.07 316.90,360.05 317.92,360.21 318.93,358.78 319.95,359.43 320.96,360.03 321.98,357.98 322.99,359.46 324.01,359.45 325.02,358.56 326.04,360.12 327.05,359.75 328.07,311.25 329.08,355.58 330.10,359.39 331.11,343.27 332.13,356.17 333.14,359.77 334.16,340.44 335.17,356.77 336.19,358.85 337.20,344.66 338.22,356.49 339.23,359.66 340.25,317.20 341.26,357.56 342.28,359.76 343.29,348.71 344.31,357.37 345.32,358.95 346.34,343.61 347.35,356.94 348.37,359.07 349.38,344.36 350.40,358.02 351.41,359.67 352.43,348.70 353.44,357.22 354.46,359.83 355.47,351.79 356.49,358.82 357.50,359.43 358.52,348.04 359.53,358.11 360.55,358.56 361.56,350.02 362.58,359.10 363.59,358.79 364.61,348.65 365.62,358.24 366.64,359.47 367.65,350.61 368.67,358.74 369.68,358.56 370.70,333.65 371.71,333.65 372.73,359.54 373.74,351.56 374.76,358.78 375.77,359.77 376.79,353.72 377.80,358.33 378.82,359.72 379.83,351.95 380.85,330.15 381.86,359.64 382.88,352.02 383.89,359.17 384.91,358.68 385.92,350.41 386.94,358.99 387.95,358.83 388.97,352.78 389.98,358.48 391.00,359.84 392.01,352.54 393.03,358.55 394.04,359.13 395.06,350.72 396.07,358.48 397.09,358.55 398.10,352.29 399.12,358.47 400.13,358.76 401.15,350.25 402.16,358.02 403.18,359.79 404.19,353.02 405.21,358.45 406.22,359.87 407.24,351.38 408.25,358.71 409.27,359.58 410.28,353.65 411.30,358.48 412.31,358.89 413.33,352.39 414.34,358.68 415.36,358.55 416.37,353.45 417.39,358.27 418.40,358.81 419.42,351.01 420.43,357.94 421.45,358.94 422.46,352.23 423.48,358.50 424.49,358.55 425.51,350.69 426.52,358.98 427.54,359.70 428.55,352.24 429.57,358.10 430.58,345.55 431.60,352.69 432.61,358.83 433.63,359.00 434.64,351.50 435.66,358.48 436.67,358.72 437.69,352.91 438.70,358.66 439.72,359.37 440.73,350.23 441.75,358.45 442.76,348.70" fill="none" stroke="#a8305a" stroke-width="0.8" stroke-linejoin="round"/>
<polyline points="289.50,338.75 290.51,340.03 291.53,341.99 292.54,341.52 293.56,340.08 294.57,339.90 295.59,340.73 296.60,336.84 297.62,337.40 298.63,335.75 299.65,337.88 300.66,338.34 301.68,338.62 302.69,340.96 303.71,344.13 304.72,341.33 305.74,339.90 306.75,337.77 307.77,339.35 308.78,340.89 309.80,340.91 310.81,339.35 311.83,341.38 312.84,340.69 313.86,341.18 314.87,341.61 315.89,341.13 316.90,341.71 317.92,342.19 318.93,339.82 319.95,339.09 320.96,337.53 321.98,337.55 322.99,335.26 324.01,337.64 325.02,338.96 326.04,337.99 327.05,335.66 328.07,331.52 329.08,332.58 330.10,330.78 331.11,331.94 332.13,329.69 333.14,329.45 334.16,327.33 335.17,327.12 336.19,326.91 337.20,326.55 338.22,324.61 339.23,321.33 340.25,317.33 341.26,321.09 342.28,328.57 343.29,323.56 344.31,320.69 345.32,320.34 346.34,313.75 347.35,307.54 348.37,307.79 349.38,308.08 350.40,312.36 351.41,317.94 352.43,317.03 353.44,321.60 354.46,323.24 355.47,320.54 356.49,323.25 357.50,321.96 358.52,321.02 359.53,322.55 360.55,322.26 361.56,319.52 362.58,319.51 363.59,318.38 364.61,318.36 365.62,318.21 366.64,318.30 367.65,318.73 368.67,319.50 369.68,322.91 370.70,323.70 371.71,324.32 372.73,320.84 373.74,320.33 374.76,319.56 375.77,318.49 376.79,319.75 377.80,320.22 378.82,319.07 379.83,318.54 380.85,317.27 381.86,316.02 382.88,316.15 383.89,316.48 384.91,320.75 385.92,316.46 386.94,315.64 387.95,311.27 388.97,310.93 389.98,312.13 391.00,312.88 392.01,315.47 393.03,316.92 394.04,316.98 395.06,320.26 396.07,319.77 397.09,318.82 398.10,318.72 399.12,319.41 400.13,323.45 401.15,323.29 402.16,323.13 403.18,318.89 404.19,315.59 405.21,316.26 406.22,315.96 407.24,314.19 408.25,316.95 409.27,315.04 410.28,313.07 411.30,313.89 412.31,311.49 413.33,315.17 414.34,314.56 415.36,317.30 416.37,318.93 417.39,319.74 418.40,315.69 419.42,307.93 420.43,305.58 421.45,303.44 422.46,303.73 423.48,302.80 424.49,302.78 425.51,303.38 426.52,304.84 427.54,299.26 428.55,298.58 429.57,293.92 430.58,294.86 431.60,300.72 432.61,306.61 433.63,307.33 434.64,306.82 435.66,307.59 436.67,308.45 437.69,308.31 438.70,309.97 439.72,309.75 440.73,312.05 441.75,313.79 442.76,314.32" fill="none" stroke="#86c06a" stroke-width="0.8" stroke-linejoin="round"/>
<polyline points="289.50,336.29 290.51,337.09 291.53,332.08 292.54,332.94 293.56,335.39 294.57,334.03 295.59,332.86 296.60,333.47 297.62,326.69 298.63,323.87 299.65,327.81 300.66,329.60 301.68,334.14 302.69,332.77 303.71,333.34 304.72,331.41 305.74,333.96 306.75,333.03 307.77,335.50 308.78,333.70 309.80,334.84 310.81,337.40 311.83,335.34 312.84,334.99 313.86,332.10 314.87,331.24 315.89,332.85 316.90,328.85 317.92,328.22 318.93,329.68 319.95,329.16 320.96,329.98 321.98,329.04 322.99,329.84 324.01,328.80 325.02,326.36 326.04,327.27 327.05,325.41 328.07,321.84 329.08,323.34 330.10,324.25 331.11,321.32 332.13,324.21 333.14,322.12 334.16,321.38 335.17,320.47 336.19,318.40 337.20,315.81 338.22,315.55 339.23,305.34 340.25,289.64 341.26,294.01 342.28,309.63 343.29,309.80 344.31,307.95 345.32,303.36 346.34,296.48 347.35,296.96 348.37,299.04 349.38,299.54 350.40,302.83 351.41,306.44 352.43,306.33 353.44,306.87 354.46,308.65 355.47,307.51 356.49,307.66 357.50,306.22 358.52,308.97 359.53,307.91 360.55,307.07 361.56,309.00 362.58,307.76 363.59,310.94 364.61,307.28 365.62,307.81 366.64,304.70 367.65,304.72 368.67,304.33 369.68,305.68 370.70,305.89 371.71,303.80 372.73,303.90 373.74,302.59 374.76,303.26 375.77,302.16 376.79,299.15 377.80,301.76 378.82,300.20 379.83,299.31 380.85,301.29 381.86,302.49 382.88,300.97 383.89,299.63 384.91,299.66 385.92,296.85 386.94,295.52 387.95,297.51 388.97,300.55 389.98,302.87 391.00,300.25 392.01,300.34 393.03,303.58 394.04,304.15 395.06,304.60 396.07,305.02 397.09,302.92 398.10,303.19 399.12,305.15 400.13,308.04 401.15,307.06 402.16,306.07 403.18,303.31 404.19,299.73 405.21,301.24 406.22,301.03 407.24,301.95 408.25,301.79 409.27,300.50 410.28,300.83 411.30,295.70 412.31,291.90 413.33,295.12 414.34,298.65 415.36,301.42 416.37,302.06 417.39,302.20 418.40,298.05 419.42,298.31 420.43,294.63 421.45,292.26 422.46,293.67 423.48,297.17 424.49,293.38 425.51,291.61 426.52,290.83 427.54,287.39 428.55,285.80 429.57,281.49 430.58,274.64 431.60,284.65 432.61,293.19 433.63,291.43 434.64,288.78 435.66,290.34 436.67,290.44 437.69,288.70 438.70,286.45 439.72,284.71 440.73,288.83 441.75,295.98 442.76,297.59" fill="none" stroke="#8c63a6" stroke-width="0.8" stroke-linejoin="round"/>
<line x1="281.70" y1="271.40" x2="281.70" y2="366.20" stroke="#000" stroke-width="1.3" />
<line x1="281.10" y1="365.60" x2="450.20" y2="365.60" stroke="#000" stroke-width="1.3" />
<line x1="278.50" y1="273.80" x2="281.70" y2="273.80" stroke="#000" stroke-width="1.0" />
<text x="275.10" y="276.20" font-size="7.0" text-anchor="end" font-weight="normal" fill="#231f20" stroke="#231f20" stroke-width="0.1" textLength="13.9" lengthAdjust="spacingAndGlyphs" >0.25</text>
<line x1="278.50" y1="291.30" x2="281.70" y2="291.30" stroke="#000" stroke-width="1.0" />
<text x="275.10" y="293.70" font-size="7.0" text-anchor="end" font-weight="normal" fill="#231f20" stroke="#231f20" stroke-width="0.1" textLength="13.9" lengthAdjust="spacingAndGlyphs" >0.20</text>
<line x1="278.50" y1="308.80" x2="281.70" y2="308.80" stroke="#000" stroke-width="1.0" />
<text x="275.10" y="311.20" font-size="7.0" text-anchor="end" font-weight="normal" fill="#231f20" stroke="#231f20" stroke-width="0.1" textLength="13.9" lengthAdjust="spacingAndGlyphs" >0.15</text>
<line x1="278.50" y1="326.30" x2="281.70" y2="326.30" stroke="#000" stroke-width="1.0" />
<text x="275.10" y="328.70" font-size="7.0" text-anchor="end" font-weight="normal" fill="#231f20" stroke="#231f20" stroke-width="0.1" textLength="13.9" lengthAdjust="spacingAndGlyphs" >0.10</text>
<line x1="278.50" y1="343.80" x2="281.70" y2="343.80" stroke="#000" stroke-width="1.0" />
<text x="275.10" y="346.20" font-size="7.0" text-anchor="end" font-weight="normal" fill="#231f20" stroke="#231f20" stroke-width="0.1" textLength="13.9" lengthAdjust="spacingAndGlyphs" >0.05</text>
<line x1="278.50" y1="361.30" x2="281.70" y2="361.30" stroke="#000" stroke-width="1.0" />
<text x="275.10" y="363.70" font-size="7.0" text-anchor="end" font-weight="normal" fill="#231f20" stroke="#231f20" stroke-width="0.1" textLength="13.9" lengthAdjust="spacingAndGlyphs" >0.00</text>
<line x1="287.90" y1="365.60" x2="287.90" y2="368.60" stroke="#000" stroke-width="1.0" />
<text x="287.90" y="378.30" font-size="7.0" text-anchor="middle" font-weight="normal" fill="#231f20" stroke="#231f20" stroke-width="0.1" >−40</text>
<line x1="328.30" y1="365.60" x2="328.30" y2="368.60" stroke="#000" stroke-width="1.0" />
<text x="328.30" y="378.30" font-size="7.0" text-anchor="middle" font-weight="normal" fill="#231f20" stroke="#231f20" stroke-width="0.1" >start</text>
<line x1="370.00" y1="365.60" x2="370.00" y2="368.60" stroke="#000" stroke-width="1.0" />
<text x="370.00" y="378.30" font-size="7.0" text-anchor="middle" font-weight="normal" fill="#231f20" stroke="#231f20" stroke-width="0.1" >40</text>
<line x1="410.40" y1="365.60" x2="410.40" y2="368.60" stroke="#000" stroke-width="1.0" />
<text x="410.40" y="378.30" font-size="7.0" text-anchor="middle" font-weight="normal" fill="#231f20" stroke="#231f20" stroke-width="0.1" >80</text>
<polyline points="289.50,459.68 290.51,478.90 291.53,443.66 292.54,464.60 293.56,479.17 294.57,456.95 295.59,461.10 296.60,480.54 297.62,483.51 298.63,466.21 299.65,479.93 300.66,400.15 301.68,466.13 302.69,479.78 303.71,419.39 304.72,462.99 305.74,482.68 306.75,482.61 307.77,470.03 308.78,480.21 309.80,482.08 310.81,466.76 311.83,480.85 312.84,482.08 313.86,471.31 314.87,480.13 315.89,483.33 316.90,472.76 317.92,480.96 318.93,482.49 319.95,470.87 320.96,481.12 321.98,483.27 322.99,448.54 324.01,478.97 325.02,446.41 326.04,456.32 327.05,478.74 328.07,482.94 329.08,454.35 330.10,476.35 331.11,450.08 332.13,459.46 333.14,477.61 334.16,482.30 335.17,447.79 336.19,478.97 337.20,483.14 338.22,446.41 339.23,476.70 340.25,483.29 341.26,451.45 342.28,478.24 343.29,482.71 344.31,457.87 345.32,478.08 346.34,482.84 347.35,453.17 348.37,478.62 349.38,482.95 350.40,450.08 351.41,478.44 352.43,483.00 353.44,454.38 354.46,477.67 355.47,481.91 356.49,444.58 357.50,478.02 358.52,482.84 359.53,444.58 360.55,477.29 361.56,483.29 362.58,462.36 363.59,479.27 364.61,481.69 365.62,459.24 366.64,479.80 367.65,482.54 368.67,459.24 369.68,480.43 370.70,482.40 371.71,460.03 372.73,479.75 373.74,481.83 374.76,464.67 375.77,480.94 376.79,476.64 377.80,467.33 378.82,481.53 379.83,484.15 380.85,483.18 381.86,483.31 382.88,484.23 383.89,483.10 384.91,483.92 385.92,483.43 386.94,483.65 387.95,483.25 388.97,483.75 389.98,484.39 391.00,483.66 392.01,483.26 393.03,483.86 394.04,483.29 395.06,483.81 396.07,483.93 397.09,483.93 398.10,484.11 399.12,483.74 400.13,483.11 401.15,483.61 402.16,483.37 403.18,484.18 404.19,483.92 405.21,483.63 406.22,483.90 407.24,484.41 408.25,483.23 409.27,484.25 410.28,483.52 411.30,483.08 412.31,484.03 413.33,484.06 414.34,483.97 415.36,483.68 416.37,483.08 417.39,484.23 418.40,484.09 419.42,483.19 420.43,484.05 421.45,483.51 422.46,483.43 423.48,484.43 424.49,484.39 425.51,483.38 426.52,483.16 427.54,483.47 428.55,483.78 429.57,484.29 430.58,483.70 431.60,484.28 432.61,478.93 433.63,484.38 434.64,483.72 435.66,483.78 436.67,484.04 437.69,484.12 438.70,484.34 439.72,484.39 440.73,484.25 441.75,483.08 442.76,484.38" fill="none" stroke="#8fc3ea" stroke-width="0.85" stroke-linejoin="round"/>
<polyline points="289.50,472.28 290.51,483.11 291.53,484.22 292.54,470.75 293.56,481.33 294.57,484.27 295.59,468.71 296.60,480.71 297.62,483.97 298.63,471.20 299.65,482.93 300.66,429.92 301.68,467.41 302.69,480.84 303.71,440.00 304.72,472.85 305.74,483.05 306.75,483.93 307.77,473.25 308.78,481.77 309.80,483.73 310.81,474.63 311.83,482.99 312.84,482.98 313.86,473.71 314.87,482.04 315.89,483.92 316.90,473.04 317.92,482.43 318.93,482.64 319.95,476.01 320.96,482.56 321.98,483.42 322.99,456.92 324.01,479.81 325.02,483.49 326.04,460.60 327.05,480.23 328.07,483.69 329.08,455.08 330.10,480.32 331.11,483.92 332.13,465.18 333.14,480.46 334.16,483.33 335.17,458.45 336.19,479.59 337.20,483.36 338.22,462.96 339.23,478.86 340.25,483.98 341.26,466.06 342.28,481.57 343.29,483.23 344.31,470.04 345.32,480.88 346.34,483.35 347.35,467.04 348.37,479.91 349.38,483.93 350.40,465.34 351.41,480.95 352.43,484.18 353.44,465.41 354.46,482.34 355.47,483.71 356.49,464.96 357.50,480.60 358.52,482.99 359.53,463.26 360.55,481.46 361.56,483.54 362.58,468.56 363.59,482.01 364.61,484.14 365.62,470.07 366.64,480.92 367.65,483.45 368.67,459.24 369.68,481.99 370.70,484.35 371.71,468.85 372.73,481.96 373.74,484.06 374.76,469.03 375.77,481.95 376.79,476.64 377.80,472.07 378.82,482.85 379.83,484.60 380.85,483.76 381.86,484.63 382.88,483.72 383.89,484.42 384.91,484.13 385.92,483.68 386.94,484.52 387.95,484.16 388.97,484.01 389.98,484.09 391.00,484.32 392.01,484.00 393.03,484.45 394.04,484.67 395.06,484.87 396.07,484.05 397.09,484.10 398.10,483.79 399.12,484.67 400.13,483.96 401.15,484.26 402.16,484.16 403.18,483.74 404.19,484.17 405.21,484.29 406.22,484.00 407.24,484.68 408.25,483.68 409.27,484.17 410.28,484.83 411.30,484.22 412.31,483.58 413.33,483.54 414.34,484.30 415.36,484.52 416.37,483.60 417.39,484.49 418.40,484.86 419.42,484.54 420.43,484.24 421.45,483.96 422.46,484.79 423.48,484.42 424.49,483.88 425.51,484.41 426.52,484.64 427.54,483.91 428.55,484.28 429.57,483.93 430.58,484.22 431.60,483.77 432.61,484.18 433.63,480.30 434.64,483.77 435.66,483.89 436.67,484.21 437.69,484.05 438.70,484.37 439.72,484.78 440.73,483.67 441.75,483.77 442.76,483.83" fill="none" stroke="#a8305a" stroke-width="0.8" stroke-linejoin="round"/>
<polyline points="289.50,439.73 290.51,434.05 291.53,429.40 292.54,433.63 293.56,432.60 294.57,426.58 295.59,423.60 296.60,425.89 297.62,424.53 298.63,427.63 299.65,425.46 300.66,430.26 301.68,433.89 302.69,436.76 303.71,439.12 304.72,442.52 305.74,440.40 306.75,438.57 307.77,437.53 308.78,436.49 309.80,431.33 310.81,431.32 311.83,427.95 312.84,433.02 313.86,432.69 314.87,431.70 315.89,425.39 316.90,425.75 317.92,426.76 318.93,433.25 319.95,428.64 320.96,426.54 321.98,422.21 322.99,420.96 324.01,421.12 325.02,422.80 326.04,430.94 327.05,424.38 328.07,422.62 329.08,423.29 330.10,422.85 331.11,425.48 332.13,428.64 333.14,440.34 334.16,439.94 335.17,438.67 336.19,441.21 337.20,437.63 338.22,439.24 339.23,439.53 340.25,438.46 341.26,440.94 342.28,438.35 343.29,438.18 344.31,440.02 345.32,438.90 346.34,446.61 347.35,441.59 348.37,442.66 349.38,437.58 350.40,437.93 351.41,437.50 352.43,439.58 353.44,438.02 354.46,439.99 355.47,441.49 356.49,443.36 357.50,435.75 358.52,430.15 359.53,431.27 360.55,434.14 361.56,432.87 362.58,431.98 363.59,427.07 364.61,426.18 365.62,422.13 366.64,420.14 367.65,419.46 368.67,421.06 369.68,424.81 370.70,430.83 371.71,430.04 372.73,427.66 373.74,423.76 374.76,418.00 375.77,419.50 376.79,416.89 377.80,418.64 378.82,421.25 379.83,420.46 380.85,416.14 381.86,428.07 382.88,435.63 383.89,435.01 384.91,441.06 385.92,440.90 386.94,436.86 387.95,441.25 388.97,435.75 389.98,437.67 391.00,431.36 392.01,434.96 393.03,435.72 394.04,436.02 395.06,437.09 396.07,439.87 397.09,440.15 398.10,438.88 399.12,442.78 400.13,443.48 401.15,441.34 402.16,442.26 403.18,441.66 404.19,442.85 405.21,441.40 406.22,441.45 407.24,436.63 408.25,440.12 409.27,438.56 410.28,440.10 411.30,438.44 412.31,435.20 413.33,438.55 414.34,435.83 415.36,434.01 416.37,433.27 417.39,436.95 418.40,439.73 419.42,438.46 420.43,438.78 421.45,444.28 422.46,446.30 423.48,445.87 424.49,444.43 425.51,450.71 426.52,445.61 427.54,436.13 428.55,438.89 429.57,443.99 430.58,447.06 431.60,442.31 432.61,442.82 433.63,445.59 434.64,448.72 435.66,445.21 436.67,448.01 437.69,444.17 438.70,443.46 439.72,448.84 440.73,449.53 441.75,448.27 442.76,450.49" fill="none" stroke="#86c06a" stroke-width="0.8" stroke-linejoin="round"/>
<polyline points="289.50,414.20 290.51,410.35 291.53,405.87 292.54,404.95 293.56,402.37 294.57,405.74 295.59,406.58 296.60,405.57 297.62,409.68 298.63,405.82 299.65,408.51 300.66,404.77 301.68,401.12 302.69,407.36 303.71,409.25 304.72,416.36 305.74,418.52 306.75,420.73 307.77,424.53 308.78,427.37 309.80,420.27 310.81,419.63 311.83,414.48 312.84,416.47 313.86,413.09 314.87,420.35 315.89,420.72 316.90,419.29 317.92,418.93 318.93,417.90 319.95,410.91 320.96,407.71 321.98,406.89 322.99,408.57 324.01,407.52 325.02,402.78 326.04,407.42 327.05,411.26 328.07,409.62 329.08,405.85 330.10,414.49 331.11,418.12 332.13,419.54 333.14,421.69 334.16,428.21 335.17,429.71 336.19,424.48 337.20,422.99 338.22,425.73 339.23,423.35 340.25,418.11 341.26,421.98 342.28,423.91 343.29,425.31 344.31,422.30 345.32,422.72 346.34,420.75 347.35,426.33 348.37,424.03 349.38,422.77 350.40,423.07 351.41,419.08 352.43,414.86 353.44,420.96 354.46,422.05 355.47,428.58 356.49,423.80 357.50,418.41 358.52,420.30 359.53,416.26 360.55,421.12 361.56,421.22 362.58,422.87 363.59,418.14 364.61,416.15 365.62,413.01 366.64,416.43 367.65,414.09 368.67,410.97 369.68,411.63 370.70,411.88 371.71,407.90 372.73,404.64 373.74,403.09 374.76,400.00 375.77,400.02 376.79,407.27 377.80,407.49 378.82,406.56 379.83,399.66 380.85,403.49 381.86,408.59 382.88,410.86 383.89,411.03 384.91,412.29 385.92,416.67 386.94,418.83 387.95,421.84 388.97,417.60 389.98,414.07 391.00,415.53 392.01,417.14 393.03,421.86 394.04,423.15 395.06,426.59 396.07,427.38 397.09,432.72 398.10,430.00 399.12,431.97 400.13,430.00 401.15,430.51 402.16,435.93 403.18,430.70 404.19,426.54 405.21,425.98 406.22,423.05 407.24,421.91 408.25,427.38 409.27,426.82 410.28,425.81 411.30,423.66 412.31,418.66 413.33,418.97 414.34,416.78 415.36,419.15 416.37,422.66 417.39,427.02 418.40,427.15 419.42,425.14 420.43,430.34 421.45,429.87 422.46,431.61 423.48,428.29 424.49,428.13 425.51,423.43 426.52,419.33 427.54,416.64 428.55,416.63 429.57,421.59 430.58,422.47 431.60,426.77 432.61,429.81 433.63,429.69 434.64,429.43 435.66,429.08 436.67,430.93 437.69,432.41 438.70,435.96 439.72,439.28 440.73,437.19 441.75,438.44 442.76,440.59" fill="none" stroke="#8c63a6" stroke-width="0.8" stroke-linejoin="round"/>
<line x1="281.70" y1="392.00" x2="281.70" y2="490.50" stroke="#000" stroke-width="1.3" />
<line x1="281.10" y1="489.90" x2="450.20" y2="489.90" stroke="#000" stroke-width="1.3" />
<line x1="278.50" y1="394.00" x2="281.70" y2="394.00" stroke="#000" stroke-width="1.0" />
<text x="275.10" y="396.40" font-size="7.0" text-anchor="end" font-weight="normal" fill="#231f20" stroke="#231f20" stroke-width="0.1" textLength="13.9" lengthAdjust="spacingAndGlyphs" >0.20</text>
<line x1="278.50" y1="417.20" x2="281.70" y2="417.20" stroke="#000" stroke-width="1.0" />
<text x="275.10" y="419.60" font-size="7.0" text-anchor="end" font-weight="normal" fill="#231f20" stroke="#231f20" stroke-width="0.1" textLength="13.9" lengthAdjust="spacingAndGlyphs" >0.15</text>
<line x1="278.50" y1="440.00" x2="281.70" y2="440.00" stroke="#000" stroke-width="1.0" />
<text x="275.10" y="442.40" font-size="7.0" text-anchor="end" font-weight="normal" fill="#231f20" stroke="#231f20" stroke-width="0.1" textLength="13.9" lengthAdjust="spacingAndGlyphs" >0.10</text>
<line x1="278.50" y1="462.90" x2="281.70" y2="462.90" stroke="#000" stroke-width="1.0" />
<text x="275.10" y="465.30" font-size="7.0" text-anchor="end" font-weight="normal" fill="#231f20" stroke="#231f20" stroke-width="0.1" textLength="13.9" lengthAdjust="spacingAndGlyphs" >0.05</text>
<line x1="278.50" y1="485.80" x2="281.70" y2="485.80" stroke="#000" stroke-width="1.0" />
<text x="275.10" y="488.20" font-size="7.0" text-anchor="end" font-weight="normal" fill="#231f20" stroke="#231f20" stroke-width="0.1" textLength="13.9" lengthAdjust="spacingAndGlyphs" >0.00</text>
<line x1="328.30" y1="489.90" x2="328.30" y2="492.90" stroke="#000" stroke-width="1.0" />
<text x="328.30" y="502.50" font-size="7.0" text-anchor="middle" font-weight="normal" fill="#231f20" stroke="#231f20" stroke-width="0.1" >−50</text>
<line x1="379.40" y1="489.90" x2="379.40" y2="492.90" stroke="#000" stroke-width="1.0" />
<text x="379.40" y="502.50" font-size="7.0" text-anchor="middle" font-weight="normal" fill="#231f20" stroke="#231f20" stroke-width="0.1" >stop</text>
<line x1="431.40" y1="489.90" x2="431.40" y2="492.90" stroke="#000" stroke-width="1.0" />
<text x="431.40" y="502.50" font-size="7.0" text-anchor="middle" font-weight="normal" fill="#231f20" stroke="#231f20" stroke-width="0.1" >50</text>
<text transform="translate(256.30,380.00) rotate(-90)" x="0" y="0" font-size="9.2" text-anchor="middle" font-weight="normal" fill="#231f20" stroke="#231f20" stroke-width="0.18" textLength="93.6" lengthAdjust="spacingAndGlyphs">Average reads per transcript</text>
<text x="309.50" y="516.00" font-size="9.4" text-anchor="start" font-weight="normal" fill="#231f20" stroke="#231f20" stroke-width="0.18" textLength="113.5" lengthAdjust="spacingAndGlyphs" >Start of read relative to start codon</text>
<line x1="306.90" y1="532.90" x2="318.30" y2="532.90" stroke="#a8305a" stroke-width="1.4" />
<text x="321.70" y="535.50" font-size="7.6" text-anchor="start" font-weight="normal" fill="#231f20" stroke="#231f20" stroke-width="0.1" textLength="39.7" lengthAdjust="spacingAndGlyphs" >Healthy RPR</text>
<line x1="306.90" y1="542.20" x2="318.30" y2="542.20" stroke="#86c06a" stroke-width="1.4" />
<text x="321.70" y="544.80" font-size="7.6" text-anchor="start" font-weight="normal" fill="#231f20" stroke="#231f20" stroke-width="0.1" textLength="42.1" lengthAdjust="spacingAndGlyphs" >Healthy Total</text>
<line x1="374.00" y1="532.90" x2="385.40" y2="532.90" stroke="#8fc3ea" stroke-width="1.4" />
<text x="388.80" y="535.50" font-size="7.6" text-anchor="start" font-weight="normal" fill="#231f20" stroke="#231f20" stroke-width="0.1" textLength="35.3" lengthAdjust="spacingAndGlyphs" >Sepsis RPR</text>
<line x1="374.00" y1="542.20" x2="385.40" y2="542.20" stroke="#8c63a6" stroke-width="1.4" />
<text x="388.80" y="544.80" font-size="7.6" text-anchor="start" font-weight="normal" fill="#231f20" stroke="#231f20" stroke-width="0.1" textLength="37.8" lengthAdjust="spacingAndGlyphs" >Sepsis Total</text>
<text x="8.40" y="580.95" font-size="14.2" text-anchor="start" font-weight="bold" fill="#000" >E</text>
<text x="234.40" y="580.95" font-size="14.2" text-anchor="start" font-weight="bold" fill="#000" >F</text>
<rect x="153.1" y="596.8" width="1.3" height="1.3" fill="#9c9cd2"/><rect x="129.8" y="598.0" width="1.3" height="1.3" fill="#9c9cd2"/><rect x="131.9" y="674.3" width="1.3" height="1.3" fill="#9c9cd2"/><rect x="147.5" y="611.9" width="1.3" height="1.3" fill="#9c9cd2"/><rect x="100.2" y="610.0" width="1.3" height="1.3" fill="#9c9cd2"/><rect x="89.5" y="610.9" width="1.3" height="1.3" fill="#9c9cd2"/><rect x="129.5" y="611.0" width="1.3" height="1.3" fill="#9c9cd2"/><rect x="79.1" y="626.6" width="1.3" height="1.3" fill="#9c9cd2"/><rect x="150.2" y="640.1" width="1.3" height="1.3" fill="#9c9cd2"/><rect x="149.0" y="654.5" width="1.3" height="1.3" fill="#9c9cd2"/><rect x="76.6" y="632.1" width="1.3" height="1.3" fill="#9c9cd2"/><rect x="156.1" y="625.9" width="1.3" height="1.3" fill="#9c9cd2"/><rect x="155.2" y="625.0" width="1.3" height="1.3" fill="#9c9cd2"/><rect x="89.7" y="624.1" width="1.3" height="1.3" fill="#9c9cd2"/><rect x="145.0" y="630.2" width="1.3" height="1.3" fill="#9c9cd2"/><rect x="133.5" y="656.5" width="1.3" height="1.3" fill="#9c9cd2"/><rect x="145.2" y="643.0" width="1.3" height="1.3" fill="#9c9cd2"/><rect x="91.1" y="628.8" width="1.3" height="1.3" fill="#9c9cd2"/><rect x="138.5" y="618.4" width="1.3" height="1.3" fill="#9c9cd2"/><rect x="141.8" y="653.2" width="1.3" height="1.3" fill="#9c9cd2"/><rect x="115.4" y="624.2" width="1.3" height="1.3" fill="#9c9cd2"/><rect x="109.0" y="623.0" width="1.3" height="1.3" fill="#9c9cd2"/><rect x="126.6" y="622.7" width="1.3" height="1.3" fill="#9c9cd2"/><rect x="142.1" y="649.6" width="1.3" height="1.3" fill="#9c9cd2"/><rect x="141.8" y="648.8" width="1.3" height="1.3" fill="#9c9cd2"/><rect x="57.7" y="645.8" width="1.3" height="1.3" fill="#9c9cd2"/><rect x="138.4" y="633.0" width="1.3" height="1.3" fill="#9c9cd2"/><rect x="101.9" y="623.6" width="1.3" height="1.3" fill="#9c9cd2"/><rect x="120.4" y="669.7" width="1.3" height="1.3" fill="#9c9cd2"/><rect x="137.7" y="632.6" width="1.3" height="1.3" fill="#9c9cd2"/><rect x="95.7" y="691.5" width="1.3" height="1.3" fill="#9c9cd2"/><rect x="58.6" y="645.8" width="1.3" height="1.3" fill="#9c9cd2"/><rect x="95.6" y="630.6" width="1.3" height="1.3" fill="#9c9cd2"/><rect x="65.6" y="642.6" width="1.3" height="1.3" fill="#9c9cd2"/><rect x="130.4" y="621.8" width="1.3" height="1.3" fill="#9c9cd2"/><rect x="133.9" y="640.0" width="1.3" height="1.3" fill="#9c9cd2"/><rect x="130.8" y="648.2" width="1.3" height="1.3" fill="#9c9cd2"/><rect x="133.3" y="644.8" width="1.3" height="1.3" fill="#9c9cd2"/><rect x="121.8" y="629.5" width="1.3" height="1.3" fill="#9c9cd2"/><rect x="66.2" y="643.4" width="1.3" height="1.3" fill="#9c9cd2"/><rect x="133.2" y="640.5" width="1.3" height="1.3" fill="#9c9cd2"/><rect x="128.1" y="636.4" width="1.3" height="1.3" fill="#9c9cd2"/><rect x="135.6" y="622.9" width="1.3" height="1.3" fill="#9c9cd2"/><rect x="131.9" y="627.3" width="1.3" height="1.3" fill="#9c9cd2"/><rect x="134.7" y="622.8" width="1.3" height="1.3" fill="#9c9cd2"/><rect x="102.1" y="684.9" width="1.3" height="1.3" fill="#9c9cd2"/><rect x="135.1" y="625.5" width="1.3" height="1.3" fill="#9c9cd2"/><rect x="127.2" y="649.8" width="1.3" height="1.3" fill="#9c9cd2"/><rect x="132.6" y="625.6" width="1.3" height="1.3" fill="#9c9cd2"/><rect x="105.6" y="680.8" width="1.3" height="1.3" fill="#9c9cd2"/><rect x="129.8" y="640.9" width="1.3" height="1.3" fill="#9c9cd2"/><rect x="125.8" y="652.5" width="1.3" height="1.3" fill="#9c9cd2"/><rect x="124.9" y="654.4" width="1.3" height="1.3" fill="#9c9cd2"/><rect x="91.5" y="690.6" width="1.3" height="1.3" fill="#9c9cd2"/><rect x="128.2" y="643.0" width="1.3" height="1.3" fill="#9c9cd2"/><rect x="122.3" y="659.8" width="1.3" height="1.3" fill="#9c9cd2"/><rect x="102.2" y="627.6" width="1.3" height="1.3" fill="#9c9cd2"/><rect x="69.3" y="644.5" width="1.3" height="1.3" fill="#9c9cd2"/><rect x="99.3" y="685.9" width="1.3" height="1.3" fill="#9c9cd2"/><rect x="120.7" y="663.5" width="1.3" height="1.3" fill="#9c9cd2"/><rect x="122.5" y="633.7" width="1.3" height="1.3" fill="#9c9cd2"/><rect x="84.1" y="638.0" width="1.3" height="1.3" fill="#9c9cd2"/><rect x="123.0" y="649.7" width="1.3" height="1.3" fill="#9c9cd2"/><rect x="123.4" y="638.2" width="1.3" height="1.3" fill="#9c9cd2"/><rect x="107.5" y="629.4" width="1.3" height="1.3" fill="#9c9cd2"/><rect x="113.7" y="630.4" width="1.3" height="1.3" fill="#9c9cd2"/><rect x="104.2" y="629.4" width="1.3" height="1.3" fill="#9c9cd2"/><rect x="120.5" y="658.6" width="1.3" height="1.3" fill="#9c9cd2"/><rect x="120.5" y="656.3" width="1.3" height="1.3" fill="#9c9cd2"/><rect x="102.3" y="631.0" width="1.3" height="1.3" fill="#9c9cd2"/><rect x="89.8" y="689.3" width="1.3" height="1.3" fill="#9c9cd2"/><rect x="118.3" y="632.3" width="1.3" height="1.3" fill="#9c9cd2"/><rect x="57.9" y="689.6" width="1.3" height="1.3" fill="#9c9cd2"/><rect x="91.3" y="638.2" width="1.3" height="1.3" fill="#9c9cd2"/><rect x="106.2" y="630.7" width="1.3" height="1.3" fill="#9c9cd2"/><rect x="103.7" y="679.5" width="1.3" height="1.3" fill="#9c9cd2"/><rect x="61.1" y="691.3" width="1.3" height="1.3" fill="#9c9cd2"/><rect x="116.6" y="667.1" width="1.3" height="1.3" fill="#9c9cd2"/><rect x="62.0" y="691.3" width="1.3" height="1.3" fill="#28239a"/><rect x="63.6" y="649.9" width="1.3" height="1.3" fill="#28239a"/><rect x="56.1" y="684.8" width="1.3" height="1.3" fill="#28239a"/><rect x="104.2" y="633.6" width="1.3" height="1.3" fill="#28239a"/><rect x="102.3" y="634.7" width="1.3" height="1.3" fill="#28239a"/><rect x="63.6" y="650.6" width="1.3" height="1.3" fill="#28239a"/><rect x="118.7" y="645.9" width="1.3" height="1.3" fill="#28239a"/><rect x="119.4" y="636.8" width="1.3" height="1.3" fill="#28239a"/><rect x="101.6" y="679.8" width="1.3" height="1.3" fill="#28239a"/><rect x="101.3" y="636.0" width="1.3" height="1.3" fill="#28239a"/><rect x="113.0" y="633.8" width="1.3" height="1.3" fill="#28239a"/><rect x="58.1" y="687.6" width="1.3" height="1.3" fill="#28239a"/><rect x="56.2" y="667.7" width="1.3" height="1.3" fill="#28239a"/><rect x="118.6" y="645.0" width="1.3" height="1.3" fill="#28239a"/><rect x="117.7" y="635.1" width="1.3" height="1.3" fill="#28239a"/><rect x="96.9" y="683.6" width="1.3" height="1.3" fill="#28239a"/><rect x="60.8" y="689.4" width="1.3" height="1.3" fill="#28239a"/><rect x="115.3" y="635.1" width="1.3" height="1.3" fill="#28239a"/><rect x="103.2" y="636.3" width="1.3" height="1.3" fill="#28239a"/><rect x="116.1" y="652.9" width="1.3" height="1.3" fill="#28239a"/><rect x="113.3" y="635.2" width="1.3" height="1.3" fill="#28239a"/><rect x="118.0" y="641.1" width="1.3" height="1.3" fill="#28239a"/><rect x="115.9" y="654.4" width="1.3" height="1.3" fill="#28239a"/><rect x="61.8" y="654.6" width="1.3" height="1.3" fill="#28239a"/><rect x="82.3" y="641.6" width="1.3" height="1.3" fill="#28239a"/><rect x="59.3" y="659.0" width="1.3" height="1.3" fill="#28239a"/><rect x="117.2" y="640.3" width="1.3" height="1.3" fill="#28239a"/><rect x="74.6" y="646.5" width="1.3" height="1.3" fill="#28239a"/><rect x="114.4" y="636.5" width="1.3" height="1.3" fill="#28239a"/><rect x="85.8" y="687.8" width="1.3" height="1.3" fill="#28239a"/><rect x="74.5" y="690.7" width="1.3" height="1.3" fill="#28239a"/><rect x="110.1" y="670.3" width="1.3" height="1.3" fill="#28239a"/><rect x="115.2" y="650.2" width="1.3" height="1.3" fill="#28239a"/><rect x="65.4" y="651.5" width="1.3" height="1.3" fill="#28239a"/><rect x="93.7" y="684.3" width="1.3" height="1.3" fill="#28239a"/><rect x="115.0" y="663.3" width="1.3" height="1.3" fill="#28239a"/><rect x="116.1" y="639.8" width="1.3" height="1.3" fill="#28239a"/><rect x="58.1" y="663.8" width="1.3" height="1.3" fill="#28239a"/><rect x="115.6" y="644.4" width="1.3" height="1.3" fill="#28239a"/><rect x="59.6" y="659.9" width="1.3" height="1.3" fill="#28239a"/><rect x="103.2" y="675.4" width="1.3" height="1.3" fill="#28239a"/><rect x="114.4" y="649.3" width="1.3" height="1.3" fill="#28239a"/><rect x="58.6" y="684.6" width="1.3" height="1.3" fill="#28239a"/><rect x="114.4" y="639.0" width="1.3" height="1.3" fill="#28239a"/><rect x="87.3" y="641.5" width="1.3" height="1.3" fill="#28239a"/><rect x="98.0" y="640.7" width="1.3" height="1.3" fill="#28239a"/><rect x="110.8" y="668.5" width="1.3" height="1.3" fill="#28239a"/><rect x="58.6" y="683.6" width="1.3" height="1.3" fill="#28239a"/><rect x="111.3" y="667.7" width="1.3" height="1.3" fill="#28239a"/><rect x="82.9" y="642.6" width="1.3" height="1.3" fill="#28239a"/><rect x="57.9" y="671.1" width="1.3" height="1.3" fill="#28239a"/><rect x="112.9" y="665.5" width="1.3" height="1.3" fill="#28239a"/><rect x="113.5" y="648.5" width="1.3" height="1.3" fill="#28239a"/><rect x="110.1" y="639.2" width="1.3" height="1.3" fill="#28239a"/><rect x="104.3" y="673.3" width="1.3" height="1.3" fill="#28239a"/><rect x="113.9" y="661.7" width="1.3" height="1.3" fill="#28239a"/><rect x="60.1" y="660.8" width="1.3" height="1.3" fill="#28239a"/><rect x="114.0" y="660.9" width="1.3" height="1.3" fill="#28239a"/><rect x="76.3" y="689.1" width="1.3" height="1.3" fill="#28239a"/><rect x="108.1" y="669.9" width="1.3" height="1.3" fill="#28239a"/><rect x="58.7" y="681.9" width="1.3" height="1.3" fill="#28239a"/><rect x="67.7" y="652.0" width="1.3" height="1.3" fill="#28239a"/><rect x="113.0" y="642.7" width="1.3" height="1.3" fill="#28239a"/><rect x="96.6" y="641.9" width="1.3" height="1.3" fill="#28239a"/><rect x="72.6" y="649.5" width="1.3" height="1.3" fill="#28239a"/><rect x="90.6" y="684.7" width="1.3" height="1.3" fill="#28239a"/><rect x="111.5" y="641.4" width="1.3" height="1.3" fill="#28239a"/><rect x="88.3" y="642.6" width="1.3" height="1.3" fill="#28239a"/><rect x="76.7" y="688.6" width="1.3" height="1.3" fill="#28239a"/><rect x="112.2" y="653.3" width="1.3" height="1.3" fill="#28239a"/><rect x="110.3" y="641.4" width="1.3" height="1.3" fill="#28239a"/><rect x="112.4" y="663.6" width="1.3" height="1.3" fill="#28239a"/><rect x="90.8" y="642.8" width="1.3" height="1.3" fill="#28239a"/><rect x="68.9" y="689.1" width="1.3" height="1.3" fill="#28239a"/><rect x="64.2" y="687.6" width="1.3" height="1.3" fill="#28239a"/><rect x="108.7" y="668.5" width="1.3" height="1.3" fill="#28239a"/><rect x="112.7" y="661.6" width="1.3" height="1.3" fill="#28239a"/><rect x="102.8" y="641.7" width="1.3" height="1.3" fill="#28239a"/><rect x="60.0" y="683.2" width="1.3" height="1.3" fill="#28239a"/><rect x="98.9" y="642.6" width="1.3" height="1.3" fill="#28239a"/><rect x="59.0" y="677.3" width="1.3" height="1.3" fill="#28239a"/><rect x="59.5" y="668.9" width="1.3" height="1.3" fill="#28239a"/><rect x="75.8" y="688.1" width="1.3" height="1.3" fill="#28239a"/><rect x="107.3" y="642.0" width="1.3" height="1.3" fill="#28239a"/><rect x="105.4" y="670.6" width="1.3" height="1.3" fill="#28239a"/><rect x="104.7" y="642.1" width="1.3" height="1.3" fill="#28239a"/><rect x="59.2" y="677.8" width="1.3" height="1.3" fill="#28239a"/><rect x="66.0" y="654.7" width="1.3" height="1.3" fill="#28239a"/><rect x="105.4" y="642.2" width="1.3" height="1.3" fill="#28239a"/><rect x="102.5" y="672.8" width="1.3" height="1.3" fill="#28239a"/><rect x="59.3" y="675.4" width="1.3" height="1.3" fill="#28239a"/><rect x="108.3" y="643.0" width="1.3" height="1.3" fill="#28239a"/><rect x="100.3" y="643.1" width="1.3" height="1.3" fill="#28239a"/><rect x="60.6" y="664.9" width="1.3" height="1.3" fill="#28239a"/><rect x="109.9" y="645.4" width="1.3" height="1.3" fill="#28239a"/><rect x="85.3" y="685.4" width="1.3" height="1.3" fill="#28239a"/><rect x="106.8" y="643.0" width="1.3" height="1.3" fill="#28239a"/><rect x="61.6" y="684.0" width="1.3" height="1.3" fill="#28239a"/><rect x="60.9" y="664.4" width="1.3" height="1.3" fill="#28239a"/><rect x="95.5" y="643.8" width="1.3" height="1.3" fill="#28239a"/><rect x="111.6" y="660.2" width="1.3" height="1.3" fill="#28239a"/><rect x="110.9" y="655.8" width="1.3" height="1.3" fill="#28239a"/><rect x="104.0" y="643.1" width="1.3" height="1.3" fill="#28239a"/><rect x="62.2" y="660.9" width="1.3" height="1.3" fill="#28239a"/><rect x="67.6" y="687.6" width="1.3" height="1.3" fill="#28239a"/><rect x="108.0" y="644.5" width="1.3" height="1.3" fill="#28239a"/><rect x="95.3" y="644.0" width="1.3" height="1.3" fill="#28239a"/><rect x="65.2" y="656.5" width="1.3" height="1.3" fill="#28239a"/><rect x="109.3" y="649.0" width="1.3" height="1.3" fill="#28239a"/><rect x="66.0" y="655.8" width="1.3" height="1.3" fill="#28239a"/><rect x="107.8" y="645.1" width="1.3" height="1.3" fill="#28239a"/><rect x="79.7" y="646.6" width="1.3" height="1.3" fill="#28239a"/><rect x="108.3" y="646.0" width="1.3" height="1.3" fill="#28239a"/><rect x="71.3" y="687.8" width="1.3" height="1.3" fill="#28239a"/><rect x="108.5" y="647.4" width="1.3" height="1.3" fill="#28239a"/><rect x="68.9" y="687.5" width="1.3" height="1.3" fill="#28239a"/><rect x="94.3" y="644.4" width="1.3" height="1.3" fill="#28239a"/><rect x="82.2" y="645.5" width="1.3" height="1.3" fill="#28239a"/><rect x="108.0" y="646.5" width="1.3" height="1.3" fill="#28239a"/><rect x="60.3" y="675.3" width="1.3" height="1.3" fill="#28239a"/><rect x="61.7" y="664.8" width="1.3" height="1.3" fill="#28239a"/><rect x="61.1" y="668.6" width="1.3" height="1.3" fill="#28239a"/><rect x="81.1" y="646.2" width="1.3" height="1.3" fill="#28239a"/><rect x="69.2" y="687.3" width="1.3" height="1.3" fill="#28239a"/><rect x="83.5" y="645.3" width="1.3" height="1.3" fill="#28239a"/><rect x="103.4" y="645.2" width="1.3" height="1.3" fill="#28239a"/><rect x="61.0" y="676.5" width="1.3" height="1.3" fill="#28239a"/><rect x="65.5" y="657.9" width="1.3" height="1.3" fill="#28239a"/><rect x="108.1" y="665.3" width="1.3" height="1.3" fill="#28239a"/><rect x="91.8" y="681.0" width="1.3" height="1.3" fill="#28239a"/><rect x="93.7" y="645.3" width="1.3" height="1.3" fill="#28239a"/><rect x="105.0" y="668.3" width="1.3" height="1.3" fill="#28239a"/><rect x="61.4" y="675.9" width="1.3" height="1.3" fill="#28239a"/><rect x="100.4" y="672.3" width="1.3" height="1.3" fill="#28239a"/><rect x="108.5" y="664.2" width="1.3" height="1.3" fill="#28239a"/><rect x="61.5" y="673.8" width="1.3" height="1.3" fill="#28239a"/><rect x="106.7" y="649.3" width="1.3" height="1.3" fill="#28239a"/><rect x="89.8" y="681.9" width="1.3" height="1.3" fill="#28239a"/><rect x="82.8" y="684.3" width="1.3" height="1.3" fill="#28239a"/><rect x="106.7" y="650.3" width="1.3" height="1.3" fill="#28239a"/><rect x="73.4" y="686.2" width="1.3" height="1.3" fill="#28239a"/><rect x="76.0" y="650.6" width="1.3" height="1.3" fill="#28239a"/><rect x="62.0" y="676.3" width="1.3" height="1.3" fill="#28239a"/><rect x="108.9" y="657.6" width="1.3" height="1.3" fill="#28239a"/><rect x="96.7" y="675.5" width="1.3" height="1.3" fill="#28239a"/><rect x="67.7" y="656.5" width="1.3" height="1.3" fill="#28239a"/><rect x="100.0" y="646.5" width="1.3" height="1.3" fill="#28239a"/><rect x="64.2" y="662.1" width="1.3" height="1.3" fill="#28239a"/><rect x="63.2" y="665.6" width="1.3" height="1.3" fill="#28239a"/><rect x="72.6" y="652.9" width="1.3" height="1.3" fill="#28239a"/><rect x="105.1" y="648.8" width="1.3" height="1.3" fill="#28239a"/><rect x="72.3" y="686.0" width="1.3" height="1.3" fill="#28239a"/><rect x="83.0" y="646.9" width="1.3" height="1.3" fill="#28239a"/><rect x="62.3" y="675.2" width="1.3" height="1.3" fill="#28239a"/><rect x="72.1" y="685.8" width="1.3" height="1.3" fill="#28239a"/><rect x="94.3" y="677.7" width="1.3" height="1.3" fill="#28239a"/><rect x="108.5" y="658.2" width="1.3" height="1.3" fill="#28239a"/><rect x="81.4" y="684.0" width="1.3" height="1.3" fill="#28239a"/><rect x="65.3" y="660.3" width="1.3" height="1.3" fill="#28239a"/><rect x="62.9" y="669.5" width="1.3" height="1.3" fill="#28239a"/><rect x="98.2" y="673.3" width="1.3" height="1.3" fill="#28239a"/><rect x="105.1" y="666.9" width="1.3" height="1.3" fill="#28239a"/><rect x="62.7" y="672.1" width="1.3" height="1.3" fill="#28239a"/><rect x="68.8" y="656.0" width="1.3" height="1.3" fill="#28239a"/><rect x="62.9" y="670.5" width="1.3" height="1.3" fill="#28239a"/><rect x="62.8" y="675.5" width="1.3" height="1.3" fill="#28239a"/><rect x="63.0" y="677.6" width="1.3" height="1.3" fill="#28239a"/><rect x="75.5" y="684.9" width="1.3" height="1.3" fill="#28239a"/><rect x="64.0" y="681.0" width="1.3" height="1.3" fill="#28239a"/><rect x="108.1" y="659.2" width="1.3" height="1.3" fill="#28239a"/><rect x="108.1" y="659.4" width="1.3" height="1.3" fill="#28239a"/><rect x="64.5" y="663.9" width="1.3" height="1.3" fill="#28239a"/><rect x="107.9" y="659.3" width="1.3" height="1.3" fill="#28239a"/><rect x="77.3" y="684.2" width="1.3" height="1.3" fill="#28239a"/><rect x="94.9" y="676.2" width="1.3" height="1.3" fill="#28239a"/><rect x="67.0" y="683.8" width="1.3" height="1.3" fill="#28239a"/><rect x="67.8" y="684.2" width="1.3" height="1.3" fill="#28239a"/><rect x="91.3" y="646.8" width="1.3" height="1.3" fill="#28239a"/><rect x="73.0" y="684.9" width="1.3" height="1.3" fill="#28239a"/><rect x="100.8" y="648.1" width="1.3" height="1.3" fill="#28239a"/><rect x="101.4" y="648.3" width="1.3" height="1.3" fill="#28239a"/><rect x="105.5" y="652.0" width="1.3" height="1.3" fill="#28239a"/><rect x="64.7" y="664.2" width="1.3" height="1.3" fill="#28239a"/><rect x="78.2" y="683.8" width="1.3" height="1.3" fill="#28239a"/><rect x="67.1" y="683.5" width="1.3" height="1.3" fill="#28239a"/><rect x="65.3" y="681.8" width="1.3" height="1.3" fill="#28239a"/><rect x="63.8" y="670.0" width="1.3" height="1.3" fill="#28239a"/><rect x="85.5" y="682.3" width="1.3" height="1.3" fill="#28239a"/><rect x="84.5" y="647.6" width="1.3" height="1.3" fill="#28239a"/><rect x="107.2" y="657.2" width="1.3" height="1.3" fill="#28239a"/><rect x="68.6" y="684.1" width="1.3" height="1.3" fill="#28239a"/><rect x="71.7" y="684.6" width="1.3" height="1.3" fill="#28239a"/><rect x="97.0" y="673.2" width="1.3" height="1.3" fill="#28239a"/><rect x="105.9" y="664.4" width="1.3" height="1.3" fill="#28239a"/><rect x="103.3" y="650.1" width="1.3" height="1.3" fill="#28239a"/><rect x="65.2" y="680.9" width="1.3" height="1.3" fill="#28239a"/><rect x="105.9" y="654.0" width="1.3" height="1.3" fill="#28239a"/><rect x="66.7" y="660.1" width="1.3" height="1.3" fill="#28239a"/><rect x="66.7" y="682.6" width="1.3" height="1.3" fill="#28239a"/><rect x="85.9" y="647.6" width="1.3" height="1.3" fill="#28239a"/><rect x="65.4" y="680.9" width="1.3" height="1.3" fill="#28239a"/><rect x="81.0" y="649.3" width="1.3" height="1.3" fill="#28239a"/><rect x="65.8" y="681.2" width="1.3" height="1.3" fill="#28239a"/><rect x="80.9" y="682.9" width="1.3" height="1.3" fill="#28239a"/><rect x="86.2" y="647.7" width="1.3" height="1.3" fill="#28239a"/><rect x="95.2" y="674.9" width="1.3" height="1.3" fill="#28239a"/><rect x="89.6" y="647.5" width="1.3" height="1.3" fill="#28239a"/><rect x="93.9" y="676.3" width="1.3" height="1.3" fill="#28239a"/><rect x="106.8" y="660.3" width="1.3" height="1.3" fill="#28239a"/><rect x="102.7" y="650.4" width="1.3" height="1.3" fill="#28239a"/><rect x="81.2" y="649.3" width="1.3" height="1.3" fill="#28239a"/><rect x="64.6" y="669.6" width="1.5" height="1.5" fill="#861a55"/><rect x="87.1" y="681.1" width="1.5" height="1.5" fill="#861a55"/><rect x="69.5" y="656.8" width="1.5" height="1.5" fill="#861a55"/><rect x="79.0" y="650.5" width="1.5" height="1.5" fill="#861a55"/><rect x="83.5" y="648.4" width="1.5" height="1.5" fill="#861a55"/><rect x="92.8" y="677.0" width="1.5" height="1.5" fill="#861a55"/><rect x="106.3" y="657.4" width="1.5" height="1.5" fill="#861a55"/><rect x="70.3" y="683.4" width="1.5" height="1.5" fill="#861a55"/><rect x="64.8" y="669.9" width="1.5" height="1.5" fill="#861a55"/><rect x="65.1" y="678.4" width="1.5" height="1.5" fill="#861a55"/><rect x="94.9" y="648.0" width="1.5" height="1.5" fill="#861a55"/><rect x="89.5" y="679.5" width="1.5" height="1.5" fill="#861a55"/><rect x="106.3" y="658.5" width="1.5" height="1.5" fill="#861a55"/><rect x="83.7" y="681.8" width="1.5" height="1.5" fill="#861a55"/><rect x="82.6" y="649.0" width="1.5" height="1.5" fill="#861a55"/><rect x="65.6" y="678.8" width="1.5" height="1.5" fill="#861a55"/><rect x="104.4" y="664.7" width="1.5" height="1.5" fill="#861a55"/><rect x="96.8" y="672.0" width="1.5" height="1.5" fill="#861a55"/><rect x="74.6" y="653.5" width="1.5" height="1.5" fill="#861a55"/><rect x="106.1" y="660.9" width="1.5" height="1.5" fill="#861a55"/><rect x="66.4" y="680.1" width="1.5" height="1.5" fill="#861a55"/><rect x="105.3" y="655.4" width="1.5" height="1.5" fill="#861a55"/><rect x="80.4" y="682.1" width="1.5" height="1.5" fill="#861a55"/><rect x="99.3" y="649.4" width="1.5" height="1.5" fill="#861a55"/><rect x="67.5" y="681.2" width="1.5" height="1.5" fill="#861a55"/><rect x="72.3" y="682.9" width="1.5" height="1.5" fill="#861a55"/><rect x="96.1" y="672.5" width="1.5" height="1.5" fill="#861a55"/><rect x="91.1" y="677.9" width="1.5" height="1.5" fill="#861a55"/><rect x="69.0" y="682.1" width="1.5" height="1.5" fill="#861a55"/><rect x="104.3" y="664.2" width="1.5" height="1.5" fill="#861a55"/><rect x="76.3" y="682.4" width="1.5" height="1.5" fill="#861a55"/><rect x="105.3" y="656.9" width="1.5" height="1.5" fill="#861a55"/><rect x="85.0" y="648.9" width="1.5" height="1.5" fill="#861a55"/><rect x="80.3" y="681.8" width="1.5" height="1.5" fill="#861a55"/><rect x="66.3" y="664.8" width="1.5" height="1.5" fill="#861a55"/><rect x="86.0" y="680.7" width="1.5" height="1.5" fill="#861a55"/><rect x="91.0" y="648.5" width="1.5" height="1.5" fill="#861a55"/><rect x="99.0" y="669.2" width="1.5" height="1.5" fill="#861a55"/><rect x="67.6" y="661.2" width="1.5" height="1.5" fill="#861a55"/><rect x="85.2" y="649.0" width="1.5" height="1.5" fill="#861a55"/><rect x="70.6" y="682.0" width="1.5" height="1.5" fill="#861a55"/><rect x="66.0" y="668.5" width="1.5" height="1.5" fill="#861a55"/><rect x="66.5" y="677.6" width="1.5" height="1.5" fill="#861a55"/><rect x="66.0" y="673.9" width="1.5" height="1.5" fill="#861a55"/><rect x="96.5" y="671.4" width="1.5" height="1.5" fill="#861a55"/><rect x="82.5" y="681.2" width="1.5" height="1.5" fill="#861a55"/><rect x="86.8" y="649.0" width="1.5" height="1.5" fill="#861a55"/><rect x="103.7" y="654.3" width="1.5" height="1.5" fill="#861a55"/><rect x="78.9" y="681.5" width="1.5" height="1.5" fill="#861a55"/><rect x="67.2" y="678.2" width="1.5" height="1.5" fill="#861a55"/><rect x="68.6" y="680.3" width="1.5" height="1.5" fill="#861a55"/><rect x="98.1" y="649.9" width="1.5" height="1.5" fill="#861a55"/><rect x="75.9" y="653.5" width="1.5" height="1.5" fill="#861a55"/><rect x="101.7" y="652.1" width="1.5" height="1.5" fill="#861a55"/><rect x="104.4" y="662.5" width="1.5" height="1.5" fill="#861a55"/><rect x="97.3" y="649.7" width="1.5" height="1.5" fill="#861a55"/><rect x="68.0" y="679.2" width="1.5" height="1.5" fill="#861a55"/><rect x="88.5" y="649.1" width="1.5" height="1.5" fill="#861a55"/><rect x="86.9" y="679.7" width="1.5" height="1.5" fill="#861a55"/><rect x="73.6" y="655.1" width="1.5" height="1.5" fill="#861a55"/><rect x="95.5" y="671.8" width="1.5" height="1.5" fill="#861a55"/><rect x="98.2" y="650.2" width="1.5" height="1.5" fill="#861a55"/><rect x="101.1" y="666.6" width="1.5" height="1.5" fill="#e0231c"/><rect x="102.1" y="653.0" width="1.5" height="1.5" fill="#e0231c"/><rect x="102.0" y="653.1" width="1.5" height="1.5" fill="#e0231c"/><rect x="90.5" y="649.4" width="1.5" height="1.5" fill="#e0231c"/><rect x="103.5" y="655.5" width="1.5" height="1.5" fill="#e0231c"/><rect x="88.0" y="678.8" width="1.5" height="1.5" fill="#e0231c"/><rect x="93.0" y="674.3" width="1.5" height="1.5" fill="#e0231c"/><rect x="103.1" y="654.8" width="1.5" height="1.5" fill="#e0231c"/><rect x="98.9" y="668.2" width="1.5" height="1.5" fill="#e0231c"/><rect x="78.4" y="652.6" width="1.5" height="1.5" fill="#e0231c"/><rect x="67.7" y="664.5" width="1.5" height="1.5" fill="#e0231c"/><rect x="99.5" y="651.4" width="1.5" height="1.5" fill="#e0231c"/><rect x="96.6" y="650.1" width="1.5" height="1.5" fill="#e0231c"/><rect x="87.9" y="678.7" width="1.5" height="1.5" fill="#e0231c"/><rect x="81.3" y="651.4" width="1.5" height="1.5" fill="#e0231c"/><rect x="102.0" y="665.1" width="1.5" height="1.5" fill="#e0231c"/><rect x="91.3" y="649.6" width="1.5" height="1.5" fill="#e0231c"/><rect x="68.1" y="676.0" width="1.5" height="1.5" fill="#e0231c"/><rect x="80.4" y="680.4" width="1.5" height="1.5" fill="#e0231c"/><rect x="76.3" y="680.4" width="1.5" height="1.5" fill="#e0231c"/><rect x="92.9" y="674.0" width="1.5" height="1.5" fill="#e0231c"/><rect x="74.5" y="680.4" width="1.5" height="1.5" fill="#e0231c"/><rect x="67.5" y="670.8" width="1.5" height="1.5" fill="#e0231c"/><rect x="93.2" y="649.8" width="1.5" height="1.5" fill="#e0231c"/><rect x="72.0" y="679.8" width="1.5" height="1.5" fill="#e0231c"/><rect x="70.0" y="659.5" width="1.5" height="1.5" fill="#e0231c"/><rect x="92.2" y="649.9" width="1.5" height="1.5" fill="#e0231c"/><rect x="68.1" y="664.9" width="1.5" height="1.5" fill="#e0231c"/><rect x="87.9" y="678.2" width="1.5" height="1.5" fill="#e0231c"/><rect x="67.8" y="671.1" width="1.5" height="1.5" fill="#e0231c"/><rect x="102.6" y="663.6" width="1.5" height="1.5" fill="#e0231c"/><rect x="101.3" y="653.5" width="1.5" height="1.5" fill="#e0231c"/><rect x="80.5" y="652.2" width="1.5" height="1.5" fill="#e0231c"/><rect x="84.2" y="650.9" width="1.5" height="1.5" fill="#e0231c"/><rect x="99.9" y="652.4" width="1.5" height="1.5" fill="#e0231c"/><rect x="82.6" y="651.5" width="1.5" height="1.5" fill="#e0231c"/><rect x="72.3" y="679.2" width="1.5" height="1.5" fill="#e0231c"/><rect x="69.6" y="660.8" width="1.5" height="1.5" fill="#e0231c"/><rect x="70.7" y="678.2" width="1.5" height="1.5" fill="#e0231c"/><rect x="73.9" y="679.6" width="1.5" height="1.5" fill="#e0231c"/><rect x="102.6" y="655.8" width="1.5" height="1.5" fill="#e0231c"/><rect x="94.9" y="650.5" width="1.5" height="1.5" fill="#e0231c"/><rect x="83.0" y="651.5" width="1.5" height="1.5" fill="#e0231c"/><rect x="97.6" y="668.3" width="1.5" height="1.5" fill="#e0231c"/><rect x="73.2" y="679.2" width="1.5" height="1.5" fill="#e0231c"/><rect x="68.6" y="672.7" width="1.5" height="1.5" fill="#e0231c"/><rect x="92.4" y="673.6" width="1.5" height="1.5" fill="#e0231c"/><rect x="81.0" y="679.6" width="1.5" height="1.5" fill="#e0231c"/><rect x="72.2" y="678.7" width="1.5" height="1.5" fill="#e0231c"/><rect x="103.3" y="658.9" width="1.5" height="1.5" fill="#e0231c"/><rect x="99.2" y="666.8" width="1.5" height="1.5" fill="#e0231c"/><rect x="76.0" y="679.4" width="1.5" height="1.5" fill="#e0231c"/><rect x="76.0" y="679.3" width="1.5" height="1.5" fill="#e0231c"/><rect x="93.2" y="672.4" width="1.5" height="1.5" fill="#e0231c"/><rect x="68.8" y="672.7" width="1.5" height="1.5" fill="#e0231c"/><rect x="86.4" y="678.4" width="1.5" height="1.5" fill="#e0231c"/><rect x="88.8" y="677.0" width="1.5" height="1.5" fill="#e0231c"/><rect x="81.5" y="652.3" width="1.5" height="1.5" fill="#e0231c"/><rect x="77.4" y="654.2" width="1.5" height="1.5" fill="#e0231c"/><rect x="86.1" y="678.4" width="1.5" height="1.5" fill="#e0231c"/><rect x="84.7" y="651.5" width="1.5" height="1.5" fill="#e0231c"/><rect x="80.1" y="679.2" width="1.5" height="1.5" fill="#e0231c"/><rect x="68.6" y="667.7" width="1.5" height="1.5" fill="#e0231c"/><rect x="69.3" y="663.0" width="1.5" height="1.5" fill="#e0231c"/><rect x="71.8" y="677.5" width="1.5" height="1.5" fill="#e0231c"/><rect x="74.8" y="655.9" width="1.5" height="1.5" fill="#e0231c"/><rect x="69.7" y="674.2" width="1.5" height="1.5" fill="#e0231c"/><rect x="72.0" y="658.3" width="1.5" height="1.5" fill="#e0231c"/><rect x="73.3" y="657.2" width="1.5" height="1.5" fill="#e0231c"/><rect x="102.5" y="661.4" width="1.5" height="1.5" fill="#e0231c"/><rect x="100.9" y="664.4" width="1.5" height="1.5" fill="#e0231c"/><rect x="70.0" y="661.8" width="1.5" height="1.5" fill="#e0231c"/><rect x="90.8" y="651.0" width="1.5" height="1.5" fill="#e0231c"/><rect x="69.3" y="668.7" width="1.5" height="1.5" fill="#e0231c"/><rect x="102.2" y="661.3" width="1.5" height="1.5" fill="#e0231c"/><rect x="72.3" y="658.5" width="1.5" height="1.5" fill="#e0231c"/><rect x="70.0" y="672.3" width="1.5" height="1.5" fill="#e0231c"/><rect x="86.2" y="652.0" width="1.5" height="1.5" fill="#e0231c"/><rect x="85.0" y="677.9" width="1.5" height="1.5" fill="#e0231c"/><rect x="84.7" y="677.9" width="1.5" height="1.5" fill="#e0231c"/><rect x="69.7" y="669.7" width="1.5" height="1.5" fill="#e0231c"/><rect x="92.9" y="671.3" width="1.5" height="1.5" fill="#e0231c"/><rect x="73.7" y="676.7" width="1.5" height="1.5" fill="#e0231c"/><rect x="102.0" y="660.3" width="1.5" height="1.5" fill="#e0231c"/><rect x="70.5" y="672.5" width="1.5" height="1.5" fill="#e0231c"/><rect x="77.0" y="677.6" width="1.5" height="1.5" fill="#e0231c"/><rect x="85.0" y="677.6" width="1.5" height="1.5" fill="#e0231c"/><rect x="91.0" y="673.5" width="1.5" height="1.5" fill="#e0231c"/><rect x="70.0" y="664.8" width="1.5" height="1.5" fill="#e0231c"/><rect x="70.0" y="664.9" width="1.5" height="1.5" fill="#e0231c"/><rect x="79.8" y="677.8" width="1.5" height="1.5" fill="#e0231c"/><rect x="101.0" y="656.3" width="1.5" height="1.5" fill="#e0231c"/><rect x="71.9" y="674.6" width="1.5" height="1.5" fill="#e0231c"/><rect x="73.8" y="676.2" width="1.5" height="1.5" fill="#e0231c"/><rect x="70.5" y="671.5" width="1.5" height="1.5" fill="#e0231c"/><rect x="76.9" y="677.2" width="1.5" height="1.5" fill="#e0231c"/><rect x="101.4" y="661.7" width="1.5" height="1.5" fill="#e0231c"/><rect x="81.2" y="677.7" width="1.5" height="1.5" fill="#e0231c"/><rect x="89.8" y="674.5" width="1.5" height="1.5" fill="#e0231c"/><rect x="93.4" y="651.9" width="1.5" height="1.5" fill="#e0231c"/><rect x="100.3" y="663.8" width="1.5" height="1.5" fill="#e0231c"/><rect x="76.4" y="676.9" width="1.5" height="1.5" fill="#e0231c"/><rect x="72.1" y="674.2" width="1.5" height="1.5" fill="#e0231c"/><rect x="70.4" y="664.7" width="1.5" height="1.5" fill="#e0231c"/><rect x="70.9" y="662.4" width="1.5" height="1.5" fill="#e0231c"/><rect x="70.8" y="662.6" width="1.5" height="1.5" fill="#e0231c"/><rect x="73.2" y="658.4" width="1.5" height="1.5" fill="#e0231c"/><rect x="70.6" y="670.2" width="1.5" height="1.5" fill="#e0231c"/><rect x="99.7" y="664.2" width="1.5" height="1.5" fill="#e0231c"/><rect x="97.3" y="653.3" width="1.5" height="1.5" fill="#e0231c"/><rect x="93.6" y="652.1" width="1.5" height="1.5" fill="#e0231c"/><rect x="99.7" y="655.3" width="1.5" height="1.5" fill="#e0231c"/><rect x="86.2" y="652.8" width="1.5" height="1.5" fill="#e0231c"/><rect x="70.7" y="669.8" width="1.5" height="1.5" fill="#e0231c"/><rect x="86.9" y="676.2" width="1.5" height="1.5" fill="#e0231c"/><rect x="84.5" y="677.0" width="1.5" height="1.5" fill="#e0231c"/><rect x="91.3" y="672.0" width="1.5" height="1.5" fill="#e0231c"/><rect x="81.9" y="653.9" width="1.5" height="1.5" fill="#f06a1a"/><rect x="80.7" y="654.3" width="1.5" height="1.5" fill="#f06a1a"/><rect x="71.2" y="670.5" width="1.5" height="1.5" fill="#f06a1a"/><rect x="70.7" y="665.7" width="1.5" height="1.5" fill="#f06a1a"/><rect x="80.0" y="676.8" width="1.5" height="1.5" fill="#f06a1a"/><rect x="88.8" y="674.6" width="1.5" height="1.5" fill="#f06a1a"/><rect x="74.5" y="674.9" width="1.5" height="1.5" fill="#f06a1a"/><rect x="72.2" y="672.4" width="1.5" height="1.5" fill="#f06a1a"/><rect x="81.7" y="676.9" width="1.5" height="1.5" fill="#f06a1a"/><rect x="98.8" y="655.0" width="1.5" height="1.5" fill="#f06a1a"/><rect x="87.7" y="675.3" width="1.5" height="1.5" fill="#f06a1a"/><rect x="76.5" y="675.7" width="1.5" height="1.5" fill="#f06a1a"/><rect x="74.3" y="658.0" width="1.5" height="1.5" fill="#f06a1a"/><rect x="74.7" y="674.8" width="1.5" height="1.5" fill="#f06a1a"/><rect x="92.8" y="652.6" width="1.5" height="1.5" fill="#f06a1a"/><rect x="100.2" y="662.4" width="1.5" height="1.5" fill="#f06a1a"/><rect x="81.4" y="676.6" width="1.5" height="1.5" fill="#f06a1a"/><rect x="73.8" y="673.9" width="1.5" height="1.5" fill="#f06a1a"/><rect x="76.6" y="656.4" width="1.5" height="1.5" fill="#f06a1a"/><rect x="77.9" y="675.7" width="1.5" height="1.5" fill="#f06a1a"/><rect x="71.9" y="670.5" width="1.5" height="1.5" fill="#f06a1a"/><rect x="74.2" y="673.9" width="1.5" height="1.5" fill="#f06a1a"/><rect x="73.3" y="673.0" width="1.5" height="1.5" fill="#f06a1a"/><rect x="94.4" y="667.9" width="1.5" height="1.5" fill="#f06a1a"/><rect x="90.1" y="652.9" width="1.5" height="1.5" fill="#f06a1a"/><rect x="96.4" y="653.7" width="1.5" height="1.5" fill="#f06a1a"/><rect x="83.6" y="654.0" width="1.5" height="1.5" fill="#f06a1a"/><rect x="71.6" y="668.3" width="1.5" height="1.5" fill="#f06a1a"/><rect x="73.3" y="659.5" width="1.5" height="1.5" fill="#f06a1a"/><rect x="87.9" y="674.7" width="1.5" height="1.5" fill="#f06a1a"/><rect x="74.2" y="673.6" width="1.5" height="1.5" fill="#f06a1a"/><rect x="71.6" y="668.4" width="1.5" height="1.5" fill="#f06a1a"/><rect x="82.8" y="654.3" width="1.5" height="1.5" fill="#f06a1a"/><rect x="78.9" y="675.6" width="1.5" height="1.5" fill="#f06a1a"/><rect x="84.9" y="676.0" width="1.5" height="1.5" fill="#f06a1a"/><rect x="89.0" y="673.6" width="1.5" height="1.5" fill="#f06a1a"/><rect x="82.7" y="676.2" width="1.5" height="1.5" fill="#f06a1a"/><rect x="100.4" y="660.0" width="1.5" height="1.5" fill="#f06a1a"/><rect x="91.6" y="653.0" width="1.5" height="1.5" fill="#f06a1a"/><rect x="100.4" y="660.6" width="1.5" height="1.5" fill="#f06a1a"/><rect x="91.4" y="670.8" width="1.5" height="1.5" fill="#f06a1a"/><rect x="80.2" y="675.7" width="1.5" height="1.5" fill="#f06a1a"/><rect x="92.1" y="653.0" width="1.5" height="1.5" fill="#f06a1a"/><rect x="78.5" y="655.8" width="1.5" height="1.5" fill="#f06a1a"/><rect x="81.7" y="654.7" width="1.5" height="1.5" fill="#f06a1a"/><rect x="98.8" y="663.6" width="1.5" height="1.5" fill="#f06a1a"/><rect x="94.7" y="667.2" width="1.5" height="1.5" fill="#f06a1a"/><rect x="86.3" y="675.2" width="1.5" height="1.5" fill="#f06a1a"/><rect x="99.9" y="658.2" width="1.5" height="1.5" fill="#f06a1a"/><rect x="96.8" y="665.5" width="1.5" height="1.5" fill="#f06a1a"/><rect x="91.3" y="653.3" width="1.5" height="1.5" fill="#f06a1a"/><rect x="88.6" y="673.5" width="1.5" height="1.5" fill="#f06a1a"/><rect x="73.7" y="671.7" width="1.5" height="1.5" fill="#f06a1a"/><rect x="94.2" y="653.5" width="1.5" height="1.5" fill="#f06a1a"/><rect x="95.4" y="666.4" width="1.5" height="1.5" fill="#f06a1a"/><rect x="72.7" y="669.6" width="1.5" height="1.5" fill="#f06a1a"/><rect x="72.7" y="669.5" width="1.5" height="1.5" fill="#f06a1a"/><rect x="99.2" y="662.5" width="1.5" height="1.5" fill="#f06a1a"/><rect x="73.7" y="659.7" width="1.5" height="1.5" fill="#f06a1a"/><rect x="92.8" y="653.4" width="1.5" height="1.5" fill="#f06a1a"/><rect x="98.1" y="664.0" width="1.5" height="1.5" fill="#f06a1a"/><rect x="75.4" y="658.0" width="1.5" height="1.5" fill="#f06a1a"/><rect x="72.2" y="667.3" width="1.5" height="1.5" fill="#f06a1a"/><rect x="84.7" y="675.4" width="1.5" height="1.5" fill="#f06a1a"/><rect x="76.4" y="673.5" width="1.5" height="1.5" fill="#f06a1a"/><rect x="81.6" y="675.3" width="1.5" height="1.5" fill="#f06a1a"/><rect x="86.9" y="654.2" width="1.5" height="1.5" fill="#f06a1a"/><rect x="96.1" y="665.6" width="1.5" height="1.5" fill="#f06a1a"/><rect x="78.0" y="656.5" width="1.5" height="1.5" fill="#f06a1a"/><rect x="82.9" y="654.9" width="1.5" height="1.5" fill="#f06a1a"/><rect x="99.5" y="661.2" width="1.5" height="1.5" fill="#f06a1a"/><rect x="73.2" y="661.1" width="1.5" height="1.5" fill="#f06a1a"/><rect x="97.1" y="655.4" width="1.5" height="1.5" fill="#f06a1a"/><rect x="82.9" y="675.0" width="1.5" height="1.5" fill="#f06a1a"/><rect x="91.6" y="653.9" width="1.5" height="1.5" fill="#f06a1a"/><rect x="97.2" y="664.3" width="1.5" height="1.5" fill="#f06a1a"/><rect x="73.2" y="661.5" width="1.5" height="1.5" fill="#f06a1a"/><rect x="74.9" y="659.0" width="1.5" height="1.5" fill="#f06a1a"/><rect x="74.3" y="670.5" width="1.5" height="1.5" fill="#f06a1a"/><rect x="77.2" y="672.9" width="1.5" height="1.5" fill="#f06a1a"/><rect x="74.7" y="670.9" width="1.5" height="1.5" fill="#f06a1a"/><rect x="73.6" y="660.9" width="1.5" height="1.5" fill="#f06a1a"/><rect x="81.7" y="674.6" width="1.5" height="1.5" fill="#f06a1a"/><rect x="90.7" y="654.1" width="1.5" height="1.5" fill="#f06a1a"/><rect x="77.6" y="673.0" width="1.5" height="1.5" fill="#f06a1a"/><rect x="94.0" y="654.3" width="1.5" height="1.5" fill="#f06a1a"/><rect x="93.1" y="654.2" width="1.5" height="1.5" fill="#f06a1a"/><rect x="93.3" y="667.1" width="1.5" height="1.5" fill="#f06a1a"/><rect x="95.0" y="665.7" width="1.5" height="1.5" fill="#f06a1a"/><rect x="75.6" y="658.7" width="1.5" height="1.5" fill="#f06a1a"/><rect x="73.7" y="661.4" width="1.5" height="1.5" fill="#f06a1a"/><rect x="76.9" y="657.8" width="1.5" height="1.5" fill="#f06a1a"/><rect x="98.6" y="661.4" width="1.5" height="1.5" fill="#f06a1a"/><rect x="96.2" y="664.6" width="1.5" height="1.5" fill="#f6b526"/><rect x="73.1" y="665.1" width="1.5" height="1.5" fill="#f6b526"/><rect x="97.2" y="656.5" width="1.5" height="1.5" fill="#f6b526"/><rect x="74.4" y="668.7" width="1.5" height="1.5" fill="#f6b526"/><rect x="95.1" y="665.3" width="1.5" height="1.5" fill="#f6b526"/><rect x="74.1" y="667.9" width="1.5" height="1.5" fill="#f6b526"/><rect x="82.9" y="655.8" width="1.5" height="1.5" fill="#f6b526"/><rect x="88.1" y="672.0" width="1.5" height="1.5" fill="#f6b526"/><rect x="73.8" y="662.2" width="1.5" height="1.5" fill="#f6b526"/><rect x="86.7" y="672.9" width="1.5" height="1.5" fill="#f6b526"/><rect x="75.4" y="669.7" width="1.5" height="1.5" fill="#f6b526"/><rect x="98.1" y="658.4" width="1.5" height="1.5" fill="#f6b526"/><rect x="89.5" y="670.4" width="1.5" height="1.5" fill="#f6b526"/><rect x="98.1" y="661.2" width="1.5" height="1.5" fill="#f6b526"/><rect x="85.6" y="673.2" width="1.5" height="1.5" fill="#f6b526"/><rect x="74.9" y="660.3" width="1.5" height="1.5" fill="#f6b526"/><rect x="76.8" y="670.6" width="1.5" height="1.5" fill="#f6b526"/><rect x="77.1" y="658.2" width="1.5" height="1.5" fill="#f6b526"/><rect x="84.8" y="673.3" width="1.5" height="1.5" fill="#f6b526"/><rect x="80.0" y="656.8" width="1.5" height="1.5" fill="#f6b526"/><rect x="90.8" y="655.1" width="1.5" height="1.5" fill="#f6b526"/><rect x="86.4" y="672.7" width="1.5" height="1.5" fill="#f6b526"/><rect x="88.5" y="655.5" width="1.5" height="1.5" fill="#f6b526"/><rect x="97.6" y="661.7" width="1.5" height="1.5" fill="#f6b526"/><rect x="97.7" y="661.5" width="1.5" height="1.5" fill="#f6b526"/><rect x="77.5" y="670.8" width="1.5" height="1.5" fill="#f6b526"/><rect x="93.2" y="655.3" width="1.5" height="1.5" fill="#f6b526"/><rect x="79.2" y="657.3" width="1.5" height="1.5" fill="#f6b526"/><rect x="77.5" y="670.6" width="1.5" height="1.5" fill="#f6b526"/><rect x="87.9" y="655.7" width="1.5" height="1.5" fill="#f6b526"/><rect x="82.5" y="672.9" width="1.5" height="1.5" fill="#f6b526"/><rect x="91.0" y="655.4" width="1.5" height="1.5" fill="#f6b526"/><rect x="74.5" y="662.1" width="1.5" height="1.5" fill="#f6b526"/><rect x="74.8" y="666.7" width="1.5" height="1.5" fill="#f6b526"/><rect x="97.3" y="661.4" width="1.5" height="1.5" fill="#f6b526"/><rect x="93.6" y="655.6" width="1.5" height="1.5" fill="#f6b526"/><rect x="81.0" y="656.9" width="1.5" height="1.5" fill="#f6b526"/><rect x="79.7" y="671.5" width="1.5" height="1.5" fill="#f6b526"/><rect x="74.4" y="663.6" width="1.5" height="1.5" fill="#f6b526"/><rect x="97.3" y="659.0" width="1.5" height="1.5" fill="#f6b526"/><rect x="93.8" y="665.0" width="1.5" height="1.5" fill="#f6b526"/><rect x="96.1" y="657.2" width="1.5" height="1.5" fill="#f6b526"/><rect x="97.1" y="658.7" width="1.5" height="1.5" fill="#f6b526"/><rect x="77.7" y="658.5" width="1.5" height="1.5" fill="#f6b526"/><rect x="97.3" y="660.3" width="1.5" height="1.5" fill="#f6b526"/><rect x="76.6" y="668.9" width="1.5" height="1.5" fill="#f6b526"/><rect x="96.5" y="657.8" width="1.5" height="1.5" fill="#f6b526"/><rect x="88.6" y="670.0" width="1.5" height="1.5" fill="#f6b526"/><rect x="96.8" y="658.4" width="1.5" height="1.5" fill="#f6b526"/><rect x="83.5" y="672.3" width="1.5" height="1.5" fill="#f6b526"/><rect x="96.7" y="661.6" width="1.5" height="1.5" fill="#f6b526"/><rect x="88.5" y="669.9" width="1.5" height="1.5" fill="#f6b526"/><rect x="83.9" y="672.2" width="1.5" height="1.5" fill="#f6b526"/><rect x="95.6" y="657.2" width="1.5" height="1.5" fill="#f6b526"/><rect x="95.4" y="663.3" width="1.5" height="1.5" fill="#f6b526"/><rect x="74.8" y="663.3" width="1.5" height="1.5" fill="#f6b526"/><rect x="94.2" y="664.3" width="1.5" height="1.5" fill="#f6b526"/><rect x="81.8" y="671.7" width="1.5" height="1.5" fill="#f6b526"/><rect x="91.1" y="656.1" width="1.5" height="1.5" fill="#f6b526"/><rect x="75.2" y="665.7" width="1.5" height="1.5" fill="#f6b526"/><rect x="88.5" y="656.4" width="1.5" height="1.5" fill="#f6b526"/><rect x="95.5" y="657.3" width="1.5" height="1.5" fill="#f6b526"/><rect x="88.0" y="670.1" width="1.5" height="1.5" fill="#f6b526"/><rect x="95.3" y="657.3" width="1.5" height="1.5" fill="#f6b526"/><rect x="94.5" y="656.9" width="1.5" height="1.5" fill="#f6b526"/><rect x="86.2" y="671.3" width="1.5" height="1.5" fill="#f6b526"/><rect x="75.3" y="664.8" width="1.5" height="1.5" fill="#f6b526"/><rect x="95.3" y="662.8" width="1.5" height="1.5" fill="#f6b526"/><rect x="80.7" y="670.8" width="1.5" height="1.5" fill="#f6b526"/><rect x="84.9" y="671.4" width="1.5" height="1.5" fill="#f6b526"/><rect x="96.3" y="660.5" width="1.5" height="1.5" fill="#f6b526"/><rect x="76.4" y="666.9" width="1.5" height="1.5" fill="#f6b526"/><rect x="87.3" y="670.2" width="1.5" height="1.5" fill="#f6b526"/><rect x="76.0" y="661.3" width="1.5" height="1.5" fill="#f6b526"/><rect x="95.6" y="658.4" width="1.5" height="1.5" fill="#f6b526"/><rect x="88.7" y="668.8" width="1.5" height="1.5" fill="#f6b526"/><rect x="83.5" y="657.4" width="1.5" height="1.5" fill="#f6b526"/><rect x="85.9" y="670.7" width="1.5" height="1.5" fill="#f6b526"/><rect x="78.0" y="659.3" width="1.5" height="1.5" fill="#f6b526"/><rect x="80.3" y="658.1" width="1.5" height="1.5" fill="#f6b526"/><rect x="90.7" y="666.4" width="1.5" height="1.5" fill="#f6b526"/><rect x="94.7" y="657.9" width="1.5" height="1.5" fill="#f6b526"/><rect x="75.9" y="664.8" width="1.5" height="1.5" fill="#f6b526"/><rect x="94.9" y="658.1" width="1.5" height="1.5" fill="#f6b526"/><rect x="76.8" y="660.7" width="1.5" height="1.5" fill="#f6b526"/><rect x="79.5" y="669.3" width="1.5" height="1.5" fill="#f6b526"/><rect x="77.0" y="666.9" width="1.5" height="1.5" fill="#f6b526"/><rect x="76.0" y="664.4" width="1.5" height="1.5" fill="#f6b526"/><rect x="79.8" y="669.4" width="1.5" height="1.5" fill="#f6b526"/><rect x="85.8" y="670.4" width="1.5" height="1.5" fill="#f6b526"/><rect x="79.3" y="668.9" width="1.5" height="1.5" fill="#f6b526"/><rect x="89.0" y="657.3" width="1.5" height="1.5" fill="#f6b526"/><rect x="76.4" y="661.8" width="1.5" height="1.5" fill="#f6b526"/><rect x="91.6" y="665.1" width="1.5" height="1.5" fill="#f6b526"/><rect x="80.9" y="669.7" width="1.5" height="1.5" fill="#f6b526"/><rect x="90.8" y="665.8" width="1.5" height="1.5" fill="#f6b526"/><rect x="77.8" y="660.0" width="1.5" height="1.5" fill="#f6b526"/><rect x="88.6" y="668.0" width="1.5" height="1.5" fill="#f6b526"/><rect x="94.6" y="658.8" width="1.5" height="1.5" fill="#f6b526"/><rect x="94.2" y="658.4" width="1.5" height="1.5" fill="#f6b526"/><rect x="90.5" y="657.6" width="1.5" height="1.5" fill="#f6b526"/><rect x="94.5" y="661.7" width="1.5" height="1.5" fill="#f6b526"/><rect x="83.3" y="670.2" width="1.5" height="1.5" fill="#f9e24e"/><rect x="76.5" y="663.1" width="1.5" height="1.5" fill="#f9e24e"/><rect x="86.5" y="669.4" width="1.5" height="1.5" fill="#f9e24e"/><rect x="84.3" y="670.1" width="1.5" height="1.5" fill="#f9e24e"/><rect x="88.8" y="667.4" width="1.5" height="1.5" fill="#f9e24e"/><rect x="81.8" y="658.4" width="1.5" height="1.5" fill="#f9e24e"/><rect x="77.1" y="665.3" width="1.5" height="1.5" fill="#f9e24e"/><rect x="77.8" y="660.7" width="1.5" height="1.5" fill="#f9e24e"/><rect x="85.1" y="669.7" width="1.5" height="1.5" fill="#f9e24e"/><rect x="93.4" y="662.1" width="1.5" height="1.5" fill="#f9e24e"/><rect x="93.6" y="659.3" width="1.5" height="1.5" fill="#f9e24e"/><rect x="93.0" y="658.8" width="1.5" height="1.5" fill="#f9e24e"/><rect x="93.4" y="659.1" width="1.5" height="1.5" fill="#f9e24e"/><rect x="78.7" y="660.0" width="1.5" height="1.5" fill="#f9e24e"/><rect x="76.9" y="663.3" width="1.5" height="1.5" fill="#f9e24e"/><rect x="89.9" y="658.2" width="1.5" height="1.5" fill="#f9e24e"/><rect x="84.1" y="669.7" width="1.5" height="1.5" fill="#f9e24e"/><rect x="91.0" y="664.4" width="1.5" height="1.5" fill="#f9e24e"/><rect x="90.8" y="658.4" width="1.5" height="1.5" fill="#f9e24e"/><rect x="79.5" y="659.6" width="1.5" height="1.5" fill="#f9e24e"/><rect x="93.5" y="660.9" width="1.5" height="1.5" fill="#f9e24e"/><rect x="93.6" y="660.4" width="1.5" height="1.5" fill="#f9e24e"/><rect x="80.4" y="668.3" width="1.5" height="1.5" fill="#f9e24e"/><rect x="91.4" y="658.6" width="1.5" height="1.5" fill="#f9e24e"/><rect x="83.9" y="658.4" width="1.5" height="1.5" fill="#f9e24e"/><rect x="82.3" y="669.1" width="1.5" height="1.5" fill="#f9e24e"/><rect x="88.7" y="666.7" width="1.5" height="1.5" fill="#f9e24e"/><rect x="93.2" y="660.3" width="1.5" height="1.5" fill="#f9e24e"/><rect x="82.0" y="668.9" width="1.5" height="1.5" fill="#f9e24e"/><rect x="92.9" y="661.5" width="1.5" height="1.5" fill="#f9e24e"/><rect x="77.5" y="662.3" width="1.5" height="1.5" fill="#f9e24e"/><rect x="83.9" y="658.6" width="1.5" height="1.5" fill="#f9e24e"/><rect x="92.8" y="661.4" width="1.5" height="1.5" fill="#f9e24e"/><rect x="88.3" y="666.9" width="1.5" height="1.5" fill="#f9e24e"/><rect x="87.9" y="658.7" width="1.5" height="1.5" fill="#f9e24e"/><rect x="90.8" y="663.8" width="1.5" height="1.5" fill="#f9e24e"/><rect x="86.2" y="668.3" width="1.5" height="1.5" fill="#f9e24e"/><rect x="92.1" y="660.4" width="1.5" height="1.5" fill="#f9e24e"/><rect x="89.0" y="659.1" width="1.5" height="1.5" fill="#f9e24e"/><rect x="77.9" y="662.5" width="1.5" height="1.5" fill="#f9e24e"/><rect x="87.6" y="659.0" width="1.5" height="1.5" fill="#f9e24e"/><rect x="85.1" y="668.6" width="1.5" height="1.5" fill="#f9e24e"/><rect x="88.8" y="665.9" width="1.5" height="1.5" fill="#f9e24e"/><rect x="87.7" y="659.1" width="1.5" height="1.5" fill="#f9e24e"/><rect x="78.1" y="664.2" width="1.5" height="1.5" fill="#f9e24e"/><rect x="84.5" y="659.0" width="1.5" height="1.5" fill="#f9e24e"/><rect x="91.5" y="661.8" width="1.5" height="1.5" fill="#f9e24e"/><rect x="91.5" y="661.7" width="1.5" height="1.5" fill="#f9e24e"/><rect x="91.2" y="661.7" width="1.5" height="1.5" fill="#f9e24e"/><rect x="85.8" y="659.3" width="1.5" height="1.5" fill="#f9e24e"/><rect x="88.6" y="659.7" width="1.5" height="1.5" fill="#f9e24e"/><rect x="82.5" y="659.6" width="1.5" height="1.5" fill="#f9e24e"/><rect x="80.9" y="667.0" width="1.5" height="1.5" fill="#f9e24e"/><rect x="81.5" y="659.9" width="1.5" height="1.5" fill="#f9e24e"/><rect x="83.7" y="668.0" width="1.5" height="1.5" fill="#f9e24e"/><rect x="90.2" y="662.3" width="1.5" height="1.5" fill="#f9e24e"/><rect x="84.0" y="667.9" width="1.5" height="1.5" fill="#f9e24e"/><rect x="79.4" y="661.4" width="1.5" height="1.5" fill="#f9e24e"/><rect x="79.1" y="664.8" width="1.5" height="1.5" fill="#f9e24e"/><rect x="78.9" y="662.5" width="1.5" height="1.5" fill="#f9e24e"/><rect x="89.9" y="662.6" width="1.5" height="1.5" fill="#f9e24e"/><rect x="79.0" y="662.1" width="1.5" height="1.5" fill="#f9e24e"/><rect x="83.6" y="667.7" width="1.5" height="1.5" fill="#f9e24e"/><rect x="89.1" y="663.6" width="1.5" height="1.5" fill="#f9e24e"/><rect x="87.8" y="665.4" width="1.5" height="1.5" fill="#f9e24e"/><rect x="89.3" y="661.4" width="1.5" height="1.5" fill="#f9e24e"/><rect x="79.4" y="662.4" width="1.5" height="1.5" fill="#f9e24e"/><rect x="83.2" y="660.1" width="1.5" height="1.5" fill="#f9e24e"/><rect x="82.6" y="660.2" width="1.5" height="1.5" fill="#f9e24e"/><rect x="88.4" y="664.3" width="1.5" height="1.5" fill="#f9e24e"/><rect x="87.1" y="665.8" width="1.5" height="1.5" fill="#f9e24e"/><rect x="85.3" y="660.1" width="1.5" height="1.5" fill="#f9e24e"/><rect x="82.0" y="666.8" width="1.5" height="1.5" fill="#f9e24e"/><rect x="86.3" y="666.4" width="1.5" height="1.5" fill="#f9e24e"/><rect x="80.0" y="664.8" width="1.5" height="1.5" fill="#f9e24e"/><rect x="82.6" y="660.4" width="1.5" height="1.5" fill="#f9e24e"/><rect x="87.8" y="664.6" width="1.5" height="1.5" fill="#f9e24e"/><rect x="84.8" y="660.3" width="1.5" height="1.5" fill="#f9e24e"/><rect x="87.4" y="661.1" width="1.5" height="1.5" fill="#f9e24e"/><rect x="86.3" y="660.7" width="1.5" height="1.5" fill="#f9e24e"/><rect x="87.8" y="661.6" width="1.5" height="1.5" fill="#f9e24e"/><rect x="80.2" y="662.5" width="1.5" height="1.5" fill="#f9e24e"/><rect x="83.1" y="660.6" width="1.5" height="1.5" fill="#f9e24e"/><rect x="87.4" y="664.4" width="1.5" height="1.5" fill="#f9e24e"/><rect x="83.2" y="666.4" width="1.5" height="1.5" fill="#f9e24e"/><rect x="87.3" y="664.3" width="1.5" height="1.5" fill="#f9e24e"/><rect x="84.5" y="660.7" width="1.5" height="1.5" fill="#f9e24e"/><rect x="84.4" y="666.4" width="1.5" height="1.5" fill="#f9e24e"/><rect x="86.5" y="665.2" width="1.5" height="1.5" fill="#f9e24e"/><rect x="82.7" y="661.0" width="1.5" height="1.5" fill="#f9e24e"/><rect x="80.5" y="662.9" width="1.5" height="1.5" fill="#f9e24e"/><rect x="86.6" y="661.5" width="1.5" height="1.5" fill="#f9e24e"/><rect x="86.9" y="662.0" width="1.5" height="1.5" fill="#f9e24e"/><rect x="81.4" y="664.7" width="1.5" height="1.5" fill="#f9e24e"/><rect x="81.0" y="663.1" width="1.5" height="1.5" fill="#f9e24e"/><rect x="84.6" y="665.6" width="1.5" height="1.5" fill="#f9e24e"/><rect x="82.2" y="665.0" width="1.5" height="1.5" fill="#f9e24e"/><rect x="81.5" y="662.6" width="1.5" height="1.5" fill="#f9e24e"/><rect x="83.4" y="665.5" width="1.5" height="1.5" fill="#f9e24e"/><rect x="86.1" y="662.3" width="1.5" height="1.5" fill="#f9e24e"/><rect x="86.5" y="663.2" width="1.5" height="1.5" fill="#f9e24e"/><rect x="85.1" y="661.7" width="1.5" height="1.5" fill="#f9e24e"/><rect x="82.5" y="665.0" width="1.5" height="1.5" fill="#f9e24e"/><rect x="83.8" y="661.7" width="1.5" height="1.5" fill="#f9e24e"/><rect x="81.6" y="663.5" width="1.5" height="1.5" fill="#f9e24e"/><rect x="82.6" y="662.1" width="1.5" height="1.5" fill="#f9e24e"/><rect x="82.5" y="664.7" width="1.5" height="1.5" fill="#f9e24e"/><rect x="82.5" y="664.7" width="1.5" height="1.5" fill="#f9e24e"/><rect x="85.0" y="662.0" width="1.5" height="1.5" fill="#f9e24e"/><rect x="82.0" y="663.1" width="1.5" height="1.5" fill="#f9e24e"/><rect x="82.1" y="664.0" width="1.5" height="1.5" fill="#f9e24e"/><rect x="83.7" y="662.1" width="1.5" height="1.5" fill="#f9e24e"/><rect x="84.6" y="664.8" width="1.5" height="1.5" fill="#f9e24e"/><rect x="83.2" y="662.4" width="1.5" height="1.5" fill="#f9e24e"/><rect x="82.8" y="663.3" width="1.5" height="1.5" fill="#f9e24e"/><rect x="84.7" y="663.5" width="1.5" height="1.5" fill="#f9e24e"/><rect x="84.6" y="663.6" width="1.5" height="1.5" fill="#f9e24e"/>
<line x1="55.4" y1="679.5" x2="165.0" y2="617.7" stroke="#111" stroke-width="1.0"/>
<line x1="52.10" y1="684.98" x2="55.40" y2="684.98" stroke="#000" stroke-width="1.0" />
<text x="50.10" y="687.88" font-size="8.0" text-anchor="end" font-weight="normal" fill="#231f20" stroke="#231f20" stroke-width="0.18" >2</text>
<line x1="52.10" y1="666.06" x2="55.40" y2="666.06" stroke="#000" stroke-width="1.0" />
<text x="50.10" y="668.96" font-size="8.0" text-anchor="end" font-weight="normal" fill="#231f20" stroke="#231f20" stroke-width="0.18" >4</text>
<line x1="52.10" y1="647.14" x2="55.40" y2="647.14" stroke="#000" stroke-width="1.0" />
<text x="50.10" y="650.04" font-size="8.0" text-anchor="end" font-weight="normal" fill="#231f20" stroke="#231f20" stroke-width="0.18" >6</text>
<line x1="52.10" y1="628.22" x2="55.40" y2="628.22" stroke="#000" stroke-width="1.0" />
<text x="50.10" y="631.12" font-size="8.0" text-anchor="end" font-weight="normal" fill="#231f20" stroke="#231f20" stroke-width="0.18" >8</text>
<line x1="52.10" y1="609.30" x2="55.40" y2="609.30" stroke="#000" stroke-width="1.0" />
<text x="50.10" y="612.20" font-size="8.0" text-anchor="end" font-weight="normal" fill="#231f20" stroke="#231f20" stroke-width="0.18" >10</text>
<line x1="52.10" y1="590.38" x2="55.40" y2="590.38" stroke="#000" stroke-width="1.0" />
<text x="50.10" y="593.28" font-size="8.0" text-anchor="end" font-weight="normal" fill="#231f20" stroke="#231f20" stroke-width="0.18" >12</text>
<line x1="63.00" y1="693.80" x2="63.00" y2="697.00" stroke="#000" stroke-width="1.0" />
<text x="63.00" y="707.00" font-size="8.0" text-anchor="middle" font-weight="normal" fill="#231f20" stroke="#231f20" stroke-width="0.18" >0</text>
<line x1="80.50" y1="693.80" x2="80.50" y2="697.00" stroke="#000" stroke-width="1.0" />
<text x="80.50" y="707.00" font-size="8.0" text-anchor="middle" font-weight="normal" fill="#231f20" stroke="#231f20" stroke-width="0.18" >2</text>
<line x1="98.00" y1="693.80" x2="98.00" y2="697.00" stroke="#000" stroke-width="1.0" />
<text x="98.00" y="707.00" font-size="8.0" text-anchor="middle" font-weight="normal" fill="#231f20" stroke="#231f20" stroke-width="0.18" >4</text>
<line x1="115.50" y1="693.80" x2="115.50" y2="697.00" stroke="#000" stroke-width="1.0" />
<text x="115.50" y="707.00" font-size="8.0" text-anchor="middle" font-weight="normal" fill="#231f20" stroke="#231f20" stroke-width="0.18" >6</text>
<line x1="133.00" y1="693.80" x2="133.00" y2="697.00" stroke="#000" stroke-width="1.0" />
<text x="133.00" y="707.00" font-size="8.0" text-anchor="middle" font-weight="normal" fill="#231f20" stroke="#231f20" stroke-width="0.18" >8</text>
<line x1="150.50" y1="693.80" x2="150.50" y2="697.00" stroke="#000" stroke-width="1.0" />
<text x="150.50" y="707.00" font-size="8.0" text-anchor="middle" font-weight="normal" fill="#231f20" stroke="#231f20" stroke-width="0.18" >10</text>
<rect x="55.40" y="589.70" width="109.60" height="104.10" fill="none" stroke="#000" stroke-width="1.3"/>
<text x="61.2" y="600.2" font-size="7.9" fill="#231f20"><tspan font-style="italic">r</tspan><tspan font-size="5.2" dy="1.8">s</tspan><tspan dy="-1.8"> = 0.58</tspan></text>
<text x="61.30" y="608.40" font-size="7.9" text-anchor="start" font-weight="normal" fill="#231f20" stroke="#231f20" stroke-width="0.1" textLength="40.7" lengthAdjust="spacingAndGlyphs" >p = 1.09e-56</text>
<text x="110.30" y="720.50" font-size="9.3" text-anchor="middle" font-weight="normal" fill="#231f20" stroke="#231f20" stroke-width="0.18" textLength="24.5" lengthAdjust="spacingAndGlyphs" >Healthy</text>
<text x="110.30" y="731.30" font-size="8.8" text-anchor="middle" font-weight="bold" fill="#231f20" textLength="24.5" lengthAdjust="spacingAndGlyphs" >Human</text>
<text transform="translate(24.20,642.00) rotate(-90)" x="0" y="0" font-size="9.7" text-anchor="middle" font-weight="bold" fill="#231f20" textLength="23.1" lengthAdjust="spacingAndGlyphs">Mouse</text>
<text transform="translate(35.30,641.90) rotate(-90)" x="0" y="0" font-size="9.2" text-anchor="middle" font-weight="normal" fill="#231f20" stroke="#231f20" stroke-width="0.18" textLength="25.0" lengthAdjust="spacingAndGlyphs">Control</text>
<rect x="370.7" y="619.5" width="1.3" height="1.3" fill="#9c9cd2"/><rect x="382.7" y="637.2" width="1.3" height="1.3" fill="#9c9cd2"/><rect x="310.8" y="610.5" width="1.3" height="1.3" fill="#9c9cd2"/><rect x="376.4" y="640.7" width="1.3" height="1.3" fill="#9c9cd2"/><rect x="353.8" y="673.4" width="1.3" height="1.3" fill="#9c9cd2"/><rect x="365.6" y="634.5" width="1.3" height="1.3" fill="#9c9cd2"/><rect x="361.2" y="612.9" width="1.3" height="1.3" fill="#9c9cd2"/><rect x="367.5" y="607.9" width="1.3" height="1.3" fill="#9c9cd2"/><rect x="383.0" y="596.3" width="1.3" height="1.3" fill="#9c9cd2"/><rect x="357.2" y="605.7" width="1.3" height="1.3" fill="#9c9cd2"/><rect x="325.5" y="612.0" width="1.3" height="1.3" fill="#9c9cd2"/><rect x="343.3" y="599.2" width="1.3" height="1.3" fill="#9c9cd2"/><rect x="379.8" y="594.9" width="1.3" height="1.3" fill="#9c9cd2"/><rect x="367.2" y="600.7" width="1.3" height="1.3" fill="#9c9cd2"/><rect x="345.2" y="601.0" width="1.3" height="1.3" fill="#9c9cd2"/><rect x="311.7" y="618.1" width="1.3" height="1.3" fill="#9c9cd2"/><rect x="374.6" y="598.3" width="1.3" height="1.3" fill="#9c9cd2"/><rect x="352.3" y="606.8" width="1.3" height="1.3" fill="#9c9cd2"/><rect x="370.3" y="598.4" width="1.3" height="1.3" fill="#9c9cd2"/><rect x="358.4" y="624.4" width="1.3" height="1.3" fill="#9c9cd2"/><rect x="303.2" y="630.0" width="1.3" height="1.3" fill="#9c9cd2"/><rect x="341.5" y="606.5" width="1.3" height="1.3" fill="#9c9cd2"/><rect x="356.5" y="625.4" width="1.3" height="1.3" fill="#9c9cd2"/><rect x="359.4" y="637.1" width="1.3" height="1.3" fill="#9c9cd2"/><rect x="290.2" y="635.4" width="1.3" height="1.3" fill="#9c9cd2"/><rect x="353.0" y="653.6" width="1.3" height="1.3" fill="#9c9cd2"/><rect x="346.2" y="610.8" width="1.3" height="1.3" fill="#9c9cd2"/><rect x="285.2" y="691.6" width="1.3" height="1.3" fill="#9c9cd2"/><rect x="344.7" y="670.5" width="1.3" height="1.3" fill="#9c9cd2"/><rect x="285.6" y="640.5" width="1.3" height="1.3" fill="#9c9cd2"/><rect x="331.8" y="686.8" width="1.3" height="1.3" fill="#9c9cd2"/><rect x="348.1" y="614.1" width="1.3" height="1.3" fill="#9c9cd2"/><rect x="352.2" y="655.0" width="1.3" height="1.3" fill="#9c9cd2"/><rect x="352.0" y="663.6" width="1.3" height="1.3" fill="#9c9cd2"/><rect x="338.0" y="614.3" width="1.3" height="1.3" fill="#9c9cd2"/><rect x="298.5" y="636.6" width="1.3" height="1.3" fill="#9c9cd2"/><rect x="351.3" y="621.8" width="1.3" height="1.3" fill="#9c9cd2"/><rect x="283.1" y="655.2" width="1.3" height="1.3" fill="#9c9cd2"/><rect x="287.8" y="640.9" width="1.3" height="1.3" fill="#9c9cd2"/><rect x="282.8" y="665.0" width="1.3" height="1.3" fill="#9c9cd2"/><rect x="350.4" y="629.1" width="1.3" height="1.3" fill="#9c9cd2"/><rect x="355.1" y="640.1" width="1.3" height="1.3" fill="#9c9cd2"/><rect x="350.5" y="662.7" width="1.3" height="1.3" fill="#9c9cd2"/><rect x="287.5" y="650.4" width="1.3" height="1.3" fill="#9c9cd2"/><rect x="336.9" y="673.5" width="1.3" height="1.3" fill="#9c9cd2"/><rect x="347.1" y="618.1" width="1.3" height="1.3" fill="#9c9cd2"/><rect x="289.3" y="641.4" width="1.3" height="1.3" fill="#9c9cd2"/><rect x="331.1" y="683.6" width="1.3" height="1.3" fill="#9c9cd2"/><rect x="282.9" y="661.0" width="1.3" height="1.3" fill="#9c9cd2"/><rect x="354.6" y="638.4" width="1.3" height="1.3" fill="#9c9cd2"/><rect x="339.0" y="617.1" width="1.3" height="1.3" fill="#9c9cd2"/><rect x="337.8" y="617.4" width="1.3" height="1.3" fill="#9c9cd2"/><rect x="289.8" y="644.9" width="1.3" height="1.3" fill="#9c9cd2"/><rect x="342.0" y="668.3" width="1.3" height="1.3" fill="#9c9cd2"/><rect x="350.4" y="644.8" width="1.3" height="1.3" fill="#9c9cd2"/><rect x="348.4" y="658.6" width="1.3" height="1.3" fill="#9c9cd2"/><rect x="322.3" y="619.7" width="1.3" height="1.3" fill="#9c9cd2"/><rect x="346.0" y="620.9" width="1.3" height="1.3" fill="#9c9cd2"/><rect x="330.3" y="619.8" width="1.3" height="1.3" fill="#9c9cd2"/><rect x="346.0" y="663.4" width="1.3" height="1.3" fill="#9c9cd2"/><rect x="347.7" y="659.4" width="1.3" height="1.3" fill="#9c9cd2"/><rect x="285.2" y="656.7" width="1.3" height="1.3" fill="#9c9cd2"/><rect x="290.4" y="690.8" width="1.3" height="1.3" fill="#9c9cd2"/><rect x="309.8" y="630.5" width="1.3" height="1.3" fill="#9c9cd2"/><rect x="322.6" y="620.5" width="1.3" height="1.3" fill="#9c9cd2"/><rect x="318.5" y="690.0" width="1.3" height="1.3" fill="#9c9cd2"/><rect x="327.6" y="620.4" width="1.3" height="1.3" fill="#9c9cd2"/><rect x="316.4" y="691.0" width="1.3" height="1.3" fill="#9c9cd2"/><rect x="314.4" y="624.8" width="1.3" height="1.3" fill="#9c9cd2"/><rect x="294.7" y="642.7" width="1.3" height="1.3" fill="#9c9cd2"/><rect x="335.4" y="621.1" width="1.3" height="1.3" fill="#9c9cd2"/><rect x="345.5" y="622.7" width="1.3" height="1.3" fill="#9c9cd2"/><rect x="345.5" y="658.5" width="1.3" height="1.3" fill="#9c9cd2"/><rect x="287.3" y="654.8" width="1.3" height="1.3" fill="#9c9cd2"/><rect x="351.0" y="638.6" width="1.3" height="1.3" fill="#9c9cd2"/><rect x="314.6" y="625.3" width="1.3" height="1.3" fill="#9c9cd2"/><rect x="331.2" y="622.4" width="1.3" height="1.3" fill="#9c9cd2"/><rect x="324.7" y="621.7" width="1.3" height="1.3" fill="#9c9cd2"/><rect x="345.4" y="625.5" width="1.3" height="1.3" fill="#9c9cd2"/><rect x="297.7" y="642.4" width="1.3" height="1.3" fill="#9c9cd2"/><rect x="350.1" y="639.1" width="1.3" height="1.3" fill="#9c9cd2"/><rect x="327.2" y="684.6" width="1.3" height="1.3" fill="#9c9cd2"/><rect x="296.1" y="643.8" width="1.3" height="1.3" fill="#9c9cd2"/><rect x="289.8" y="689.1" width="1.3" height="1.3" fill="#9c9cd2"/><rect x="282.4" y="681.5" width="1.3" height="1.3" fill="#9c9cd2"/><rect x="345.0" y="628.8" width="1.3" height="1.3" fill="#9c9cd2"/><rect x="299.7" y="642.4" width="1.3" height="1.3" fill="#9c9cd2"/><rect x="284.8" y="672.7" width="1.3" height="1.3" fill="#28239a"/><rect x="326.5" y="683.9" width="1.3" height="1.3" fill="#28239a"/><rect x="339.3" y="666.0" width="1.3" height="1.3" fill="#28239a"/><rect x="315.3" y="627.2" width="1.3" height="1.3" fill="#28239a"/><rect x="347.9" y="639.8" width="1.3" height="1.3" fill="#28239a"/><rect x="319.8" y="624.5" width="1.3" height="1.3" fill="#28239a"/><rect x="322.1" y="686.4" width="1.3" height="1.3" fill="#28239a"/><rect x="334.0" y="671.4" width="1.3" height="1.3" fill="#28239a"/><rect x="324.9" y="684.7" width="1.3" height="1.3" fill="#28239a"/><rect x="283.8" y="683.2" width="1.3" height="1.3" fill="#28239a"/><rect x="342.1" y="626.3" width="1.3" height="1.3" fill="#28239a"/><rect x="347.2" y="639.3" width="1.3" height="1.3" fill="#28239a"/><rect x="345.3" y="645.7" width="1.3" height="1.3" fill="#28239a"/><rect x="328.4" y="625.7" width="1.3" height="1.3" fill="#28239a"/><rect x="335.0" y="625.8" width="1.3" height="1.3" fill="#28239a"/><rect x="340.0" y="625.6" width="1.3" height="1.3" fill="#28239a"/><rect x="309.7" y="634.2" width="1.3" height="1.3" fill="#28239a"/><rect x="320.4" y="625.2" width="1.3" height="1.3" fill="#28239a"/><rect x="346.4" y="641.7" width="1.3" height="1.3" fill="#28239a"/><rect x="327.3" y="678.3" width="1.3" height="1.3" fill="#28239a"/><rect x="283.6" y="678.3" width="1.3" height="1.3" fill="#28239a"/><rect x="325.6" y="682.3" width="1.3" height="1.3" fill="#28239a"/><rect x="345.0" y="638.7" width="1.3" height="1.3" fill="#28239a"/><rect x="340.8" y="659.3" width="1.3" height="1.3" fill="#28239a"/><rect x="287.6" y="663.0" width="1.3" height="1.3" fill="#28239a"/><rect x="300.2" y="691.6" width="1.3" height="1.3" fill="#28239a"/><rect x="343.2" y="634.9" width="1.3" height="1.3" fill="#28239a"/><rect x="340.9" y="628.5" width="1.3" height="1.3" fill="#28239a"/><rect x="304.0" y="642.0" width="1.3" height="1.3" fill="#28239a"/><rect x="316.9" y="628.8" width="1.3" height="1.3" fill="#28239a"/><rect x="284.2" y="680.8" width="1.3" height="1.3" fill="#28239a"/><rect x="324.2" y="627.6" width="1.3" height="1.3" fill="#28239a"/><rect x="337.4" y="665.3" width="1.3" height="1.3" fill="#28239a"/><rect x="312.0" y="690.2" width="1.3" height="1.3" fill="#28239a"/><rect x="337.9" y="628.8" width="1.3" height="1.3" fill="#28239a"/><rect x="339.9" y="659.4" width="1.3" height="1.3" fill="#28239a"/><rect x="340.6" y="631.0" width="1.3" height="1.3" fill="#28239a"/><rect x="332.9" y="629.5" width="1.3" height="1.3" fill="#28239a"/><rect x="319.4" y="629.0" width="1.3" height="1.3" fill="#28239a"/><rect x="296.7" y="648.5" width="1.3" height="1.3" fill="#28239a"/><rect x="309.5" y="690.9" width="1.3" height="1.3" fill="#28239a"/><rect x="340.9" y="636.0" width="1.3" height="1.3" fill="#28239a"/><rect x="337.3" y="630.5" width="1.3" height="1.3" fill="#28239a"/><rect x="330.6" y="630.4" width="1.3" height="1.3" fill="#28239a"/><rect x="285.6" y="682.1" width="1.3" height="1.3" fill="#28239a"/><rect x="322.1" y="683.4" width="1.3" height="1.3" fill="#28239a"/><rect x="325.5" y="678.4" width="1.3" height="1.3" fill="#28239a"/><rect x="288.8" y="662.8" width="1.3" height="1.3" fill="#28239a"/><rect x="341.7" y="639.2" width="1.3" height="1.3" fill="#28239a"/><rect x="338.1" y="631.7" width="1.3" height="1.3" fill="#28239a"/><rect x="337.7" y="663.0" width="1.3" height="1.3" fill="#28239a"/><rect x="285.5" y="677.3" width="1.3" height="1.3" fill="#28239a"/><rect x="337.7" y="631.9" width="1.3" height="1.3" fill="#28239a"/><rect x="322.7" y="629.6" width="1.3" height="1.3" fill="#28239a"/><rect x="308.5" y="690.9" width="1.3" height="1.3" fill="#28239a"/><rect x="339.2" y="635.3" width="1.3" height="1.3" fill="#28239a"/><rect x="318.9" y="684.8" width="1.3" height="1.3" fill="#28239a"/><rect x="332.9" y="669.6" width="1.3" height="1.3" fill="#28239a"/><rect x="295.1" y="688.3" width="1.3" height="1.3" fill="#28239a"/><rect x="342.1" y="645.8" width="1.3" height="1.3" fill="#28239a"/><rect x="286.5" y="682.2" width="1.3" height="1.3" fill="#28239a"/><rect x="305.1" y="691.0" width="1.3" height="1.3" fill="#28239a"/><rect x="307.6" y="640.7" width="1.3" height="1.3" fill="#28239a"/><rect x="335.5" y="634.0" width="1.3" height="1.3" fill="#28239a"/><rect x="304.9" y="690.8" width="1.3" height="1.3" fill="#28239a"/><rect x="319.0" y="631.6" width="1.3" height="1.3" fill="#28239a"/><rect x="330.9" y="670.9" width="1.3" height="1.3" fill="#28239a"/><rect x="341.4" y="644.6" width="1.3" height="1.3" fill="#28239a"/><rect x="338.4" y="657.6" width="1.3" height="1.3" fill="#28239a"/><rect x="328.9" y="632.3" width="1.3" height="1.3" fill="#28239a"/><rect x="323.7" y="631.5" width="1.3" height="1.3" fill="#28239a"/><rect x="286.6" y="678.5" width="1.3" height="1.3" fill="#28239a"/><rect x="290.4" y="684.7" width="1.3" height="1.3" fill="#28239a"/><rect x="338.1" y="639.2" width="1.3" height="1.3" fill="#28239a"/><rect x="308.2" y="689.9" width="1.3" height="1.3" fill="#28239a"/><rect x="311.5" y="637.2" width="1.3" height="1.3" fill="#28239a"/><rect x="340.4" y="648.6" width="1.3" height="1.3" fill="#28239a"/><rect x="293.5" y="686.2" width="1.3" height="1.3" fill="#28239a"/><rect x="331.8" y="634.6" width="1.3" height="1.3" fill="#28239a"/><rect x="327.5" y="633.4" width="1.3" height="1.3" fill="#28239a"/><rect x="289.6" y="683.3" width="1.3" height="1.3" fill="#28239a"/><rect x="315.5" y="634.7" width="1.3" height="1.3" fill="#28239a"/><rect x="321.8" y="680.5" width="1.3" height="1.3" fill="#28239a"/><rect x="309.7" y="640.0" width="1.3" height="1.3" fill="#28239a"/><rect x="329.7" y="634.6" width="1.3" height="1.3" fill="#28239a"/><rect x="322.2" y="633.5" width="1.3" height="1.3" fill="#28239a"/><rect x="288.4" y="674.4" width="1.3" height="1.3" fill="#28239a"/><rect x="325.8" y="633.8" width="1.3" height="1.3" fill="#28239a"/><rect x="317.8" y="634.3" width="1.3" height="1.3" fill="#28239a"/><rect x="291.7" y="658.8" width="1.3" height="1.3" fill="#28239a"/><rect x="313.1" y="636.9" width="1.3" height="1.3" fill="#28239a"/><rect x="335.9" y="638.8" width="1.3" height="1.3" fill="#28239a"/><rect x="291.0" y="661.5" width="1.3" height="1.3" fill="#28239a"/><rect x="306.1" y="644.5" width="1.3" height="1.3" fill="#28239a"/><rect x="290.8" y="664.2" width="1.3" height="1.3" fill="#28239a"/><rect x="324.5" y="633.8" width="1.3" height="1.3" fill="#28239a"/><rect x="302.7" y="647.1" width="1.3" height="1.3" fill="#28239a"/><rect x="339.4" y="645.5" width="1.3" height="1.3" fill="#28239a"/><rect x="334.6" y="638.3" width="1.3" height="1.3" fill="#28239a"/><rect x="338.6" y="651.1" width="1.3" height="1.3" fill="#28239a"/><rect x="312.6" y="638.1" width="1.3" height="1.3" fill="#28239a"/><rect x="293.0" y="656.9" width="1.3" height="1.3" fill="#28239a"/><rect x="313.3" y="685.7" width="1.3" height="1.3" fill="#28239a"/><rect x="297.8" y="687.3" width="1.3" height="1.3" fill="#28239a"/><rect x="316.9" y="635.8" width="1.3" height="1.3" fill="#28239a"/><rect x="289.2" y="680.4" width="1.3" height="1.3" fill="#28239a"/><rect x="291.4" y="664.7" width="1.3" height="1.3" fill="#28239a"/><rect x="288.8" y="678.7" width="1.3" height="1.3" fill="#28239a"/><rect x="289.8" y="672.6" width="1.3" height="1.3" fill="#28239a"/><rect x="294.5" y="655.2" width="1.3" height="1.3" fill="#28239a"/><rect x="337.6" y="652.3" width="1.3" height="1.3" fill="#28239a"/><rect x="329.4" y="670.1" width="1.3" height="1.3" fill="#28239a"/><rect x="315.5" y="636.8" width="1.3" height="1.3" fill="#28239a"/><rect x="330.6" y="636.8" width="1.3" height="1.3" fill="#28239a"/><rect x="302.0" y="648.4" width="1.3" height="1.3" fill="#28239a"/><rect x="300.0" y="687.8" width="1.3" height="1.3" fill="#28239a"/><rect x="292.0" y="683.1" width="1.3" height="1.3" fill="#28239a"/><rect x="336.8" y="653.4" width="1.3" height="1.3" fill="#28239a"/><rect x="337.9" y="645.0" width="1.3" height="1.3" fill="#28239a"/><rect x="335.1" y="658.1" width="1.3" height="1.3" fill="#28239a"/><rect x="315.6" y="637.7" width="1.3" height="1.3" fill="#28239a"/><rect x="337.3" y="644.6" width="1.3" height="1.3" fill="#28239a"/><rect x="335.5" y="656.0" width="1.3" height="1.3" fill="#28239a"/><rect x="311.1" y="641.7" width="1.3" height="1.3" fill="#28239a"/><rect x="337.2" y="650.6" width="1.3" height="1.3" fill="#28239a"/><rect x="333.0" y="664.3" width="1.3" height="1.3" fill="#28239a"/><rect x="298.5" y="686.5" width="1.3" height="1.3" fill="#28239a"/><rect x="309.6" y="643.7" width="1.3" height="1.3" fill="#28239a"/><rect x="317.4" y="681.3" width="1.3" height="1.3" fill="#28239a"/><rect x="334.6" y="657.7" width="1.3" height="1.3" fill="#28239a"/><rect x="291.2" y="680.8" width="1.3" height="1.3" fill="#28239a"/><rect x="337.1" y="649.4" width="1.3" height="1.3" fill="#28239a"/><rect x="312.9" y="684.2" width="1.3" height="1.3" fill="#28239a"/><rect x="324.8" y="637.0" width="1.3" height="1.3" fill="#28239a"/><rect x="336.7" y="646.6" width="1.3" height="1.3" fill="#28239a"/><rect x="309.1" y="686.3" width="1.3" height="1.3" fill="#28239a"/><rect x="336.1" y="645.1" width="1.3" height="1.3" fill="#28239a"/><rect x="313.8" y="640.6" width="1.3" height="1.3" fill="#28239a"/><rect x="333.6" y="659.7" width="1.3" height="1.3" fill="#28239a"/><rect x="329.8" y="638.8" width="1.3" height="1.3" fill="#28239a"/><rect x="298.3" y="652.8" width="1.3" height="1.3" fill="#28239a"/><rect x="293.2" y="663.3" width="1.3" height="1.3" fill="#28239a"/><rect x="336.1" y="648.8" width="1.3" height="1.3" fill="#28239a"/><rect x="303.9" y="686.9" width="1.3" height="1.3" fill="#28239a"/><rect x="335.4" y="645.1" width="1.3" height="1.3" fill="#28239a"/><rect x="322.8" y="637.7" width="1.3" height="1.3" fill="#28239a"/><rect x="332.1" y="640.9" width="1.3" height="1.3" fill="#28239a"/><rect x="317.1" y="639.2" width="1.3" height="1.3" fill="#28239a"/><rect x="335.9" y="649.2" width="1.3" height="1.3" fill="#28239a"/><rect x="306.2" y="686.7" width="1.3" height="1.3" fill="#28239a"/><rect x="313.4" y="641.8" width="1.3" height="1.3" fill="#28239a"/><rect x="319.2" y="638.5" width="1.3" height="1.3" fill="#28239a"/><rect x="335.7" y="646.5" width="1.3" height="1.3" fill="#28239a"/><rect x="307.1" y="647.3" width="1.3" height="1.3" fill="#28239a"/><rect x="298.5" y="653.1" width="1.3" height="1.3" fill="#28239a"/><rect x="332.0" y="641.2" width="1.3" height="1.3" fill="#28239a"/><rect x="298.2" y="684.9" width="1.3" height="1.3" fill="#28239a"/><rect x="301.2" y="651.3" width="1.3" height="1.3" fill="#28239a"/><rect x="292.7" y="669.9" width="1.3" height="1.3" fill="#28239a"/><rect x="300.0" y="685.5" width="1.3" height="1.3" fill="#28239a"/><rect x="291.8" y="678.1" width="1.3" height="1.3" fill="#28239a"/><rect x="316.0" y="640.8" width="1.3" height="1.3" fill="#28239a"/><rect x="297.6" y="654.8" width="1.3" height="1.3" fill="#28239a"/><rect x="317.9" y="678.9" width="1.3" height="1.3" fill="#28239a"/><rect x="315.9" y="641.2" width="1.3" height="1.3" fill="#28239a"/><rect x="292.5" y="679.1" width="1.3" height="1.3" fill="#28239a"/><rect x="305.1" y="685.9" width="1.3" height="1.3" fill="#28239a"/><rect x="306.8" y="685.6" width="1.3" height="1.3" fill="#28239a"/><rect x="312.0" y="682.8" width="1.3" height="1.3" fill="#28239a"/><rect x="330.3" y="665.5" width="1.3" height="1.3" fill="#28239a"/><rect x="302.5" y="685.6" width="1.3" height="1.3" fill="#28239a"/><rect x="319.4" y="677.2" width="1.3" height="1.3" fill="#28239a"/><rect x="334.5" y="648.9" width="1.3" height="1.3" fill="#28239a"/><rect x="300.3" y="652.6" width="1.3" height="1.3" fill="#28239a"/><rect x="331.7" y="661.2" width="1.3" height="1.3" fill="#28239a"/><rect x="321.8" y="639.4" width="1.3" height="1.3" fill="#28239a"/><rect x="332.9" y="644.0" width="1.3" height="1.3" fill="#28239a"/><rect x="310.1" y="646.4" width="1.3" height="1.3" fill="#28239a"/><rect x="332.0" y="658.6" width="1.3" height="1.3" fill="#28239a"/><rect x="292.3" y="675.2" width="1.3" height="1.3" fill="#28239a"/><rect x="318.2" y="640.8" width="1.3" height="1.3" fill="#28239a"/><rect x="296.9" y="656.7" width="1.3" height="1.3" fill="#28239a"/><rect x="331.0" y="642.2" width="1.3" height="1.3" fill="#28239a"/><rect x="295.8" y="659.0" width="1.3" height="1.3" fill="#28239a"/><rect x="311.8" y="682.3" width="1.3" height="1.3" fill="#28239a"/><rect x="310.3" y="683.2" width="1.3" height="1.3" fill="#28239a"/><rect x="298.2" y="683.6" width="1.3" height="1.3" fill="#28239a"/><rect x="311.4" y="645.8" width="1.3" height="1.3" fill="#28239a"/><rect x="295.6" y="659.7" width="1.3" height="1.3" fill="#28239a"/><rect x="318.0" y="677.9" width="1.3" height="1.3" fill="#28239a"/><rect x="302.6" y="651.5" width="1.3" height="1.3" fill="#28239a"/><rect x="314.9" y="643.3" width="1.3" height="1.3" fill="#28239a"/><rect x="316.8" y="678.8" width="1.3" height="1.3" fill="#28239a"/><rect x="292.6" y="675.2" width="1.3" height="1.3" fill="#28239a"/><rect x="317.9" y="677.8" width="1.3" height="1.3" fill="#28239a"/><rect x="324.3" y="639.8" width="1.3" height="1.3" fill="#28239a"/><rect x="292.8" y="676.2" width="1.3" height="1.3" fill="#28239a"/><rect x="329.7" y="665.0" width="1.3" height="1.3" fill="#28239a"/><rect x="328.6" y="641.2" width="1.3" height="1.3" fill="#28239a"/><rect x="311.3" y="646.6" width="1.3" height="1.3" fill="#28239a"/><rect x="306.3" y="684.3" width="1.3" height="1.3" fill="#28239a"/><rect x="330.6" y="662.2" width="1.3" height="1.3" fill="#28239a"/><rect x="332.8" y="646.5" width="1.3" height="1.3" fill="#28239a"/><rect x="317.6" y="642.4" width="1.3" height="1.3" fill="#28239a"/><rect x="328.9" y="641.7" width="1.3" height="1.3" fill="#28239a"/><rect x="295.7" y="661.5" width="1.3" height="1.3" fill="#28239a"/><rect x="302.0" y="652.7" width="1.3" height="1.3" fill="#28239a"/><rect x="315.5" y="678.8" width="1.3" height="1.3" fill="#28239a"/><rect x="311.9" y="681.1" width="1.3" height="1.3" fill="#28239a"/><rect x="303.8" y="684.2" width="1.3" height="1.3" fill="#28239a"/><rect x="327.2" y="641.2" width="1.3" height="1.3" fill="#28239a"/><rect x="296.5" y="659.6" width="1.3" height="1.3" fill="#28239a"/><rect x="305.4" y="683.9" width="1.3" height="1.3" fill="#28239a"/><rect x="322.8" y="641.1" width="1.3" height="1.3" fill="#28239a"/><rect x="320.9" y="641.6" width="1.3" height="1.3" fill="#28239a"/><rect x="310.9" y="647.8" width="1.3" height="1.3" fill="#28239a"/><rect x="304.9" y="683.7" width="1.3" height="1.3" fill="#28239a"/><rect x="331.3" y="653.3" width="1.3" height="1.3" fill="#28239a"/><rect x="296.1" y="680.2" width="1.3" height="1.3" fill="#28239a"/><rect x="331.9" y="647.7" width="1.3" height="1.3" fill="#28239a"/><rect x="331.2" y="653.3" width="1.3" height="1.3" fill="#28239a"/><rect x="295.3" y="679.0" width="1.3" height="1.3" fill="#28239a"/><rect x="296.4" y="662.0" width="1.3" height="1.3" fill="#28239a"/><rect x="302.4" y="683.3" width="1.3" height="1.3" fill="#28239a"/><rect x="306.0" y="683.1" width="1.3" height="1.3" fill="#28239a"/><rect x="331.7" y="650.6" width="1.3" height="1.3" fill="#28239a"/><rect x="296.9" y="660.5" width="1.3" height="1.3" fill="#28239a"/><rect x="298.0" y="681.5" width="1.3" height="1.3" fill="#28239a"/><rect x="329.3" y="662.5" width="1.3" height="1.3" fill="#28239a"/><rect x="329.3" y="662.3" width="1.3" height="1.3" fill="#28239a"/><rect x="325.6" y="668.5" width="1.3" height="1.3" fill="#28239a"/><rect x="331.4" y="650.5" width="1.3" height="1.3" fill="#28239a"/><rect x="315.4" y="677.8" width="1.3" height="1.3" fill="#28239a"/><rect x="324.4" y="641.8" width="1.3" height="1.3" fill="#28239a"/><rect x="318.4" y="643.8" width="1.3" height="1.3" fill="#28239a"/><rect x="320.2" y="673.6" width="1.3" height="1.3" fill="#28239a"/><rect x="329.6" y="659.8" width="1.3" height="1.3" fill="#28239a"/><rect x="294.6" y="676.3" width="1.3" height="1.3" fill="#28239a"/><rect x="295.4" y="678.3" width="1.3" height="1.3" fill="#28239a"/><rect x="314.1" y="646.6" width="1.3" height="1.3" fill="#28239a"/><rect x="295.6" y="668.2" width="1.3" height="1.3" fill="#28239a"/><rect x="316.2" y="676.9" width="1.5" height="1.5" fill="#861a55"/><rect x="327.5" y="665.6" width="1.5" height="1.5" fill="#861a55"/><rect x="331.2" y="649.1" width="1.5" height="1.5" fill="#861a55"/><rect x="311.4" y="679.8" width="1.5" height="1.5" fill="#861a55"/><rect x="298.6" y="657.6" width="1.5" height="1.5" fill="#861a55"/><rect x="322.5" y="642.3" width="1.5" height="1.5" fill="#861a55"/><rect x="319.6" y="673.6" width="1.5" height="1.5" fill="#861a55"/><rect x="295.0" y="671.8" width="1.5" height="1.5" fill="#861a55"/><rect x="326.2" y="642.5" width="1.5" height="1.5" fill="#861a55"/><rect x="305.8" y="651.8" width="1.5" height="1.5" fill="#861a55"/><rect x="294.8" y="675.1" width="1.5" height="1.5" fill="#861a55"/><rect x="307.8" y="681.5" width="1.5" height="1.5" fill="#861a55"/><rect x="328.9" y="661.3" width="1.5" height="1.5" fill="#861a55"/><rect x="300.9" y="655.1" width="1.5" height="1.5" fill="#861a55"/><rect x="329.6" y="654.9" width="1.5" height="1.5" fill="#861a55"/><rect x="304.6" y="682.3" width="1.5" height="1.5" fill="#861a55"/><rect x="295.8" y="668.9" width="1.5" height="1.5" fill="#861a55"/><rect x="329.2" y="656.5" width="1.5" height="1.5" fill="#861a55"/><rect x="326.7" y="643.1" width="1.5" height="1.5" fill="#861a55"/><rect x="300.0" y="681.3" width="1.5" height="1.5" fill="#861a55"/><rect x="330.1" y="646.8" width="1.5" height="1.5" fill="#861a55"/><rect x="327.5" y="643.6" width="1.5" height="1.5" fill="#861a55"/><rect x="310.7" y="649.3" width="1.5" height="1.5" fill="#861a55"/><rect x="295.5" y="671.0" width="1.5" height="1.5" fill="#861a55"/><rect x="315.3" y="646.6" width="1.5" height="1.5" fill="#861a55"/><rect x="295.2" y="672.8" width="1.5" height="1.5" fill="#861a55"/><rect x="304.1" y="681.9" width="1.5" height="1.5" fill="#861a55"/><rect x="328.6" y="660.4" width="1.5" height="1.5" fill="#861a55"/><rect x="315.2" y="646.9" width="1.5" height="1.5" fill="#861a55"/><rect x="326.4" y="643.4" width="1.5" height="1.5" fill="#861a55"/><rect x="316.3" y="646.3" width="1.5" height="1.5" fill="#861a55"/><rect x="324.6" y="643.1" width="1.5" height="1.5" fill="#861a55"/><rect x="326.4" y="665.8" width="1.5" height="1.5" fill="#861a55"/><rect x="299.6" y="657.4" width="1.5" height="1.5" fill="#861a55"/><rect x="320.2" y="672.2" width="1.5" height="1.5" fill="#861a55"/><rect x="329.0" y="654.6" width="1.5" height="1.5" fill="#861a55"/><rect x="328.6" y="645.4" width="1.5" height="1.5" fill="#861a55"/><rect x="308.5" y="680.3" width="1.5" height="1.5" fill="#861a55"/><rect x="301.7" y="655.2" width="1.5" height="1.5" fill="#861a55"/><rect x="297.5" y="662.7" width="1.5" height="1.5" fill="#861a55"/><rect x="310.4" y="679.3" width="1.5" height="1.5" fill="#861a55"/><rect x="321.1" y="671.2" width="1.5" height="1.5" fill="#861a55"/><rect x="304.2" y="681.4" width="1.5" height="1.5" fill="#861a55"/><rect x="310.7" y="649.8" width="1.5" height="1.5" fill="#861a55"/><rect x="324.7" y="667.7" width="1.5" height="1.5" fill="#861a55"/><rect x="302.9" y="681.3" width="1.5" height="1.5" fill="#861a55"/><rect x="328.9" y="653.8" width="1.5" height="1.5" fill="#861a55"/><rect x="325.4" y="643.5" width="1.5" height="1.5" fill="#861a55"/><rect x="295.7" y="673.8" width="1.5" height="1.5" fill="#861a55"/><rect x="321.1" y="671.2" width="1.5" height="1.5" fill="#861a55"/><rect x="329.7" y="649.4" width="1.5" height="1.5" fill="#861a55"/><rect x="326.7" y="644.1" width="1.5" height="1.5" fill="#861a55"/><rect x="328.2" y="659.9" width="1.5" height="1.5" fill="#861a55"/><rect x="301.5" y="655.6" width="1.5" height="1.5" fill="#861a55"/><rect x="329.6" y="649.6" width="1.5" height="1.5" fill="#861a55"/><rect x="315.8" y="675.8" width="1.5" height="1.5" fill="#861a55"/><rect x="309.1" y="650.9" width="1.5" height="1.5" fill="#861a55"/><rect x="325.6" y="666.4" width="1.5" height="1.5" fill="#861a55"/><rect x="323.5" y="643.6" width="1.5" height="1.5" fill="#861a55"/><rect x="297.0" y="666.5" width="1.5" height="1.5" fill="#861a55"/><rect x="299.4" y="658.3" width="1.5" height="1.5" fill="#861a55"/><rect x="318.9" y="673.0" width="1.5" height="1.5" fill="#861a55"/><rect x="297.5" y="664.2" width="1.5" height="1.5" fill="#861a55"/><rect x="320.3" y="644.9" width="1.5" height="1.5" fill="#861a55"/><rect x="296.4" y="676.1" width="1.5" height="1.5" fill="#861a55"/><rect x="310.4" y="678.8" width="1.5" height="1.5" fill="#861a55"/><rect x="329.2" y="649.5" width="1.5" height="1.5" fill="#861a55"/><rect x="327.7" y="661.0" width="1.5" height="1.5" fill="#861a55"/><rect x="303.2" y="654.7" width="1.5" height="1.5" fill="#861a55"/><rect x="327.0" y="663.6" width="1.5" height="1.5" fill="#e0231c"/><rect x="316.3" y="647.4" width="1.5" height="1.5" fill="#e0231c"/><rect x="323.9" y="668.0" width="1.5" height="1.5" fill="#e0231c"/><rect x="322.0" y="669.8" width="1.5" height="1.5" fill="#e0231c"/><rect x="298.2" y="678.4" width="1.5" height="1.5" fill="#e0231c"/><rect x="327.5" y="645.7" width="1.5" height="1.5" fill="#e0231c"/><rect x="305.6" y="680.4" width="1.5" height="1.5" fill="#e0231c"/><rect x="296.5" y="675.4" width="1.5" height="1.5" fill="#e0231c"/><rect x="327.8" y="656.2" width="1.5" height="1.5" fill="#e0231c"/><rect x="326.6" y="664.0" width="1.5" height="1.5" fill="#e0231c"/><rect x="328.6" y="651.0" width="1.5" height="1.5" fill="#e0231c"/><rect x="326.4" y="664.2" width="1.5" height="1.5" fill="#e0231c"/><rect x="296.6" y="672.3" width="1.5" height="1.5" fill="#e0231c"/><rect x="299.0" y="678.8" width="1.5" height="1.5" fill="#e0231c"/><rect x="314.9" y="648.5" width="1.5" height="1.5" fill="#e0231c"/><rect x="299.5" y="679.1" width="1.5" height="1.5" fill="#e0231c"/><rect x="297.8" y="665.5" width="1.5" height="1.5" fill="#e0231c"/><rect x="323.8" y="667.7" width="1.5" height="1.5" fill="#e0231c"/><rect x="306.9" y="652.8" width="1.5" height="1.5" fill="#e0231c"/><rect x="300.8" y="679.7" width="1.5" height="1.5" fill="#e0231c"/><rect x="326.2" y="645.2" width="1.5" height="1.5" fill="#e0231c"/><rect x="322.3" y="644.9" width="1.5" height="1.5" fill="#e0231c"/><rect x="297.2" y="676.5" width="1.5" height="1.5" fill="#e0231c"/><rect x="300.7" y="679.5" width="1.5" height="1.5" fill="#e0231c"/><rect x="308.1" y="679.2" width="1.5" height="1.5" fill="#e0231c"/><rect x="302.8" y="680.1" width="1.5" height="1.5" fill="#e0231c"/><rect x="303.7" y="654.9" width="1.5" height="1.5" fill="#e0231c"/><rect x="297.0" y="671.4" width="1.5" height="1.5" fill="#e0231c"/><rect x="304.0" y="680.1" width="1.5" height="1.5" fill="#e0231c"/><rect x="328.3" y="649.2" width="1.5" height="1.5" fill="#e0231c"/><rect x="311.4" y="650.6" width="1.5" height="1.5" fill="#e0231c"/><rect x="305.4" y="654.0" width="1.5" height="1.5" fill="#e0231c"/><rect x="300.6" y="679.2" width="1.5" height="1.5" fill="#e0231c"/><rect x="297.4" y="676.0" width="1.5" height="1.5" fill="#e0231c"/><rect x="328.0" y="649.4" width="1.5" height="1.5" fill="#e0231c"/><rect x="315.7" y="648.6" width="1.5" height="1.5" fill="#e0231c"/><rect x="298.0" y="676.9" width="1.5" height="1.5" fill="#e0231c"/><rect x="327.9" y="649.9" width="1.5" height="1.5" fill="#e0231c"/><rect x="297.7" y="676.3" width="1.5" height="1.5" fill="#e0231c"/><rect x="327.7" y="651.5" width="1.5" height="1.5" fill="#e0231c"/><rect x="300.5" y="678.9" width="1.5" height="1.5" fill="#e0231c"/><rect x="324.5" y="645.4" width="1.5" height="1.5" fill="#e0231c"/><rect x="305.7" y="654.0" width="1.5" height="1.5" fill="#e0231c"/><rect x="327.1" y="647.2" width="1.5" height="1.5" fill="#e0231c"/><rect x="320.8" y="646.4" width="1.5" height="1.5" fill="#e0231c"/><rect x="300.7" y="678.8" width="1.5" height="1.5" fill="#e0231c"/><rect x="318.8" y="647.4" width="1.5" height="1.5" fill="#e0231c"/><rect x="321.7" y="646.0" width="1.5" height="1.5" fill="#e0231c"/><rect x="325.5" y="646.0" width="1.5" height="1.5" fill="#e0231c"/><rect x="297.6" y="670.3" width="1.5" height="1.5" fill="#e0231c"/><rect x="324.3" y="645.7" width="1.5" height="1.5" fill="#e0231c"/><rect x="314.8" y="649.4" width="1.5" height="1.5" fill="#e0231c"/><rect x="323.6" y="645.7" width="1.5" height="1.5" fill="#e0231c"/><rect x="297.7" y="669.9" width="1.5" height="1.5" fill="#e0231c"/><rect x="298.3" y="676.6" width="1.5" height="1.5" fill="#e0231c"/><rect x="308.3" y="652.7" width="1.5" height="1.5" fill="#e0231c"/><rect x="314.9" y="674.8" width="1.5" height="1.5" fill="#e0231c"/><rect x="325.4" y="664.5" width="1.5" height="1.5" fill="#e0231c"/><rect x="315.5" y="674.3" width="1.5" height="1.5" fill="#e0231c"/><rect x="301.8" y="657.2" width="1.5" height="1.5" fill="#e0231c"/><rect x="298.8" y="677.1" width="1.5" height="1.5" fill="#e0231c"/><rect x="297.9" y="675.7" width="1.5" height="1.5" fill="#e0231c"/><rect x="319.8" y="670.7" width="1.5" height="1.5" fill="#e0231c"/><rect x="298.2" y="676.0" width="1.5" height="1.5" fill="#e0231c"/><rect x="323.8" y="666.5" width="1.5" height="1.5" fill="#e0231c"/><rect x="322.4" y="646.3" width="1.5" height="1.5" fill="#e0231c"/><rect x="322.9" y="646.3" width="1.5" height="1.5" fill="#e0231c"/><rect x="300.6" y="659.2" width="1.5" height="1.5" fill="#e0231c"/><rect x="314.7" y="674.7" width="1.5" height="1.5" fill="#e0231c"/><rect x="307.6" y="653.4" width="1.5" height="1.5" fill="#e0231c"/><rect x="304.3" y="678.9" width="1.5" height="1.5" fill="#e0231c"/><rect x="299.5" y="662.0" width="1.5" height="1.5" fill="#e0231c"/><rect x="298.4" y="667.2" width="1.5" height="1.5" fill="#e0231c"/><rect x="308.2" y="653.1" width="1.5" height="1.5" fill="#e0231c"/><rect x="323.2" y="646.5" width="1.5" height="1.5" fill="#e0231c"/><rect x="313.0" y="675.5" width="1.5" height="1.5" fill="#e0231c"/><rect x="309.6" y="677.2" width="1.5" height="1.5" fill="#e0231c"/><rect x="306.1" y="678.4" width="1.5" height="1.5" fill="#e0231c"/><rect x="299.4" y="663.0" width="1.5" height="1.5" fill="#e0231c"/><rect x="299.9" y="661.6" width="1.5" height="1.5" fill="#e0231c"/><rect x="298.5" y="675.0" width="1.5" height="1.5" fill="#e0231c"/><rect x="315.6" y="673.7" width="1.5" height="1.5" fill="#e0231c"/><rect x="324.2" y="646.9" width="1.5" height="1.5" fill="#e0231c"/><rect x="307.0" y="678.0" width="1.5" height="1.5" fill="#e0231c"/><rect x="300.9" y="659.5" width="1.5" height="1.5" fill="#e0231c"/><rect x="325.6" y="662.6" width="1.5" height="1.5" fill="#e0231c"/><rect x="316.2" y="649.7" width="1.5" height="1.5" fill="#e0231c"/><rect x="312.7" y="651.1" width="1.5" height="1.5" fill="#e0231c"/><rect x="326.2" y="649.3" width="1.5" height="1.5" fill="#e0231c"/><rect x="324.3" y="647.2" width="1.5" height="1.5" fill="#e0231c"/><rect x="305.4" y="655.1" width="1.5" height="1.5" fill="#e0231c"/><rect x="298.4" y="672.8" width="1.5" height="1.5" fill="#e0231c"/><rect x="324.2" y="647.4" width="1.5" height="1.5" fill="#e0231c"/><rect x="325.9" y="649.2" width="1.5" height="1.5" fill="#e0231c"/><rect x="323.4" y="647.3" width="1.5" height="1.5" fill="#e0231c"/><rect x="306.3" y="677.9" width="1.5" height="1.5" fill="#e0231c"/><rect x="325.0" y="648.1" width="1.5" height="1.5" fill="#e0231c"/><rect x="314.7" y="674.0" width="1.5" height="1.5" fill="#e0231c"/><rect x="303.2" y="657.0" width="1.5" height="1.5" fill="#e0231c"/><rect x="299.1" y="675.2" width="1.5" height="1.5" fill="#e0231c"/><rect x="313.4" y="651.1" width="1.5" height="1.5" fill="#e0231c"/><rect x="325.7" y="658.6" width="1.5" height="1.5" fill="#e0231c"/><rect x="298.6" y="671.9" width="1.5" height="1.5" fill="#e0231c"/><rect x="325.7" y="659.0" width="1.5" height="1.5" fill="#e0231c"/><rect x="299.1" y="667.1" width="1.5" height="1.5" fill="#e0231c"/><rect x="299.9" y="676.2" width="1.5" height="1.5" fill="#e0231c"/><rect x="302.6" y="657.8" width="1.5" height="1.5" fill="#e0231c"/><rect x="321.5" y="648.3" width="1.5" height="1.5" fill="#e0231c"/><rect x="322.8" y="648.0" width="1.5" height="1.5" fill="#e0231c"/><rect x="324.7" y="648.7" width="1.5" height="1.5" fill="#e0231c"/><rect x="325.6" y="659.4" width="1.5" height="1.5" fill="#e0231c"/><rect x="325.4" y="650.5" width="1.5" height="1.5" fill="#e0231c"/><rect x="299.2" y="674.5" width="1.5" height="1.5" fill="#e0231c"/><rect x="303.7" y="677.6" width="1.5" height="1.5" fill="#e0231c"/><rect x="325.1" y="649.7" width="1.5" height="1.5" fill="#e0231c"/><rect x="324.3" y="648.6" width="1.5" height="1.5" fill="#e0231c"/><rect x="325.2" y="662.0" width="1.5" height="1.5" fill="#e0231c"/><rect x="309.1" y="676.5" width="1.5" height="1.5" fill="#e0231c"/><rect x="320.5" y="668.7" width="1.5" height="1.5" fill="#e0231c"/><rect x="299.0" y="671.6" width="1.5" height="1.5" fill="#e0231c"/><rect x="305.2" y="655.9" width="1.5" height="1.5" fill="#e0231c"/><rect x="325.1" y="652.6" width="1.5" height="1.5" fill="#f06a1a"/><rect x="305.1" y="656.0" width="1.5" height="1.5" fill="#f06a1a"/><rect x="299.5" y="666.9" width="1.5" height="1.5" fill="#f06a1a"/><rect x="320.6" y="668.4" width="1.5" height="1.5" fill="#f06a1a"/><rect x="324.8" y="650.8" width="1.5" height="1.5" fill="#f06a1a"/><rect x="302.9" y="658.1" width="1.5" height="1.5" fill="#f06a1a"/><rect x="307.5" y="676.8" width="1.5" height="1.5" fill="#f06a1a"/><rect x="324.4" y="650.2" width="1.5" height="1.5" fill="#f06a1a"/><rect x="315.2" y="672.9" width="1.5" height="1.5" fill="#f06a1a"/><rect x="299.5" y="673.8" width="1.5" height="1.5" fill="#f06a1a"/><rect x="315.3" y="651.0" width="1.5" height="1.5" fill="#f06a1a"/><rect x="323.4" y="649.2" width="1.5" height="1.5" fill="#f06a1a"/><rect x="324.8" y="653.0" width="1.5" height="1.5" fill="#f06a1a"/><rect x="301.3" y="676.2" width="1.5" height="1.5" fill="#f06a1a"/><rect x="325.1" y="660.1" width="1.5" height="1.5" fill="#f06a1a"/><rect x="315.1" y="651.2" width="1.5" height="1.5" fill="#f06a1a"/><rect x="299.6" y="668.5" width="1.5" height="1.5" fill="#f06a1a"/><rect x="301.0" y="675.8" width="1.5" height="1.5" fill="#f06a1a"/><rect x="302.7" y="658.6" width="1.5" height="1.5" fill="#f06a1a"/><rect x="325.0" y="659.5" width="1.5" height="1.5" fill="#f06a1a"/><rect x="324.8" y="655.7" width="1.5" height="1.5" fill="#f06a1a"/><rect x="315.4" y="672.5" width="1.5" height="1.5" fill="#f06a1a"/><rect x="300.5" y="663.5" width="1.5" height="1.5" fill="#f06a1a"/><rect x="309.6" y="653.7" width="1.5" height="1.5" fill="#f06a1a"/><rect x="300.9" y="662.0" width="1.5" height="1.5" fill="#f06a1a"/><rect x="310.4" y="675.4" width="1.5" height="1.5" fill="#f06a1a"/><rect x="311.5" y="674.9" width="1.5" height="1.5" fill="#f06a1a"/><rect x="323.9" y="651.6" width="1.5" height="1.5" fill="#f06a1a"/><rect x="322.4" y="650.1" width="1.5" height="1.5" fill="#f06a1a"/><rect x="312.2" y="674.4" width="1.5" height="1.5" fill="#f06a1a"/><rect x="307.4" y="655.1" width="1.5" height="1.5" fill="#f06a1a"/><rect x="324.0" y="652.2" width="1.5" height="1.5" fill="#f06a1a"/><rect x="321.8" y="650.1" width="1.5" height="1.5" fill="#f06a1a"/><rect x="302.8" y="658.9" width="1.5" height="1.5" fill="#f06a1a"/><rect x="300.0" y="672.9" width="1.5" height="1.5" fill="#f06a1a"/><rect x="324.2" y="654.0" width="1.5" height="1.5" fill="#f06a1a"/><rect x="321.5" y="666.9" width="1.5" height="1.5" fill="#f06a1a"/><rect x="317.0" y="651.1" width="1.5" height="1.5" fill="#f06a1a"/><rect x="324.0" y="653.2" width="1.5" height="1.5" fill="#f06a1a"/><rect x="304.3" y="657.4" width="1.5" height="1.5" fill="#f06a1a"/><rect x="324.4" y="657.3" width="1.5" height="1.5" fill="#f06a1a"/><rect x="324.0" y="662.8" width="1.5" height="1.5" fill="#f06a1a"/><rect x="322.6" y="665.4" width="1.5" height="1.5" fill="#f06a1a"/><rect x="320.8" y="650.7" width="1.5" height="1.5" fill="#f06a1a"/><rect x="301.9" y="675.3" width="1.5" height="1.5" fill="#f06a1a"/><rect x="309.5" y="675.3" width="1.5" height="1.5" fill="#f06a1a"/><rect x="315.6" y="651.8" width="1.5" height="1.5" fill="#f06a1a"/><rect x="322.3" y="651.5" width="1.5" height="1.5" fill="#f06a1a"/><rect x="323.2" y="652.7" width="1.5" height="1.5" fill="#f06a1a"/><rect x="323.9" y="662.2" width="1.5" height="1.5" fill="#f06a1a"/><rect x="321.7" y="666.2" width="1.5" height="1.5" fill="#f06a1a"/><rect x="320.6" y="651.1" width="1.5" height="1.5" fill="#f06a1a"/><rect x="308.2" y="675.5" width="1.5" height="1.5" fill="#f06a1a"/><rect x="316.0" y="651.8" width="1.5" height="1.5" fill="#f06a1a"/><rect x="322.2" y="665.4" width="1.5" height="1.5" fill="#f06a1a"/><rect x="300.7" y="672.8" width="1.5" height="1.5" fill="#f06a1a"/><rect x="300.8" y="673.0" width="1.5" height="1.5" fill="#f06a1a"/><rect x="305.4" y="675.8" width="1.5" height="1.5" fill="#f06a1a"/><rect x="312.1" y="653.2" width="1.5" height="1.5" fill="#f06a1a"/><rect x="323.3" y="653.9" width="1.5" height="1.5" fill="#f06a1a"/><rect x="300.5" y="669.0" width="1.5" height="1.5" fill="#f06a1a"/><rect x="300.5" y="669.4" width="1.5" height="1.5" fill="#f06a1a"/><rect x="316.5" y="651.8" width="1.5" height="1.5" fill="#f06a1a"/><rect x="302.4" y="660.5" width="1.5" height="1.5" fill="#f06a1a"/><rect x="301.3" y="663.3" width="1.5" height="1.5" fill="#f06a1a"/><rect x="301.0" y="664.6" width="1.5" height="1.5" fill="#f06a1a"/><rect x="315.2" y="671.7" width="1.5" height="1.5" fill="#f06a1a"/><rect x="323.1" y="663.5" width="1.5" height="1.5" fill="#f06a1a"/><rect x="304.1" y="675.4" width="1.5" height="1.5" fill="#f06a1a"/><rect x="301.2" y="664.1" width="1.5" height="1.5" fill="#f06a1a"/><rect x="315.3" y="671.5" width="1.5" height="1.5" fill="#f06a1a"/><rect x="312.3" y="653.4" width="1.5" height="1.5" fill="#f06a1a"/><rect x="301.5" y="673.2" width="1.5" height="1.5" fill="#f06a1a"/><rect x="314.7" y="652.6" width="1.5" height="1.5" fill="#f06a1a"/><rect x="302.6" y="660.7" width="1.5" height="1.5" fill="#f06a1a"/><rect x="302.9" y="674.6" width="1.5" height="1.5" fill="#f06a1a"/><rect x="318.3" y="668.9" width="1.5" height="1.5" fill="#f06a1a"/><rect x="322.5" y="664.2" width="1.5" height="1.5" fill="#f06a1a"/><rect x="314.3" y="672.0" width="1.5" height="1.5" fill="#f06a1a"/><rect x="301.7" y="663.2" width="1.5" height="1.5" fill="#f06a1a"/><rect x="308.9" y="655.3" width="1.5" height="1.5" fill="#f06a1a"/><rect x="314.9" y="652.7" width="1.5" height="1.5" fill="#f06a1a"/><rect x="316.3" y="670.4" width="1.5" height="1.5" fill="#f06a1a"/><rect x="323.5" y="658.4" width="1.5" height="1.5" fill="#f06a1a"/><rect x="322.6" y="663.8" width="1.5" height="1.5" fill="#f06a1a"/><rect x="309.7" y="674.3" width="1.5" height="1.5" fill="#f06a1a"/><rect x="321.5" y="653.1" width="1.5" height="1.5" fill="#f06a1a"/><rect x="322.5" y="663.9" width="1.5" height="1.5" fill="#f06a1a"/><rect x="320.9" y="666.1" width="1.5" height="1.5" fill="#f06a1a"/><rect x="306.7" y="674.8" width="1.5" height="1.5" fill="#f06a1a"/><rect x="308.5" y="674.5" width="1.5" height="1.5" fill="#f06a1a"/><rect x="301.3" y="667.4" width="1.5" height="1.5" fill="#f06a1a"/><rect x="319.3" y="652.5" width="1.5" height="1.5" fill="#f06a1a"/><rect x="309.2" y="655.4" width="1.5" height="1.5" fill="#f06a1a"/><rect x="322.0" y="654.2" width="1.5" height="1.5" fill="#f06a1a"/><rect x="311.5" y="673.2" width="1.5" height="1.5" fill="#f06a1a"/><rect x="317.1" y="669.3" width="1.5" height="1.5" fill="#f06a1a"/><rect x="303.9" y="674.2" width="1.5" height="1.5" fill="#f06a1a"/><rect x="319.9" y="666.8" width="1.5" height="1.5" fill="#f06a1a"/><rect x="306.2" y="674.6" width="1.5" height="1.5" fill="#f06a1a"/><rect x="304.5" y="674.1" width="1.5" height="1.5" fill="#f06a1a"/><rect x="318.0" y="668.3" width="1.5" height="1.5" fill="#f06a1a"/><rect x="322.8" y="658.2" width="1.5" height="1.5" fill="#f06a1a"/><rect x="320.9" y="653.9" width="1.5" height="1.5" fill="#f06a1a"/><rect x="301.9" y="670.1" width="1.5" height="1.5" fill="#f6b526"/><rect x="307.0" y="674.1" width="1.5" height="1.5" fill="#f6b526"/><rect x="319.2" y="667.1" width="1.5" height="1.5" fill="#f6b526"/><rect x="303.0" y="661.9" width="1.5" height="1.5" fill="#f6b526"/><rect x="306.8" y="674.0" width="1.5" height="1.5" fill="#f6b526"/><rect x="322.7" y="659.0" width="1.5" height="1.5" fill="#f6b526"/><rect x="311.2" y="672.8" width="1.5" height="1.5" fill="#f6b526"/><rect x="320.7" y="654.3" width="1.5" height="1.5" fill="#f6b526"/><rect x="322.5" y="661.4" width="1.5" height="1.5" fill="#f6b526"/><rect x="308.8" y="673.5" width="1.5" height="1.5" fill="#f6b526"/><rect x="319.6" y="666.4" width="1.5" height="1.5" fill="#f6b526"/><rect x="313.0" y="654.3" width="1.5" height="1.5" fill="#f6b526"/><rect x="308.0" y="656.8" width="1.5" height="1.5" fill="#f6b526"/><rect x="302.2" y="667.3" width="1.5" height="1.5" fill="#f6b526"/><rect x="322.0" y="662.7" width="1.5" height="1.5" fill="#f6b526"/><rect x="302.4" y="669.9" width="1.5" height="1.5" fill="#f6b526"/><rect x="321.7" y="656.6" width="1.5" height="1.5" fill="#f6b526"/><rect x="322.3" y="660.8" width="1.5" height="1.5" fill="#f6b526"/><rect x="322.2" y="661.6" width="1.5" height="1.5" fill="#f6b526"/><rect x="317.3" y="668.3" width="1.5" height="1.5" fill="#f6b526"/><rect x="316.8" y="653.7" width="1.5" height="1.5" fill="#f6b526"/><rect x="320.3" y="654.7" width="1.5" height="1.5" fill="#f6b526"/><rect x="317.4" y="653.8" width="1.5" height="1.5" fill="#f6b526"/><rect x="317.9" y="667.7" width="1.5" height="1.5" fill="#f6b526"/><rect x="316.9" y="668.5" width="1.5" height="1.5" fill="#f6b526"/><rect x="302.4" y="668.7" width="1.5" height="1.5" fill="#f6b526"/><rect x="322.2" y="660.5" width="1.5" height="1.5" fill="#f6b526"/><rect x="312.4" y="671.7" width="1.5" height="1.5" fill="#f6b526"/><rect x="322.1" y="660.3" width="1.5" height="1.5" fill="#f6b526"/><rect x="317.3" y="653.9" width="1.5" height="1.5" fill="#f6b526"/><rect x="302.8" y="669.6" width="1.5" height="1.5" fill="#f6b526"/><rect x="318.2" y="667.2" width="1.5" height="1.5" fill="#f6b526"/><rect x="313.8" y="654.6" width="1.5" height="1.5" fill="#f6b526"/><rect x="305.1" y="672.7" width="1.5" height="1.5" fill="#f6b526"/><rect x="321.7" y="658.2" width="1.5" height="1.5" fill="#f6b526"/><rect x="304.2" y="661.2" width="1.5" height="1.5" fill="#f6b526"/><rect x="302.8" y="665.6" width="1.5" height="1.5" fill="#f6b526"/><rect x="319.7" y="654.9" width="1.5" height="1.5" fill="#f6b526"/><rect x="305.7" y="672.8" width="1.5" height="1.5" fill="#f6b526"/><rect x="319.7" y="654.9" width="1.5" height="1.5" fill="#f6b526"/><rect x="307.7" y="672.9" width="1.5" height="1.5" fill="#f6b526"/><rect x="316.9" y="668.1" width="1.5" height="1.5" fill="#f6b526"/><rect x="303.0" y="664.8" width="1.5" height="1.5" fill="#f6b526"/><rect x="304.0" y="662.0" width="1.5" height="1.5" fill="#f6b526"/><rect x="304.7" y="660.7" width="1.5" height="1.5" fill="#f6b526"/><rect x="319.9" y="655.5" width="1.5" height="1.5" fill="#f6b526"/><rect x="313.4" y="670.6" width="1.5" height="1.5" fill="#f6b526"/><rect x="321.4" y="658.7" width="1.5" height="1.5" fill="#f6b526"/><rect x="320.0" y="664.7" width="1.5" height="1.5" fill="#f6b526"/><rect x="321.5" y="659.2" width="1.5" height="1.5" fill="#f6b526"/><rect x="314.0" y="654.8" width="1.5" height="1.5" fill="#f6b526"/><rect x="321.6" y="659.9" width="1.5" height="1.5" fill="#f6b526"/><rect x="307.1" y="672.6" width="1.5" height="1.5" fill="#f6b526"/><rect x="303.2" y="664.8" width="1.5" height="1.5" fill="#f6b526"/><rect x="321.2" y="658.1" width="1.5" height="1.5" fill="#f6b526"/><rect x="321.5" y="659.7" width="1.5" height="1.5" fill="#f6b526"/><rect x="305.5" y="672.2" width="1.5" height="1.5" fill="#f6b526"/><rect x="311.7" y="671.3" width="1.5" height="1.5" fill="#f6b526"/><rect x="318.5" y="654.9" width="1.5" height="1.5" fill="#f6b526"/><rect x="303.3" y="669.0" width="1.5" height="1.5" fill="#f6b526"/><rect x="304.2" y="662.2" width="1.5" height="1.5" fill="#f6b526"/><rect x="317.7" y="667.0" width="1.5" height="1.5" fill="#f6b526"/><rect x="313.6" y="670.2" width="1.5" height="1.5" fill="#f6b526"/><rect x="320.5" y="663.6" width="1.5" height="1.5" fill="#f6b526"/><rect x="304.5" y="661.6" width="1.5" height="1.5" fill="#f6b526"/><rect x="321.1" y="658.3" width="1.5" height="1.5" fill="#f6b526"/><rect x="303.3" y="667.1" width="1.5" height="1.5" fill="#f6b526"/><rect x="315.6" y="654.8" width="1.5" height="1.5" fill="#f6b526"/><rect x="315.0" y="654.9" width="1.5" height="1.5" fill="#f6b526"/><rect x="305.3" y="671.6" width="1.5" height="1.5" fill="#f6b526"/><rect x="303.3" y="666.5" width="1.5" height="1.5" fill="#f6b526"/><rect x="312.0" y="671.0" width="1.5" height="1.5" fill="#f6b526"/><rect x="311.2" y="656.2" width="1.5" height="1.5" fill="#f6b526"/><rect x="314.0" y="669.7" width="1.5" height="1.5" fill="#f6b526"/><rect x="320.0" y="664.1" width="1.5" height="1.5" fill="#f6b526"/><rect x="307.0" y="672.1" width="1.5" height="1.5" fill="#f6b526"/><rect x="305.3" y="671.4" width="1.5" height="1.5" fill="#f6b526"/><rect x="310.5" y="656.6" width="1.5" height="1.5" fill="#f6b526"/><rect x="317.7" y="655.1" width="1.5" height="1.5" fill="#f6b526"/><rect x="303.5" y="667.2" width="1.5" height="1.5" fill="#f6b526"/><rect x="306.8" y="671.9" width="1.5" height="1.5" fill="#f6b526"/><rect x="308.3" y="658.0" width="1.5" height="1.5" fill="#f6b526"/><rect x="303.6" y="667.4" width="1.5" height="1.5" fill="#f6b526"/><rect x="310.7" y="656.6" width="1.5" height="1.5" fill="#f6b526"/><rect x="303.8" y="668.8" width="1.5" height="1.5" fill="#f6b526"/><rect x="307.2" y="659.0" width="1.5" height="1.5" fill="#f6b526"/><rect x="303.9" y="668.6" width="1.5" height="1.5" fill="#f6b526"/><rect x="306.0" y="671.4" width="1.5" height="1.5" fill="#f6b526"/><rect x="316.8" y="655.3" width="1.5" height="1.5" fill="#f6b526"/><rect x="310.6" y="656.8" width="1.5" height="1.5" fill="#f6b526"/><rect x="307.8" y="671.7" width="1.5" height="1.5" fill="#f6b526"/><rect x="305.4" y="661.1" width="1.5" height="1.5" fill="#f6b526"/><rect x="306.7" y="659.6" width="1.5" height="1.5" fill="#f6b526"/><rect x="310.1" y="671.3" width="1.5" height="1.5" fill="#f6b526"/><rect x="313.6" y="655.7" width="1.5" height="1.5" fill="#f6b526"/><rect x="316.0" y="655.4" width="1.5" height="1.5" fill="#f6b526"/><rect x="304.0" y="665.4" width="1.5" height="1.5" fill="#f6b526"/><rect x="311.7" y="656.5" width="1.5" height="1.5" fill="#f6b526"/><rect x="320.2" y="662.7" width="1.5" height="1.5" fill="#f6b526"/><rect x="304.0" y="667.8" width="1.5" height="1.5" fill="#f6b526"/><rect x="308.3" y="658.4" width="1.5" height="1.5" fill="#f6b526"/><rect x="317.8" y="655.8" width="1.5" height="1.5" fill="#f6b526"/><rect x="315.4" y="655.5" width="1.5" height="1.5" fill="#f6b526"/><rect x="306.6" y="660.0" width="1.5" height="1.5" fill="#f9e24e"/><rect x="306.0" y="671.0" width="1.5" height="1.5" fill="#f9e24e"/><rect x="306.5" y="660.1" width="1.5" height="1.5" fill="#f9e24e"/><rect x="306.9" y="659.7" width="1.5" height="1.5" fill="#f9e24e"/><rect x="309.3" y="671.2" width="1.5" height="1.5" fill="#f9e24e"/><rect x="312.2" y="670.0" width="1.5" height="1.5" fill="#f9e24e"/><rect x="311.5" y="670.3" width="1.5" height="1.5" fill="#f9e24e"/><rect x="317.6" y="656.1" width="1.5" height="1.5" fill="#f9e24e"/><rect x="304.3" y="666.8" width="1.5" height="1.5" fill="#f9e24e"/><rect x="309.1" y="671.0" width="1.5" height="1.5" fill="#f9e24e"/><rect x="304.4" y="667.7" width="1.5" height="1.5" fill="#f9e24e"/><rect x="307.0" y="660.0" width="1.5" height="1.5" fill="#f9e24e"/><rect x="319.4" y="663.4" width="1.5" height="1.5" fill="#f9e24e"/><rect x="307.6" y="670.9" width="1.5" height="1.5" fill="#f9e24e"/><rect x="317.9" y="656.5" width="1.5" height="1.5" fill="#f9e24e"/><rect x="318.3" y="656.7" width="1.5" height="1.5" fill="#f9e24e"/><rect x="305.2" y="662.9" width="1.5" height="1.5" fill="#f9e24e"/><rect x="317.5" y="665.7" width="1.5" height="1.5" fill="#f9e24e"/><rect x="305.1" y="663.3" width="1.5" height="1.5" fill="#f9e24e"/><rect x="314.3" y="656.3" width="1.5" height="1.5" fill="#f9e24e"/><rect x="306.3" y="661.0" width="1.5" height="1.5" fill="#f9e24e"/><rect x="304.7" y="666.9" width="1.5" height="1.5" fill="#f9e24e"/><rect x="305.4" y="669.1" width="1.5" height="1.5" fill="#f9e24e"/><rect x="308.1" y="670.6" width="1.5" height="1.5" fill="#f9e24e"/><rect x="317.7" y="665.0" width="1.5" height="1.5" fill="#f9e24e"/><rect x="319.4" y="662.2" width="1.5" height="1.5" fill="#f9e24e"/><rect x="308.3" y="670.3" width="1.5" height="1.5" fill="#f9e24e"/><rect x="305.3" y="668.2" width="1.5" height="1.5" fill="#f9e24e"/><rect x="319.3" y="662.1" width="1.5" height="1.5" fill="#f9e24e"/><rect x="319.2" y="662.4" width="1.5" height="1.5" fill="#f9e24e"/><rect x="318.3" y="657.7" width="1.5" height="1.5" fill="#f9e24e"/><rect x="319.3" y="659.5" width="1.5" height="1.5" fill="#f9e24e"/><rect x="314.1" y="667.9" width="1.5" height="1.5" fill="#f9e24e"/><rect x="309.9" y="658.4" width="1.5" height="1.5" fill="#f9e24e"/><rect x="309.0" y="670.1" width="1.5" height="1.5" fill="#f9e24e"/><rect x="318.0" y="657.6" width="1.5" height="1.5" fill="#f9e24e"/><rect x="308.3" y="669.9" width="1.5" height="1.5" fill="#f9e24e"/><rect x="312.7" y="668.6" width="1.5" height="1.5" fill="#f9e24e"/><rect x="311.1" y="657.9" width="1.5" height="1.5" fill="#f9e24e"/><rect x="317.7" y="664.4" width="1.5" height="1.5" fill="#f9e24e"/><rect x="305.4" y="665.7" width="1.5" height="1.5" fill="#f9e24e"/><rect x="315.0" y="667.0" width="1.5" height="1.5" fill="#f9e24e"/><rect x="317.2" y="665.0" width="1.5" height="1.5" fill="#f9e24e"/><rect x="316.5" y="657.1" width="1.5" height="1.5" fill="#f9e24e"/><rect x="313.2" y="657.2" width="1.5" height="1.5" fill="#f9e24e"/><rect x="311.5" y="669.1" width="1.5" height="1.5" fill="#f9e24e"/><rect x="315.7" y="666.3" width="1.5" height="1.5" fill="#f9e24e"/><rect x="307.4" y="669.2" width="1.5" height="1.5" fill="#f9e24e"/><rect x="318.7" y="661.5" width="1.5" height="1.5" fill="#f9e24e"/><rect x="311.1" y="658.2" width="1.5" height="1.5" fill="#f9e24e"/><rect x="306.1" y="663.4" width="1.5" height="1.5" fill="#f9e24e"/><rect x="316.2" y="657.4" width="1.5" height="1.5" fill="#f9e24e"/><rect x="307.6" y="661.0" width="1.5" height="1.5" fill="#f9e24e"/><rect x="316.1" y="665.5" width="1.5" height="1.5" fill="#f9e24e"/><rect x="308.0" y="668.9" width="1.5" height="1.5" fill="#f9e24e"/><rect x="317.6" y="658.6" width="1.5" height="1.5" fill="#f9e24e"/><rect x="306.2" y="664.5" width="1.5" height="1.5" fill="#f9e24e"/><rect x="313.7" y="657.7" width="1.5" height="1.5" fill="#f9e24e"/><rect x="312.0" y="668.2" width="1.5" height="1.5" fill="#f9e24e"/><rect x="311.1" y="668.5" width="1.5" height="1.5" fill="#f9e24e"/><rect x="313.0" y="658.0" width="1.5" height="1.5" fill="#f9e24e"/><rect x="308.5" y="668.7" width="1.5" height="1.5" fill="#f9e24e"/><rect x="306.4" y="665.1" width="1.5" height="1.5" fill="#f9e24e"/><rect x="309.6" y="659.8" width="1.5" height="1.5" fill="#f9e24e"/><rect x="309.4" y="660.1" width="1.5" height="1.5" fill="#f9e24e"/><rect x="317.8" y="660.4" width="1.5" height="1.5" fill="#f9e24e"/><rect x="317.5" y="659.7" width="1.5" height="1.5" fill="#f9e24e"/><rect x="315.6" y="665.1" width="1.5" height="1.5" fill="#f9e24e"/><rect x="313.1" y="667.0" width="1.5" height="1.5" fill="#f9e24e"/><rect x="313.9" y="658.3" width="1.5" height="1.5" fill="#f9e24e"/><rect x="315.0" y="658.3" width="1.5" height="1.5" fill="#f9e24e"/><rect x="307.0" y="666.0" width="1.5" height="1.5" fill="#f9e24e"/><rect x="310.0" y="668.1" width="1.5" height="1.5" fill="#f9e24e"/><rect x="309.6" y="660.3" width="1.5" height="1.5" fill="#f9e24e"/><rect x="315.7" y="664.7" width="1.5" height="1.5" fill="#f9e24e"/><rect x="316.5" y="663.7" width="1.5" height="1.5" fill="#f9e24e"/><rect x="313.2" y="666.6" width="1.5" height="1.5" fill="#f9e24e"/><rect x="310.3" y="659.9" width="1.5" height="1.5" fill="#f9e24e"/><rect x="307.6" y="663.0" width="1.5" height="1.5" fill="#f9e24e"/><rect x="312.8" y="666.8" width="1.5" height="1.5" fill="#f9e24e"/><rect x="317.1" y="660.5" width="1.5" height="1.5" fill="#f9e24e"/><rect x="307.3" y="664.4" width="1.5" height="1.5" fill="#f9e24e"/><rect x="316.9" y="660.2" width="1.5" height="1.5" fill="#f9e24e"/><rect x="307.4" y="664.2" width="1.5" height="1.5" fill="#f9e24e"/><rect x="316.9" y="660.3" width="1.5" height="1.5" fill="#f9e24e"/><rect x="311.6" y="659.4" width="1.5" height="1.5" fill="#f9e24e"/><rect x="311.6" y="667.2" width="1.5" height="1.5" fill="#f9e24e"/><rect x="308.8" y="667.4" width="1.5" height="1.5" fill="#f9e24e"/><rect x="308.7" y="661.7" width="1.5" height="1.5" fill="#f9e24e"/><rect x="312.1" y="666.9" width="1.5" height="1.5" fill="#f9e24e"/><rect x="316.0" y="659.5" width="1.5" height="1.5" fill="#f9e24e"/><rect x="315.1" y="659.1" width="1.5" height="1.5" fill="#f9e24e"/><rect x="307.8" y="665.4" width="1.5" height="1.5" fill="#f9e24e"/><rect x="314.5" y="659.2" width="1.5" height="1.5" fill="#f9e24e"/><rect x="312.1" y="659.6" width="1.5" height="1.5" fill="#f9e24e"/><rect x="316.5" y="660.9" width="1.5" height="1.5" fill="#f9e24e"/><rect x="309.4" y="667.0" width="1.5" height="1.5" fill="#f9e24e"/><rect x="311.1" y="666.7" width="1.5" height="1.5" fill="#f9e24e"/><rect x="314.7" y="659.5" width="1.5" height="1.5" fill="#f9e24e"/><rect x="308.8" y="666.3" width="1.5" height="1.5" fill="#f9e24e"/><rect x="316.2" y="661.0" width="1.5" height="1.5" fill="#f9e24e"/><rect x="316.2" y="661.6" width="1.5" height="1.5" fill="#f9e24e"/><rect x="310.6" y="660.7" width="1.5" height="1.5" fill="#f9e24e"/><rect x="314.0" y="664.9" width="1.5" height="1.5" fill="#f9e24e"/><rect x="312.2" y="659.9" width="1.5" height="1.5" fill="#f9e24e"/><rect x="315.5" y="660.2" width="1.5" height="1.5" fill="#f9e24e"/><rect x="313.9" y="659.6" width="1.5" height="1.5" fill="#f9e24e"/><rect x="312.6" y="659.8" width="1.5" height="1.5" fill="#f9e24e"/><rect x="308.5" y="664.1" width="1.5" height="1.5" fill="#f9e24e"/><rect x="310.7" y="666.4" width="1.5" height="1.5" fill="#f9e24e"/><rect x="308.6" y="664.3" width="1.5" height="1.5" fill="#f9e24e"/><rect x="310.0" y="661.6" width="1.5" height="1.5" fill="#f9e24e"/><rect x="312.5" y="665.5" width="1.5" height="1.5" fill="#f9e24e"/><rect x="312.7" y="665.4" width="1.5" height="1.5" fill="#f9e24e"/><rect x="309.0" y="663.5" width="1.5" height="1.5" fill="#f9e24e"/><rect x="311.0" y="660.9" width="1.5" height="1.5" fill="#f9e24e"/><rect x="309.3" y="665.3" width="1.5" height="1.5" fill="#f9e24e"/><rect x="314.4" y="663.8" width="1.5" height="1.5" fill="#f9e24e"/><rect x="315.0" y="662.8" width="1.5" height="1.5" fill="#f9e24e"/><rect x="311.1" y="665.8" width="1.5" height="1.5" fill="#f9e24e"/><rect x="314.7" y="663.3" width="1.5" height="1.5" fill="#f9e24e"/><rect x="311.0" y="661.2" width="1.5" height="1.5" fill="#f9e24e"/><rect x="315.0" y="661.4" width="1.5" height="1.5" fill="#f9e24e"/><rect x="313.6" y="660.5" width="1.5" height="1.5" fill="#f9e24e"/><rect x="309.7" y="664.8" width="1.5" height="1.5" fill="#f9e24e"/><rect x="309.7" y="664.6" width="1.5" height="1.5" fill="#f9e24e"/><rect x="310.9" y="661.9" width="1.5" height="1.5" fill="#f9e24e"/><rect x="314.2" y="663.1" width="1.5" height="1.5" fill="#f9e24e"/><rect x="311.2" y="661.8" width="1.5" height="1.5" fill="#f9e24e"/><rect x="310.7" y="664.6" width="1.5" height="1.5" fill="#f9e24e"/><rect x="312.6" y="664.2" width="1.5" height="1.5" fill="#f9e24e"/><rect x="310.5" y="663.1" width="1.5" height="1.5" fill="#f9e24e"/><rect x="313.9" y="662.2" width="1.5" height="1.5" fill="#f9e24e"/><rect x="310.7" y="663.8" width="1.5" height="1.5" fill="#f9e24e"/><rect x="312.0" y="664.0" width="1.5" height="1.5" fill="#f9e24e"/><rect x="312.0" y="662.0" width="1.5" height="1.5" fill="#f9e24e"/><rect x="311.1" y="663.0" width="1.5" height="1.5" fill="#f9e24e"/><rect x="312.3" y="662.3" width="1.5" height="1.5" fill="#f9e24e"/><rect x="312.2" y="662.9" width="1.5" height="1.5" fill="#f9e24e"/>
<line x1="281.4" y1="684.5" x2="391.0" y2="609.5" stroke="#111" stroke-width="1.0"/>
<line x1="278.10" y1="692.50" x2="281.40" y2="692.50" stroke="#000" stroke-width="1.0" />
<text x="276.10" y="695.40" font-size="8.0" text-anchor="end" font-weight="normal" fill="#231f20" stroke="#231f20" stroke-width="0.18" >0</text>
<line x1="278.10" y1="676.20" x2="281.40" y2="676.20" stroke="#000" stroke-width="1.0" />
<text x="276.10" y="679.10" font-size="8.0" text-anchor="end" font-weight="normal" fill="#231f20" stroke="#231f20" stroke-width="0.18" >2</text>
<line x1="278.10" y1="659.90" x2="281.40" y2="659.90" stroke="#000" stroke-width="1.0" />
<text x="276.10" y="662.80" font-size="8.0" text-anchor="end" font-weight="normal" fill="#231f20" stroke="#231f20" stroke-width="0.18" >4</text>
<line x1="278.10" y1="643.60" x2="281.40" y2="643.60" stroke="#000" stroke-width="1.0" />
<text x="276.10" y="646.50" font-size="8.0" text-anchor="end" font-weight="normal" fill="#231f20" stroke="#231f20" stroke-width="0.18" >6</text>
<line x1="278.10" y1="627.30" x2="281.40" y2="627.30" stroke="#000" stroke-width="1.0" />
<text x="276.10" y="630.20" font-size="8.0" text-anchor="end" font-weight="normal" fill="#231f20" stroke="#231f20" stroke-width="0.18" >8</text>
<line x1="278.10" y1="611.00" x2="281.40" y2="611.00" stroke="#000" stroke-width="1.0" />
<text x="276.10" y="613.90" font-size="8.0" text-anchor="end" font-weight="normal" fill="#231f20" stroke="#231f20" stroke-width="0.18" >10</text>
<line x1="278.10" y1="594.70" x2="281.40" y2="594.70" stroke="#000" stroke-width="1.0" />
<text x="276.10" y="597.60" font-size="8.0" text-anchor="end" font-weight="normal" fill="#231f20" stroke="#231f20" stroke-width="0.18" >12</text>
<line x1="289.25" y1="693.80" x2="289.25" y2="697.00" stroke="#000" stroke-width="1.0" />
<text x="289.25" y="707.00" font-size="8.0" text-anchor="middle" font-weight="normal" fill="#231f20" stroke="#231f20" stroke-width="0.18" >0</text>
<line x1="307.41" y1="693.80" x2="307.41" y2="697.00" stroke="#000" stroke-width="1.0" />
<text x="307.41" y="707.00" font-size="8.0" text-anchor="middle" font-weight="normal" fill="#231f20" stroke="#231f20" stroke-width="0.18" >2</text>
<line x1="325.57" y1="693.80" x2="325.57" y2="697.00" stroke="#000" stroke-width="1.0" />
<text x="325.57" y="707.00" font-size="8.0" text-anchor="middle" font-weight="normal" fill="#231f20" stroke="#231f20" stroke-width="0.18" >4</text>
<line x1="343.73" y1="693.80" x2="343.73" y2="697.00" stroke="#000" stroke-width="1.0" />
<text x="343.73" y="707.00" font-size="8.0" text-anchor="middle" font-weight="normal" fill="#231f20" stroke="#231f20" stroke-width="0.18" >6</text>
<line x1="361.89" y1="693.80" x2="361.89" y2="697.00" stroke="#000" stroke-width="1.0" />
<text x="361.89" y="707.00" font-size="8.0" text-anchor="middle" font-weight="normal" fill="#231f20" stroke="#231f20" stroke-width="0.18" >8</text>
<line x1="380.05" y1="693.80" x2="380.05" y2="697.00" stroke="#000" stroke-width="1.0" />
<text x="380.05" y="707.00" font-size="8.0" text-anchor="middle" font-weight="normal" fill="#231f20" stroke="#231f20" stroke-width="0.18" >10</text>
<rect x="281.40" y="589.70" width="109.60" height="104.10" fill="none" stroke="#000" stroke-width="1.3"/>
<text x="287.3" y="600.2" font-size="7.9" fill="#231f20"><tspan font-style="italic">r</tspan><tspan font-size="5.2" dy="1.8">s</tspan><tspan dy="-1.8"> = 0.65</tspan></text>
<text x="287.30" y="608.40" font-size="7.9" text-anchor="start" font-weight="normal" fill="#231f20" stroke="#231f20" stroke-width="0.1" textLength="40.7" lengthAdjust="spacingAndGlyphs" >p = 1.81e-90</text>
<text x="335.80" y="719.80" font-size="9.3" text-anchor="middle" font-weight="normal" fill="#231f20" stroke="#231f20" stroke-width="0.18" textLength="21.5" lengthAdjust="spacingAndGlyphs" >Sepsis</text>
<text x="335.80" y="731.30" font-size="8.8" text-anchor="middle" font-weight="bold" fill="#231f20" textLength="24.5" lengthAdjust="spacingAndGlyphs" >Human</text>
<text transform="translate(250.30,641.50) rotate(-90)" x="0" y="0" font-size="9.7" text-anchor="middle" font-weight="bold" fill="#231f20" textLength="23.1" lengthAdjust="spacingAndGlyphs">Mouse</text>
<text transform="translate(260.90,639.50) rotate(-90)" x="0" y="0" font-size="9.2" text-anchor="middle" font-weight="normal" fill="#231f20" stroke="#231f20" stroke-width="0.18" textLength="16.4" lengthAdjust="spacingAndGlyphs">CLP</text>
<rect x="0" y="0" width="520" height="1.1" fill="#000"/>
<rect x="0" y="0" width="1.1" height="742" fill="#000"/>
<rect x="518.5" y="0" width="1.5" height="742" fill="#000"/>
<rect x="0" y="740.5" width="520" height="1.5" fill="#000"/>
</svg>
</body></html>
